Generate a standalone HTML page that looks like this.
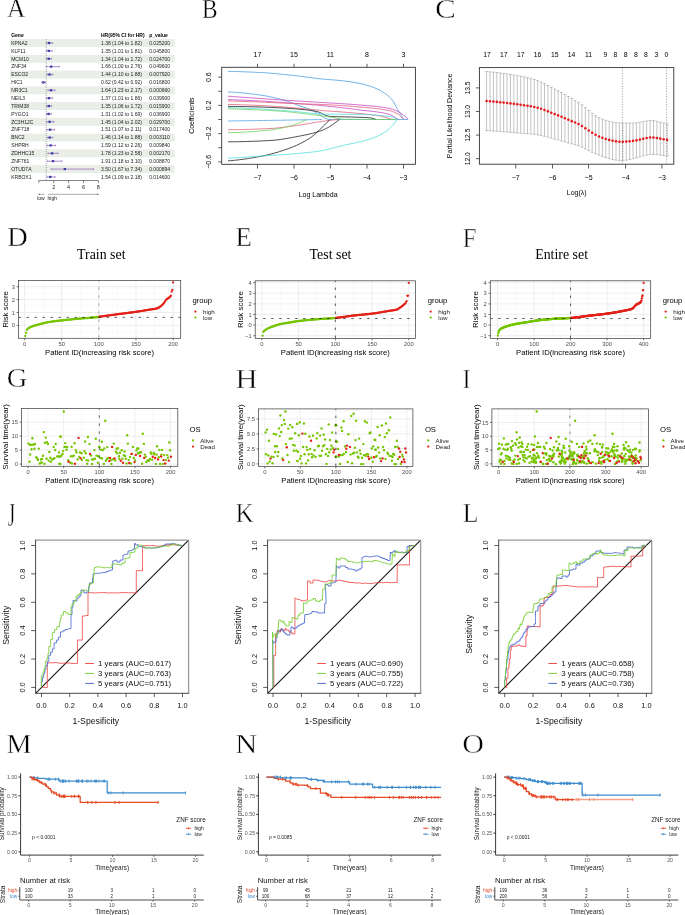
<!DOCTYPE html>
<html><head><meta charset="utf-8"><style>
html,body{margin:0;padding:0;background:#fff;}
svg{display:block;will-change:transform;}
.s{font-family:"Liberation Sans", sans-serif;}
.r{font-family:"Liberation Serif", serif;}
</style></head><body>
<svg width="685" height="915" viewBox="0 0 685 915">
<rect width="685" height="915" fill="#fff"/>
<text class="r" font-size="27.0" stroke="#fff" stroke-width="0.45" transform="translate(6.95 17.30) scale(0.9456 1.0210)">A</text>
<text class="s" x="11.20" y="36.80" font-size="5.0" font-weight="bold">Gene</text>
<text class="s" x="101.00" y="36.80" font-size="5.0" font-weight="bold">HR(95% CI for HR)</text>
<text class="s" x="149.20" y="36.80" font-size="5.0" font-weight="bold">p_value</text>
<rect x="10.00" y="39.06" width="164.70" height="7.88" fill="#e9eee7" stroke="none" stroke-width="1"/>
<rect x="10.00" y="54.82" width="164.70" height="7.88" fill="#e9eee7" stroke="none" stroke-width="1"/>
<rect x="10.00" y="70.58" width="164.70" height="7.88" fill="#e9eee7" stroke="none" stroke-width="1"/>
<rect x="10.00" y="86.34" width="164.70" height="7.88" fill="#e9eee7" stroke="none" stroke-width="1"/>
<rect x="10.00" y="102.10" width="164.70" height="7.88" fill="#e9eee7" stroke="none" stroke-width="1"/>
<rect x="10.00" y="117.86" width="164.70" height="7.88" fill="#e9eee7" stroke="none" stroke-width="1"/>
<rect x="10.00" y="133.62" width="164.70" height="7.88" fill="#e9eee7" stroke="none" stroke-width="1"/>
<rect x="10.00" y="149.38" width="164.70" height="7.88" fill="#e9eee7" stroke="none" stroke-width="1"/>
<rect x="10.00" y="165.14" width="164.70" height="7.88" fill="#e9eee7" stroke="none" stroke-width="1"/>
<line x1="46.25" y1="39.00" x2="46.25" y2="180.50" stroke="#777" stroke-width="0.6" stroke-dasharray="1,1"/>
<text class="s" x="11.20" y="44.80" font-size="5.0" fill="#222">KPNA2</text>
<text class="s" x="101.00" y="44.80" font-size="5.0" fill="#222">1.38 (1.04 to 1.82)</text>
<text class="s" x="149.20" y="44.80" font-size="5.0" fill="#222">0.025200</text>
<line x1="46.55" y1="43.00" x2="52.36" y2="43.00" stroke="#8e5bb5" stroke-width="0.7"/>
<line x1="46.55" y1="42.00" x2="46.55" y2="44.00" stroke="#8e5bb5" stroke-width="0.6"/>
<line x1="52.36" y1="42.00" x2="52.36" y2="44.00" stroke="#8e5bb5" stroke-width="0.6"/>
<rect x="47.88" y="41.90" width="2.40" height="2.20" fill="#3c3ca8" stroke="none" stroke-width="1"/>
<text class="s" x="11.20" y="52.68" font-size="5.0" fill="#222">KLF11</text>
<text class="s" x="101.00" y="52.68" font-size="5.0" fill="#222">1.35 (1.01 to 1.81)</text>
<text class="s" x="149.20" y="52.68" font-size="5.0" fill="#222">0.045800</text>
<line x1="46.32" y1="50.88" x2="52.28" y2="50.88" stroke="#8e5bb5" stroke-width="0.7"/>
<line x1="46.32" y1="49.88" x2="46.32" y2="51.88" stroke="#8e5bb5" stroke-width="0.6"/>
<line x1="52.28" y1="49.88" x2="52.28" y2="51.88" stroke="#8e5bb5" stroke-width="0.6"/>
<rect x="47.66" y="49.78" width="2.40" height="2.20" fill="#3c3ca8" stroke="none" stroke-width="1"/>
<text class="s" x="11.20" y="60.56" font-size="5.0" fill="#222">MCM10</text>
<text class="s" x="101.00" y="60.56" font-size="5.0" fill="#222">1.34 (1.04 to 1.72)</text>
<text class="s" x="149.20" y="60.56" font-size="5.0" fill="#222">0.024700</text>
<line x1="46.55" y1="58.76" x2="51.61" y2="58.76" stroke="#8e5bb5" stroke-width="0.7"/>
<line x1="46.55" y1="57.76" x2="46.55" y2="59.76" stroke="#8e5bb5" stroke-width="0.6"/>
<line x1="51.61" y1="57.76" x2="51.61" y2="59.76" stroke="#8e5bb5" stroke-width="0.6"/>
<rect x="47.58" y="57.66" width="2.40" height="2.20" fill="#3c3ca8" stroke="none" stroke-width="1"/>
<text class="s" x="11.20" y="68.44" font-size="5.0" fill="#222">ZNF34</text>
<text class="s" x="101.00" y="68.44" font-size="5.0" fill="#222">1.66 (1.00 to 2.76)</text>
<text class="s" x="149.20" y="68.44" font-size="5.0" fill="#222">0.049600</text>
<line x1="46.25" y1="66.64" x2="59.36" y2="66.64" stroke="#8e5bb5" stroke-width="0.7"/>
<line x1="46.25" y1="65.64" x2="46.25" y2="67.64" stroke="#8e5bb5" stroke-width="0.6"/>
<line x1="59.36" y1="65.64" x2="59.36" y2="67.64" stroke="#8e5bb5" stroke-width="0.6"/>
<rect x="49.97" y="65.54" width="2.40" height="2.20" fill="#3c3ca8" stroke="none" stroke-width="1"/>
<text class="s" x="11.20" y="76.32" font-size="5.0" fill="#222">ESCO2</text>
<text class="s" x="101.00" y="76.32" font-size="5.0" fill="#222">1.44 (1.10 to 1.88)</text>
<text class="s" x="149.20" y="76.32" font-size="5.0" fill="#222">0.007920</text>
<line x1="46.99" y1="74.52" x2="52.81" y2="74.52" stroke="#8e5bb5" stroke-width="0.7"/>
<line x1="46.99" y1="73.52" x2="46.99" y2="75.52" stroke="#8e5bb5" stroke-width="0.6"/>
<line x1="52.81" y1="73.52" x2="52.81" y2="75.52" stroke="#8e5bb5" stroke-width="0.6"/>
<rect x="48.33" y="73.42" width="2.40" height="2.20" fill="#3c3ca8" stroke="none" stroke-width="1"/>
<text class="s" x="11.20" y="84.20" font-size="5.0" fill="#222">HIC1</text>
<text class="s" x="101.00" y="84.20" font-size="5.0" fill="#222">0.62 (0.42 to 0.92)</text>
<text class="s" x="149.20" y="84.20" font-size="5.0" fill="#222">0.016800</text>
<line x1="41.93" y1="82.40" x2="45.65" y2="82.40" stroke="#8e5bb5" stroke-width="0.7"/>
<line x1="41.93" y1="81.40" x2="41.93" y2="83.40" stroke="#8e5bb5" stroke-width="0.6"/>
<line x1="45.65" y1="81.40" x2="45.65" y2="83.40" stroke="#8e5bb5" stroke-width="0.6"/>
<rect x="42.22" y="81.30" width="2.40" height="2.20" fill="#3c3ca8" stroke="none" stroke-width="1"/>
<text class="s" x="11.20" y="92.08" font-size="5.0" fill="#222">NR3C1</text>
<text class="s" x="101.00" y="92.08" font-size="5.0" fill="#222">1.64 (1.23 to 2.17)</text>
<text class="s" x="149.20" y="92.08" font-size="5.0" fill="#222">0.000660</text>
<line x1="47.96" y1="90.28" x2="54.97" y2="90.28" stroke="#8e5bb5" stroke-width="0.7"/>
<line x1="47.96" y1="89.28" x2="47.96" y2="91.28" stroke="#8e5bb5" stroke-width="0.6"/>
<line x1="54.97" y1="89.28" x2="54.97" y2="91.28" stroke="#8e5bb5" stroke-width="0.6"/>
<rect x="49.82" y="89.18" width="2.40" height="2.20" fill="#3c3ca8" stroke="none" stroke-width="1"/>
<text class="s" x="11.20" y="99.96" font-size="5.0" fill="#222">NEIL3</text>
<text class="s" x="101.00" y="99.96" font-size="5.0" fill="#222">1.37 (1.01 to 1.86)</text>
<text class="s" x="149.20" y="99.96" font-size="5.0" fill="#222">0.039900</text>
<line x1="46.32" y1="98.16" x2="52.66" y2="98.16" stroke="#8e5bb5" stroke-width="0.7"/>
<line x1="46.32" y1="97.16" x2="46.32" y2="99.16" stroke="#8e5bb5" stroke-width="0.6"/>
<line x1="52.66" y1="97.16" x2="52.66" y2="99.16" stroke="#8e5bb5" stroke-width="0.6"/>
<rect x="47.81" y="97.06" width="2.40" height="2.20" fill="#3c3ca8" stroke="none" stroke-width="1"/>
<text class="s" x="11.20" y="107.84" font-size="5.0" fill="#222">TRIM38</text>
<text class="s" x="101.00" y="107.84" font-size="5.0" fill="#222">1.35 (1.06 to 1.72)</text>
<text class="s" x="149.20" y="107.84" font-size="5.0" fill="#222">0.015900</text>
<line x1="46.70" y1="106.04" x2="51.61" y2="106.04" stroke="#8e5bb5" stroke-width="0.7"/>
<line x1="46.70" y1="105.04" x2="46.70" y2="107.04" stroke="#8e5bb5" stroke-width="0.6"/>
<line x1="51.61" y1="105.04" x2="51.61" y2="107.04" stroke="#8e5bb5" stroke-width="0.6"/>
<rect x="47.66" y="104.94" width="2.40" height="2.20" fill="#3c3ca8" stroke="none" stroke-width="1"/>
<text class="s" x="11.20" y="115.72" font-size="5.0" fill="#222">PYGO1</text>
<text class="s" x="101.00" y="115.72" font-size="5.0" fill="#222">1.31 (1.02 to 1.69)</text>
<text class="s" x="149.20" y="115.72" font-size="5.0" fill="#222">0.036900</text>
<line x1="46.40" y1="113.92" x2="51.39" y2="113.92" stroke="#8e5bb5" stroke-width="0.7"/>
<line x1="46.40" y1="112.92" x2="46.40" y2="114.92" stroke="#8e5bb5" stroke-width="0.6"/>
<line x1="51.39" y1="112.92" x2="51.39" y2="114.92" stroke="#8e5bb5" stroke-width="0.6"/>
<rect x="47.36" y="112.82" width="2.40" height="2.20" fill="#3c3ca8" stroke="none" stroke-width="1"/>
<text class="s" x="11.20" y="123.60" font-size="5.0" fill="#222">ZC3H12C</text>
<text class="s" x="101.00" y="123.60" font-size="5.0" fill="#222">1.45 (1.04 to 2.02)</text>
<text class="s" x="149.20" y="123.60" font-size="5.0" fill="#222">0.029700</text>
<line x1="46.55" y1="121.80" x2="53.85" y2="121.80" stroke="#8e5bb5" stroke-width="0.7"/>
<line x1="46.55" y1="120.80" x2="46.55" y2="122.80" stroke="#8e5bb5" stroke-width="0.6"/>
<line x1="53.85" y1="120.80" x2="53.85" y2="122.80" stroke="#8e5bb5" stroke-width="0.6"/>
<rect x="48.40" y="120.70" width="2.40" height="2.20" fill="#3c3ca8" stroke="none" stroke-width="1"/>
<text class="s" x="11.20" y="131.48" font-size="5.0" fill="#222">ZNF718</text>
<text class="s" x="101.00" y="131.48" font-size="5.0" fill="#222">1.51 (1.07 to 2.11)</text>
<text class="s" x="149.20" y="131.48" font-size="5.0" fill="#222">0.017400</text>
<line x1="46.77" y1="129.68" x2="54.52" y2="129.68" stroke="#8e5bb5" stroke-width="0.7"/>
<line x1="46.77" y1="128.68" x2="46.77" y2="130.68" stroke="#8e5bb5" stroke-width="0.6"/>
<line x1="54.52" y1="128.68" x2="54.52" y2="130.68" stroke="#8e5bb5" stroke-width="0.6"/>
<rect x="48.85" y="128.58" width="2.40" height="2.20" fill="#3c3ca8" stroke="none" stroke-width="1"/>
<text class="s" x="11.20" y="139.36" font-size="5.0" fill="#222">BNC2</text>
<text class="s" x="101.00" y="139.36" font-size="5.0" fill="#222">1.46 (1.14 to 1.88)</text>
<text class="s" x="149.20" y="139.36" font-size="5.0" fill="#222">0.003110</text>
<line x1="47.29" y1="137.56" x2="52.81" y2="137.56" stroke="#8e5bb5" stroke-width="0.7"/>
<line x1="47.29" y1="136.56" x2="47.29" y2="138.56" stroke="#8e5bb5" stroke-width="0.6"/>
<line x1="52.81" y1="136.56" x2="52.81" y2="138.56" stroke="#8e5bb5" stroke-width="0.6"/>
<rect x="48.48" y="136.46" width="2.40" height="2.20" fill="#3c3ca8" stroke="none" stroke-width="1"/>
<text class="s" x="11.20" y="147.24" font-size="5.0" fill="#222">SHPRH</text>
<text class="s" x="101.00" y="147.24" font-size="5.0" fill="#222">1.59 (1.12 to 2.26)</text>
<text class="s" x="149.20" y="147.24" font-size="5.0" fill="#222">0.009840</text>
<line x1="47.14" y1="145.44" x2="55.64" y2="145.44" stroke="#8e5bb5" stroke-width="0.7"/>
<line x1="47.14" y1="144.44" x2="47.14" y2="146.44" stroke="#8e5bb5" stroke-width="0.6"/>
<line x1="55.64" y1="144.44" x2="55.64" y2="146.44" stroke="#8e5bb5" stroke-width="0.6"/>
<rect x="49.45" y="144.34" width="2.40" height="2.20" fill="#3c3ca8" stroke="none" stroke-width="1"/>
<text class="s" x="11.20" y="155.12" font-size="5.0" fill="#222">ZDHHC15</text>
<text class="s" x="101.00" y="155.12" font-size="5.0" fill="#222">1.78 (1.23 to 2.58)</text>
<text class="s" x="149.20" y="155.12" font-size="5.0" fill="#222">0.002170</text>
<line x1="47.96" y1="153.32" x2="58.02" y2="153.32" stroke="#8e5bb5" stroke-width="0.7"/>
<line x1="47.96" y1="152.32" x2="47.96" y2="154.32" stroke="#8e5bb5" stroke-width="0.6"/>
<line x1="58.02" y1="152.32" x2="58.02" y2="154.32" stroke="#8e5bb5" stroke-width="0.6"/>
<rect x="50.86" y="152.22" width="2.40" height="2.20" fill="#3c3ca8" stroke="none" stroke-width="1"/>
<text class="s" x="11.20" y="163.00" font-size="5.0" fill="#222">ZNF761</text>
<text class="s" x="101.00" y="163.00" font-size="5.0" fill="#222">1.91 (1.18 to 3.10)</text>
<text class="s" x="149.20" y="163.00" font-size="5.0" fill="#222">0.008870</text>
<line x1="47.59" y1="161.20" x2="61.89" y2="161.20" stroke="#8e5bb5" stroke-width="0.7"/>
<line x1="47.59" y1="160.20" x2="47.59" y2="162.20" stroke="#8e5bb5" stroke-width="0.6"/>
<line x1="61.89" y1="160.20" x2="61.89" y2="162.20" stroke="#8e5bb5" stroke-width="0.6"/>
<rect x="51.83" y="160.10" width="2.40" height="2.20" fill="#3c3ca8" stroke="none" stroke-width="1"/>
<text class="s" x="11.20" y="170.88" font-size="5.0" fill="#222">OTUD7A</text>
<text class="s" x="101.00" y="170.88" font-size="5.0" fill="#222">3.50 (1.67 to 7.34)</text>
<text class="s" x="149.20" y="170.88" font-size="5.0" fill="#222">0.000894</text>
<line x1="51.24" y1="169.08" x2="93.48" y2="169.08" stroke="#8e5bb5" stroke-width="0.7"/>
<line x1="51.24" y1="168.08" x2="51.24" y2="170.08" stroke="#8e5bb5" stroke-width="0.6"/>
<line x1="93.48" y1="168.08" x2="93.48" y2="170.08" stroke="#8e5bb5" stroke-width="0.6"/>
<rect x="63.67" y="167.98" width="2.40" height="2.20" fill="#3c3ca8" stroke="none" stroke-width="1"/>
<text class="s" x="11.20" y="178.76" font-size="5.0" fill="#222">KRBOX1</text>
<text class="s" x="101.00" y="178.76" font-size="5.0" fill="#222">1.54 (1.09 to 2.18)</text>
<text class="s" x="149.20" y="178.76" font-size="5.0" fill="#222">0.014600</text>
<line x1="46.92" y1="176.96" x2="55.04" y2="176.96" stroke="#8e5bb5" stroke-width="0.7"/>
<line x1="46.92" y1="175.96" x2="46.92" y2="177.96" stroke="#8e5bb5" stroke-width="0.6"/>
<line x1="55.04" y1="175.96" x2="55.04" y2="177.96" stroke="#8e5bb5" stroke-width="0.6"/>
<rect x="49.07" y="175.86" width="2.40" height="2.20" fill="#3c3ca8" stroke="none" stroke-width="1"/>
<line x1="38.80" y1="180.50" x2="98.40" y2="180.50" stroke="#333" stroke-width="0.6"/>
<line x1="38.80" y1="180.50" x2="38.80" y2="183.10" stroke="#333" stroke-width="0.6"/>
<line x1="53.70" y1="180.50" x2="53.70" y2="183.10" stroke="#333" stroke-width="0.6"/>
<text class="s" x="53.70" y="189.00" font-size="5.5" text-anchor="middle" fill="#222">2</text>
<line x1="68.60" y1="180.50" x2="68.60" y2="183.10" stroke="#333" stroke-width="0.6"/>
<text class="s" x="68.60" y="189.00" font-size="5.5" text-anchor="middle" fill="#222">4</text>
<line x1="83.50" y1="180.50" x2="83.50" y2="183.10" stroke="#333" stroke-width="0.6"/>
<text class="s" x="83.50" y="189.00" font-size="5.5" text-anchor="middle" fill="#222">6</text>
<line x1="98.40" y1="180.50" x2="98.40" y2="183.10" stroke="#333" stroke-width="0.6"/>
<text class="s" x="98.40" y="189.00" font-size="5.5" text-anchor="middle" fill="#222">8</text>
<line x1="38.50" y1="194.30" x2="44.50" y2="194.30" stroke="#555" stroke-width="0.5"/>
<path d="M38.3,194.3 l1.5,-0.8 v1.6 z" fill="#555"/>
<line x1="48.00" y1="194.30" x2="98.50" y2="194.30" stroke="#555" stroke-width="0.5"/>
<path d="M98.8,194.3 l-1.5,-0.8 v1.6 z" fill="#555"/>
<text class="s" x="37.20" y="200.00" font-size="5.0" fill="#222">low</text>
<text class="s" x="47.60" y="200.00" font-size="5.0" fill="#222">high</text>
<text class="r" font-size="27.0" stroke="#fff" stroke-width="0.45" transform="translate(201.93 17.62) scale(0.8672 1.0193)">B</text>
<polyline points="228.00,71.40 230.22,71.42 232.45,71.46 234.67,71.50 236.89,71.56 239.11,71.62 241.34,71.69 243.56,71.77 245.78,71.85 248.01,71.94 250.23,72.04 252.45,72.14 254.67,72.24 256.90,72.35 259.12,72.46 261.34,72.57 263.56,72.70 265.79,72.84 268.01,73.00 270.23,73.17 272.46,73.36 274.68,73.55 276.90,73.76 279.12,73.97 281.35,74.19 283.57,74.41 285.79,74.64 288.02,74.87 290.24,75.11 292.46,75.34 294.68,75.57 296.91,75.82 299.13,76.09 301.35,76.37 303.57,76.67 305.80,76.97 308.02,77.27 310.24,77.57 312.47,77.87 314.69,78.16 316.91,78.44 319.13,78.70 321.36,78.94 323.58,79.15 325.80,79.34 328.03,79.51 330.25,79.68 332.47,79.84 334.69,80.01 336.92,80.20 339.14,80.41 341.36,80.65 343.58,80.90 345.81,81.18 348.03,81.48 350.25,81.80 352.48,82.14 354.70,82.51 356.92,82.90 359.14,83.33 361.37,83.79 363.59,84.32 365.81,84.91 368.04,85.57 370.26,86.29 372.48,87.06 374.70,87.89 376.93,88.81 379.15,89.89 381.37,91.12 383.59,92.49 385.82,93.99 388.04,95.71 390.26,97.74 392.49,100.21 394.71,104.00 396.93,108.18 399.15,111.91 401.38,115.64 403.60,119.50" fill="none" stroke="#4aa0e4" stroke-width="0.8" stroke-linejoin="round"/>
<polyline points="228.00,92.00 230.28,92.07 232.56,92.17 234.84,92.30 237.11,92.45 239.39,92.63 241.67,92.83 243.95,93.05 246.23,93.29 248.51,93.55 250.78,93.82 253.06,94.10 255.34,94.39 257.62,94.68 259.90,94.99 262.18,95.31 264.46,95.68 266.73,96.09 269.01,96.54 271.29,97.02 273.57,97.54 275.85,98.08 278.13,98.65 280.41,99.24 282.68,99.86 284.96,100.49 287.24,101.18 289.52,101.98 291.80,102.83 294.08,103.73 296.35,104.62 298.63,105.50 300.91,106.32 303.19,107.08 305.47,107.82 307.75,108.61 310.03,109.51 312.30,110.57 314.58,111.78 316.86,113.07 319.14,114.38 321.42,115.91 323.70,117.47 325.97,118.59 328.25,119.27 330.53,119.50 332.81,119.50 335.09,119.50 337.37,119.50 339.65,119.50 341.92,119.50 344.20,119.50 346.48,119.50 348.76,119.50 351.04,119.50 353.32,119.50 355.59,119.50 357.87,119.50 360.15,119.50 362.43,119.50 364.71,119.50 366.99,119.50 369.27,119.50 371.54,119.50 373.82,119.50 376.10,119.50 378.38,119.50 380.66,119.50 382.94,119.50 385.22,119.50 387.49,119.50 389.77,119.50 392.05,119.50 394.33,119.50 396.61,119.50 398.89,119.50 401.16,119.50 403.44,119.50 405.72,119.50 408.00,119.50" fill="none" stroke="#4aa0e4" stroke-width="0.8" stroke-linejoin="round"/>
<polyline points="228.00,96.20 230.28,96.37 232.56,96.54 234.85,96.71 237.13,96.87 239.41,97.04 241.69,97.21 243.98,97.37 246.26,97.53 248.54,97.70 250.82,97.86 253.11,98.02 255.39,98.18 257.67,98.34 259.95,98.50 262.23,98.65 264.52,98.81 266.80,98.97 269.08,99.12 271.36,99.27 273.65,99.43 275.93,99.58 278.21,99.73 280.49,99.88 282.77,100.03 285.06,100.18 287.34,100.33 289.62,100.48 291.90,100.62 294.19,100.77 296.47,100.91 298.75,101.05 301.03,101.20 303.32,101.34 305.60,101.48 307.88,101.62 310.16,101.76 312.44,101.90 314.73,102.04 317.01,102.18 319.29,102.33 321.57,102.47 323.86,102.62 326.14,102.76 328.42,102.90 330.70,103.03 332.98,103.17 335.27,103.31 337.55,103.44 339.83,103.58 342.11,103.72 344.40,103.87 346.68,104.01 348.96,104.17 351.24,104.32 353.53,104.49 355.81,104.66 358.09,104.84 360.37,105.03 362.65,105.22 364.94,105.41 367.22,105.60 369.50,105.80 371.78,106.00 374.07,106.22 376.35,106.46 378.63,106.73 380.91,107.01 383.19,107.33 385.48,107.68 387.76,108.07 390.04,108.52 392.32,109.17 394.61,110.01 396.89,110.98 399.17,112.11 401.45,113.58 403.74,115.29 406.02,117.24 408.30,119.50" fill="none" stroke="#c946c0" stroke-width="0.8" stroke-linejoin="round"/>
<polyline points="228.00,99.60 230.16,99.67 232.32,99.75 234.47,99.82 236.63,99.91 238.79,99.99 240.95,100.08 243.11,100.18 245.27,100.27 247.42,100.37 249.58,100.47 251.74,100.58 253.90,100.69 256.06,100.79 258.22,100.91 260.37,101.02 262.53,101.14 264.69,101.26 266.85,101.39 269.01,101.53 271.16,101.67 273.32,101.81 275.48,101.96 277.64,102.11 279.80,102.26 281.96,102.41 284.11,102.57 286.27,102.73 288.43,102.89 290.59,103.04 292.75,103.20 294.91,103.36 297.06,103.52 299.22,103.69 301.38,103.85 303.54,104.02 305.70,104.19 307.85,104.36 310.01,104.54 312.17,104.72 314.33,104.90 316.49,105.09 318.65,105.29 320.80,105.49 322.96,105.69 325.12,105.90 327.28,106.12 329.44,106.35 331.59,106.58 333.75,106.81 335.91,107.05 338.07,107.30 340.23,107.55 342.39,107.80 344.54,108.06 346.70,108.32 348.86,108.59 351.02,108.86 353.18,109.13 355.34,109.40 357.49,109.68 359.65,109.95 361.81,110.23 363.97,110.47 366.13,110.71 368.28,110.93 370.44,111.16 372.60,111.40 374.76,111.65 376.92,111.92 379.08,112.22 381.23,112.56 383.39,112.94 385.55,113.38 387.71,113.87 389.87,114.49 392.03,115.64 394.18,117.02 396.34,118.26 398.50,119.50" fill="none" stroke="#c946c0" stroke-width="0.8" stroke-linejoin="round"/>
<polyline points="228.00,101.00 230.22,101.05 232.45,101.10 234.67,101.16 236.89,101.22 239.11,101.28 241.34,101.35 243.56,101.42 245.78,101.49 248.01,101.56 250.23,101.64 252.45,101.72 254.67,101.80 256.90,101.88 259.12,101.97 261.34,102.05 263.56,102.15 265.79,102.26 268.01,102.37 270.23,102.49 272.46,102.61 274.68,102.73 276.90,102.86 279.12,102.98 281.35,103.10 283.57,103.21 285.79,103.32 288.02,103.42 290.24,103.51 292.46,103.59 294.68,103.67 296.91,103.73 299.13,103.80 301.35,103.86 303.57,103.92 305.80,103.98 308.02,104.04 310.24,104.10 312.47,104.17 314.69,104.23 316.91,104.31 319.13,104.39 321.36,104.47 323.58,104.57 325.80,104.67 328.03,104.78 330.25,104.89 332.47,105.01 334.69,105.14 336.92,105.28 339.14,105.42 341.36,105.56 343.58,105.72 345.81,105.87 348.03,106.04 350.25,106.20 352.48,106.38 354.70,106.56 356.92,106.74 359.14,106.93 361.37,107.12 363.59,107.31 365.81,107.50 368.04,107.69 370.26,107.90 372.48,108.12 374.70,108.35 376.93,108.60 379.15,108.88 381.37,109.19 383.59,109.53 385.82,109.90 388.04,110.31 390.26,110.79 392.49,111.46 394.71,112.33 396.93,113.41 399.15,114.80 401.38,116.92 403.60,119.50" fill="none" stroke="#e0607a" stroke-width="0.8" stroke-linejoin="round"/>
<polyline points="228.00,104.40 230.08,104.44 232.15,104.49 234.23,104.54 236.30,104.59 238.38,104.65 240.46,104.72 242.53,104.79 244.61,104.86 246.68,104.94 248.76,105.02 250.84,105.10 252.91,105.19 254.99,105.28 257.06,105.37 259.14,105.46 261.22,105.56 263.29,105.66 265.37,105.77 267.44,105.89 269.52,106.02 271.59,106.15 273.67,106.29 275.75,106.43 277.82,106.58 279.90,106.73 281.97,106.88 284.05,107.04 286.13,107.20 288.20,107.36 290.28,107.52 292.35,107.69 294.43,107.87 296.51,108.05 298.58,108.24 300.66,108.44 302.73,108.64 304.81,108.85 306.89,109.06 308.96,109.26 311.04,109.47 313.11,109.67 315.19,109.88 317.27,110.07 319.34,110.27 321.42,110.45 323.49,110.63 325.57,110.80 327.65,110.96 329.72,111.12 331.80,111.27 333.87,111.43 335.95,111.57 338.03,111.72 340.10,111.87 342.18,112.02 344.25,112.17 346.33,112.33 348.41,112.49 350.48,112.65 352.56,112.82 354.63,113.00 356.71,113.19 358.78,113.38 360.86,113.59 362.94,113.79 365.01,114.00 367.09,114.22 369.16,114.45 371.24,114.69 373.32,114.96 375.39,115.25 377.47,115.57 379.54,115.92 381.62,116.33 383.70,116.83 385.77,117.42 387.85,118.07 389.92,118.77 392.00,119.50" fill="none" stroke="#e0607a" stroke-width="0.8" stroke-linejoin="round"/>
<polyline points="228.00,106.40 229.87,106.41 231.75,106.42 233.62,106.44 235.49,106.46 237.37,106.48 239.24,106.51 241.11,106.54 242.99,106.58 244.86,106.62 246.73,106.66 248.61,106.70 250.48,106.75 252.35,106.80 254.23,106.84 256.10,106.89 257.97,106.94 259.85,107.00 261.72,107.05 263.59,107.11 265.47,107.18 267.34,107.25 269.22,107.32 271.09,107.41 272.96,107.49 274.84,107.59 276.71,107.68 278.58,107.79 280.46,107.89 282.33,108.00 284.20,108.12 286.08,108.24 287.95,108.36 289.82,108.49 291.70,108.62 293.57,108.75 295.44,108.89 297.32,109.04 299.19,109.20 301.06,109.37 302.94,109.55 304.81,109.74 306.68,109.95 308.56,110.18 310.43,110.43 312.30,110.70 314.18,110.99 316.05,111.31 317.92,111.80 319.80,112.53 321.67,113.41 323.54,114.32 325.42,115.17 327.29,115.87 329.16,116.31 331.04,116.46 332.91,116.55 334.78,116.62 336.66,116.68 338.53,116.73 340.41,116.77 342.28,116.81 344.15,116.85 346.03,116.89 347.90,116.94 349.77,116.99 351.65,117.05 353.52,117.11 355.39,117.16 357.27,117.20 359.14,117.26 361.01,117.32 362.89,117.38 364.76,117.47 366.63,117.57 368.51,117.69 370.38,117.84 372.25,118.23 374.13,118.84 376.00,119.50" fill="none" stroke="#1a1a1a" stroke-width="0.8" stroke-linejoin="round"/>
<polyline points="228.00,107.60 230.15,107.67 232.30,107.75 234.44,107.82 236.59,107.91 238.74,107.99 240.89,108.08 243.04,108.17 245.18,108.27 247.33,108.37 249.48,108.47 251.63,108.57 253.78,108.68 255.93,108.79 258.07,108.90 260.22,109.01 262.37,109.13 264.52,109.25 266.67,109.38 268.81,109.51 270.96,109.64 273.11,109.78 275.26,109.92 277.41,110.07 279.55,110.22 281.70,110.38 283.85,110.53 286.00,110.69 288.15,110.86 290.29,111.02 292.44,111.21 294.59,111.42 296.74,111.64 298.89,111.88 301.04,112.13 303.18,112.39 305.33,112.64 307.48,112.89 309.63,113.12 311.78,113.34 313.92,113.54 316.07,113.71 318.22,113.85 320.37,113.95 322.52,114.01 324.66,114.06 326.81,114.10 328.96,114.13 331.11,114.16 333.26,114.18 335.41,114.21 337.55,114.23 339.70,114.24 341.85,114.26 344.00,114.28 346.15,114.30 348.29,114.32 350.44,114.34 352.59,114.37 354.74,114.40 356.89,114.44 359.03,114.48 361.18,114.53 363.33,114.58 365.48,114.65 367.63,114.73 369.77,114.81 371.92,114.92 374.07,115.03 376.22,115.17 378.37,115.32 380.52,115.49 382.66,115.68 384.81,115.89 386.96,116.12 389.11,116.38 391.26,116.75 393.40,117.50 395.55,118.48 397.70,119.50" fill="none" stroke="#4fdde0" stroke-width="0.8" stroke-linejoin="round"/>
<polyline points="228.00,108.80 230.14,108.85 232.28,108.91 234.42,108.97 236.56,109.03 238.70,109.10 240.84,109.18 242.97,109.26 245.11,109.34 247.25,109.43 249.39,109.52 251.53,109.61 253.67,109.70 255.81,109.80 257.95,109.90 260.09,110.00 262.23,110.11 264.37,110.22 266.51,110.34 268.65,110.46 270.78,110.59 272.92,110.72 275.06,110.86 277.20,111.01 279.34,111.16 281.48,111.31 283.62,111.48 285.76,111.65 287.90,111.82 290.04,112.00 292.18,112.20 294.32,112.41 296.46,112.65 298.59,112.89 300.73,113.15 302.87,113.42 305.01,113.70 307.15,113.98 309.29,114.26 311.43,114.54 313.57,114.82 315.71,115.09 317.85,115.36 319.99,115.64 322.13,115.92 324.27,116.21 326.41,116.50 328.54,116.79 330.68,117.10 332.82,117.48 334.96,117.90 337.10,118.32 339.24,118.72 341.38,119.04 343.52,119.25 345.66,119.31 347.80,119.32 349.94,119.34 352.08,119.36 354.22,119.37 356.35,119.39 358.49,119.40 360.63,119.41 362.77,119.42 364.91,119.43 367.05,119.44 369.19,119.45 371.33,119.46 373.47,119.47 375.61,119.47 377.75,119.48 379.89,119.48 382.03,119.49 384.16,119.49 386.30,119.49 388.44,119.50 390.58,119.50 392.72,119.50 394.86,119.50 397.00,119.50" fill="none" stroke="#6cd05c" stroke-width="0.8" stroke-linejoin="round"/>
<polyline points="228.00,121.00 229.19,120.98 230.38,120.97 231.57,120.95 232.76,120.94 233.95,120.92 235.14,120.90 236.33,120.89 237.52,120.87 238.71,120.86 239.90,120.84 241.09,120.82 242.28,120.81 243.47,120.79 244.66,120.77 245.85,120.76 247.04,120.74 248.23,120.72 249.42,120.70 250.61,120.69 251.80,120.67 252.99,120.65 254.18,120.63 255.37,120.62 256.56,120.60 257.75,120.58 258.94,120.56 260.13,120.54 261.32,120.53 262.51,120.51 263.70,120.49 264.89,120.47 266.08,120.45 267.27,120.43 268.46,120.41 269.65,120.40 270.84,120.38 272.03,120.36 273.22,120.34 274.41,120.32 275.59,120.30 276.78,120.28 277.97,120.26 279.16,120.24 280.35,120.23 281.54,120.21 282.73,120.19 283.92,120.17 285.11,120.15 286.30,120.13 287.49,120.11 288.68,120.09 289.87,120.07 291.06,120.05 292.25,120.03 293.44,120.01 294.63,119.99 295.82,119.97 297.01,119.95 298.20,119.93 299.39,119.91 300.58,119.89 301.77,119.87 302.96,119.85 304.15,119.83 305.34,119.81 306.53,119.79 307.72,119.77 308.91,119.74 310.10,119.72 311.29,119.70 312.48,119.68 313.67,119.66 314.86,119.63 316.05,119.61 317.24,119.59 318.43,119.57 319.62,119.54 320.81,119.52 322.00,119.50" fill="none" stroke="#4aa0e4" stroke-width="0.8" stroke-linejoin="round"/>
<polyline points="228.00,129.70 229.39,129.70 230.78,129.69 232.18,129.68 233.57,129.67 234.96,129.66 236.35,129.64 237.75,129.62 239.14,129.59 240.53,129.57 241.92,129.54 243.32,129.51 244.71,129.47 246.10,129.43 247.49,129.39 248.89,129.35 250.28,129.31 251.67,129.26 253.06,129.21 254.46,129.16 255.85,129.11 257.24,129.06 258.63,129.00 260.03,128.95 261.42,128.89 262.81,128.83 264.20,128.77 265.59,128.70 266.99,128.64 268.38,128.58 269.77,128.51 271.16,128.44 272.56,128.35 273.95,128.25 275.34,128.14 276.73,128.02 278.13,127.88 279.52,127.74 280.91,127.58 282.30,127.42 283.70,127.25 285.09,127.08 286.48,126.89 287.87,126.71 289.27,126.51 290.66,126.32 292.05,126.12 293.44,125.93 294.84,125.73 296.23,125.53 297.62,125.33 299.01,125.14 300.41,124.94 301.80,124.74 303.19,124.53 304.58,124.31 305.97,124.07 307.37,123.84 308.76,123.59 310.15,123.35 311.54,123.10 312.94,122.86 314.33,122.61 315.72,122.37 317.11,122.14 318.51,121.92 319.90,121.70 321.29,121.50 322.68,121.31 324.08,121.12 325.47,120.94 326.86,120.76 328.25,120.59 329.65,120.42 331.04,120.25 332.43,120.09 333.82,119.94 335.22,119.79 336.61,119.64 338.00,119.50" fill="none" stroke="#e0607a" stroke-width="0.8" stroke-linejoin="round"/>
<polyline points="228.00,132.60 229.00,132.60 229.99,132.59 230.99,132.58 231.98,132.57 232.98,132.55 233.98,132.53 234.97,132.51 235.97,132.48 236.97,132.45 237.96,132.41 238.96,132.37 239.95,132.33 240.95,132.29 241.95,132.24 242.94,132.19 243.94,132.14 244.94,132.08 245.93,132.03 246.93,131.96 247.92,131.90 248.92,131.83 249.92,131.77 250.91,131.70 251.91,131.62 252.91,131.55 253.90,131.47 254.90,131.39 255.89,131.31 256.89,131.23 257.89,131.14 258.88,131.06 259.88,130.97 260.87,130.88 261.87,130.79 262.87,130.70 263.86,130.60 264.86,130.51 265.86,130.41 266.85,130.31 267.85,130.22 268.84,130.12 269.84,130.02 270.84,129.91 271.83,129.79 272.83,129.66 273.83,129.52 274.82,129.37 275.82,129.21 276.81,129.03 277.81,128.85 278.81,128.66 279.80,128.46 280.80,128.25 281.79,128.03 282.79,127.80 283.79,127.57 284.78,127.33 285.78,127.09 286.78,126.84 287.77,126.58 288.77,126.33 289.76,126.06 290.76,125.79 291.76,125.50 292.75,125.20 293.75,124.87 294.75,124.53 295.74,124.18 296.74,123.81 297.73,123.43 298.73,123.03 299.73,122.63 300.72,122.21 301.72,121.78 302.72,121.34 303.71,120.89 304.71,120.43 305.70,119.97 306.70,119.50" fill="none" stroke="#6cd05c" stroke-width="0.8" stroke-linejoin="round"/>
<polyline points="228.00,141.80 229.41,141.80 230.82,141.79 232.23,141.78 233.64,141.77 235.05,141.75 236.46,141.74 237.87,141.71 239.28,141.69 240.69,141.66 242.10,141.63 243.51,141.59 244.92,141.55 246.33,141.51 247.74,141.47 249.15,141.42 250.56,141.38 251.97,141.33 253.38,141.27 254.79,141.22 256.20,141.16 257.61,141.10 259.02,141.04 260.43,140.98 261.84,140.91 263.25,140.84 264.66,140.77 266.07,140.70 267.48,140.63 268.89,140.56 270.30,140.48 271.71,140.39 273.12,140.29 274.53,140.16 275.94,140.02 277.35,139.86 278.76,139.68 280.17,139.50 281.58,139.30 282.99,139.09 284.41,138.86 285.82,138.63 287.23,138.39 288.64,138.14 290.05,137.89 291.46,137.63 292.87,137.37 294.28,137.10 295.69,136.83 297.10,136.56 298.51,136.29 299.92,136.02 301.33,135.74 302.74,135.47 304.15,135.19 305.56,134.90 306.97,134.60 308.38,134.29 309.79,133.97 311.20,133.64 312.61,133.29 314.02,132.92 315.43,132.53 316.84,132.12 318.25,131.68 319.66,131.22 321.07,130.74 322.48,130.22 323.89,129.63 325.30,128.98 326.71,128.25 328.12,127.46 329.53,126.61 330.94,125.71 332.35,124.77 333.76,123.78 335.17,122.75 336.58,121.69 337.99,120.61 339.40,119.50" fill="none" stroke="#1a1a1a" stroke-width="0.8" stroke-linejoin="round"/>
<polyline points="228.00,160.80 229.29,160.72 230.58,160.63 231.87,160.53 233.16,160.42 234.45,160.30 235.74,160.17 237.03,160.03 238.32,159.89 239.61,159.73 240.90,159.57 242.19,159.40 243.48,159.23 244.77,159.04 246.06,158.85 247.35,158.66 248.64,158.46 249.93,158.25 251.22,158.04 252.51,157.82 253.80,157.60 255.09,157.38 256.38,157.15 257.67,156.92 258.96,156.69 260.25,156.45 261.54,156.21 262.83,155.95 264.12,155.68 265.41,155.40 266.70,155.11 267.99,154.80 269.28,154.48 270.57,154.16 271.86,153.82 273.15,153.47 274.44,153.11 275.73,152.74 277.02,152.35 278.31,151.96 279.59,151.56 280.88,151.15 282.17,150.73 283.46,150.30 284.75,149.87 286.04,149.42 287.33,148.97 288.62,148.50 289.91,148.03 291.20,147.55 292.49,147.05 293.78,146.52 295.07,145.98 296.36,145.42 297.65,144.83 298.94,144.22 300.23,143.59 301.52,142.94 302.81,142.26 304.10,141.55 305.39,140.82 306.68,140.07 307.97,139.29 309.26,138.48 310.55,137.63 311.84,136.70 313.13,135.68 314.42,134.60 315.71,133.45 317.00,132.26 318.29,131.04 319.58,129.81 320.87,128.57 322.16,127.35 323.45,126.11 324.74,124.84 326.03,123.54 327.32,122.22 328.61,120.87 329.90,119.50" fill="none" stroke="#1a1a1a" stroke-width="0.8" stroke-linejoin="round"/>
<polyline points="228.00,158.20 230.14,158.08 232.28,157.96 234.42,157.84 236.56,157.72 238.70,157.59 240.84,157.46 242.97,157.33 245.11,157.19 247.25,157.06 249.39,156.92 251.53,156.78 253.67,156.64 255.81,156.50 257.95,156.35 260.09,156.20 262.23,156.06 264.37,155.91 266.51,155.75 268.65,155.60 270.78,155.44 272.92,155.29 275.06,155.14 277.20,154.99 279.34,154.84 281.48,154.70 283.62,154.55 285.76,154.40 287.90,154.24 290.04,154.09 292.18,153.93 294.32,153.76 296.46,153.59 298.59,153.41 300.73,153.23 302.87,153.03 305.01,152.83 307.15,152.61 309.29,152.39 311.43,152.15 313.57,151.90 315.71,151.64 317.85,151.34 319.99,150.99 322.13,150.60 324.27,150.16 326.41,149.68 328.54,149.18 330.68,148.65 332.82,148.11 334.96,147.56 337.10,147.01 339.24,146.46 341.38,145.92 343.52,145.39 345.66,144.90 347.80,144.42 349.94,143.96 352.08,143.51 354.22,143.05 356.35,142.60 358.49,142.12 360.63,141.62 362.77,141.09 364.91,140.53 367.05,139.91 369.19,139.26 371.33,138.55 373.47,137.79 375.61,136.96 377.75,136.04 379.89,135.04 382.03,133.92 384.16,132.62 386.30,131.08 388.44,129.33 390.58,127.39 392.72,125.22 394.86,122.54 397.00,119.50" fill="none" stroke="#4fdde0" stroke-width="0.8" stroke-linejoin="round"/>
<rect x="221.70" y="67.30" width="193.70" height="97.00" fill="none" stroke="#333" stroke-width="0.9"/>
<line x1="221.70" y1="77.14" x2="218.20" y2="77.14" stroke="#333" stroke-width="0.8"/>
<line x1="221.70" y1="91.26" x2="218.20" y2="91.26" stroke="#333" stroke-width="0.8"/>
<line x1="221.70" y1="105.38" x2="218.20" y2="105.38" stroke="#333" stroke-width="0.8"/>
<line x1="221.70" y1="119.50" x2="218.20" y2="119.50" stroke="#333" stroke-width="0.8"/>
<line x1="221.70" y1="133.62" x2="218.20" y2="133.62" stroke="#333" stroke-width="0.8"/>
<line x1="221.70" y1="147.74" x2="218.20" y2="147.74" stroke="#333" stroke-width="0.8"/>
<line x1="221.70" y1="161.86" x2="218.20" y2="161.86" stroke="#333" stroke-width="0.8"/>
<text class="s" x="211.20" y="77.14" font-size="7.0" text-anchor="middle" transform="rotate(-90 211.20 77.14)">0.6</text>
<text class="s" x="211.20" y="105.38" font-size="7.0" text-anchor="middle" transform="rotate(-90 211.20 105.38)">0.2</text>
<text class="s" x="211.20" y="133.62" font-size="7.0" text-anchor="middle" transform="rotate(-90 211.20 133.62)">−0.2</text>
<text class="s" x="211.20" y="161.86" font-size="7.0" text-anchor="middle" transform="rotate(-90 211.20 161.86)">−0.6</text>
<text class="s" x="194.30" y="115.60" font-size="7.0" text-anchor="middle" transform="rotate(-90 194.30 115.60)">Coefficients</text>
<line x1="257.50" y1="164.30" x2="257.50" y2="168.60" stroke="#333" stroke-width="0.8"/>
<line x1="257.50" y1="67.30" x2="257.50" y2="63.80" stroke="#333" stroke-width="0.8"/>
<text class="s" x="257.50" y="180.00" font-size="7.0" text-anchor="middle">−7</text>
<text class="s" x="257.50" y="57.30" font-size="7.0" text-anchor="middle">17</text>
<line x1="294.00" y1="164.30" x2="294.00" y2="168.60" stroke="#333" stroke-width="0.8"/>
<line x1="294.00" y1="67.30" x2="294.00" y2="63.80" stroke="#333" stroke-width="0.8"/>
<text class="s" x="294.00" y="180.00" font-size="7.0" text-anchor="middle">−6</text>
<text class="s" x="294.00" y="57.30" font-size="7.0" text-anchor="middle">15</text>
<line x1="330.40" y1="164.30" x2="330.40" y2="168.60" stroke="#333" stroke-width="0.8"/>
<line x1="330.40" y1="67.30" x2="330.40" y2="63.80" stroke="#333" stroke-width="0.8"/>
<text class="s" x="330.40" y="180.00" font-size="7.0" text-anchor="middle">−5</text>
<text class="s" x="330.40" y="57.30" font-size="7.0" text-anchor="middle">11</text>
<line x1="367.00" y1="164.30" x2="367.00" y2="168.60" stroke="#333" stroke-width="0.8"/>
<line x1="367.00" y1="67.30" x2="367.00" y2="63.80" stroke="#333" stroke-width="0.8"/>
<text class="s" x="367.00" y="180.00" font-size="7.0" text-anchor="middle">−4</text>
<text class="s" x="367.00" y="57.30" font-size="7.0" text-anchor="middle">8</text>
<line x1="403.50" y1="164.30" x2="403.50" y2="168.60" stroke="#333" stroke-width="0.8"/>
<line x1="403.50" y1="67.30" x2="403.50" y2="63.80" stroke="#333" stroke-width="0.8"/>
<text class="s" x="403.50" y="180.00" font-size="7.0" text-anchor="middle">−3</text>
<text class="s" x="403.50" y="57.30" font-size="7.0" text-anchor="middle">3</text>
<text class="s" x="318.10" y="197.30" font-size="7.0" text-anchor="middle">Log Lambda</text>
<text class="r" font-size="27.0" stroke="#fff" stroke-width="0.45" transform="translate(434.92 18.13) scale(1.1550 1.0253)">C</text>
<line x1="486.60" y1="71.55" x2="486.60" y2="130.55" stroke="#9c9c9c" stroke-width="0.6"/>
<line x1="485.15" y1="71.55" x2="488.05" y2="71.55" stroke="#9c9c9c" stroke-width="0.6"/>
<line x1="485.15" y1="130.55" x2="488.05" y2="130.55" stroke="#9c9c9c" stroke-width="0.6"/>
<line x1="490.01" y1="71.82" x2="490.01" y2="130.79" stroke="#9c9c9c" stroke-width="0.6"/>
<line x1="488.56" y1="71.82" x2="491.46" y2="71.82" stroke="#9c9c9c" stroke-width="0.6"/>
<line x1="488.56" y1="130.79" x2="491.46" y2="130.79" stroke="#9c9c9c" stroke-width="0.6"/>
<line x1="493.41" y1="72.15" x2="493.41" y2="131.04" stroke="#9c9c9c" stroke-width="0.6"/>
<line x1="491.96" y1="72.15" x2="494.86" y2="72.15" stroke="#9c9c9c" stroke-width="0.6"/>
<line x1="491.96" y1="131.04" x2="494.86" y2="131.04" stroke="#9c9c9c" stroke-width="0.6"/>
<line x1="496.82" y1="72.54" x2="496.82" y2="131.29" stroke="#9c9c9c" stroke-width="0.6"/>
<line x1="495.37" y1="72.54" x2="498.27" y2="72.54" stroke="#9c9c9c" stroke-width="0.6"/>
<line x1="495.37" y1="131.29" x2="498.27" y2="131.29" stroke="#9c9c9c" stroke-width="0.6"/>
<line x1="500.22" y1="72.97" x2="500.22" y2="131.54" stroke="#9c9c9c" stroke-width="0.6"/>
<line x1="498.77" y1="72.97" x2="501.67" y2="72.97" stroke="#9c9c9c" stroke-width="0.6"/>
<line x1="498.77" y1="131.54" x2="501.67" y2="131.54" stroke="#9c9c9c" stroke-width="0.6"/>
<line x1="503.63" y1="73.44" x2="503.63" y2="131.80" stroke="#9c9c9c" stroke-width="0.6"/>
<line x1="502.18" y1="73.44" x2="505.08" y2="73.44" stroke="#9c9c9c" stroke-width="0.6"/>
<line x1="502.18" y1="131.80" x2="505.08" y2="131.80" stroke="#9c9c9c" stroke-width="0.6"/>
<line x1="507.03" y1="73.95" x2="507.03" y2="132.07" stroke="#9c9c9c" stroke-width="0.6"/>
<line x1="505.58" y1="73.95" x2="508.48" y2="73.95" stroke="#9c9c9c" stroke-width="0.6"/>
<line x1="505.58" y1="132.07" x2="508.48" y2="132.07" stroke="#9c9c9c" stroke-width="0.6"/>
<line x1="510.44" y1="74.49" x2="510.44" y2="132.34" stroke="#9c9c9c" stroke-width="0.6"/>
<line x1="508.99" y1="74.49" x2="511.89" y2="74.49" stroke="#9c9c9c" stroke-width="0.6"/>
<line x1="508.99" y1="132.34" x2="511.89" y2="132.34" stroke="#9c9c9c" stroke-width="0.6"/>
<line x1="513.85" y1="75.06" x2="513.85" y2="132.61" stroke="#9c9c9c" stroke-width="0.6"/>
<line x1="512.40" y1="75.06" x2="515.30" y2="75.06" stroke="#9c9c9c" stroke-width="0.6"/>
<line x1="512.40" y1="132.61" x2="515.30" y2="132.61" stroke="#9c9c9c" stroke-width="0.6"/>
<line x1="517.25" y1="75.65" x2="517.25" y2="132.90" stroke="#9c9c9c" stroke-width="0.6"/>
<line x1="515.80" y1="75.65" x2="518.70" y2="75.65" stroke="#9c9c9c" stroke-width="0.6"/>
<line x1="515.80" y1="132.90" x2="518.70" y2="132.90" stroke="#9c9c9c" stroke-width="0.6"/>
<line x1="520.66" y1="76.25" x2="520.66" y2="133.18" stroke="#9c9c9c" stroke-width="0.6"/>
<line x1="519.21" y1="76.25" x2="522.11" y2="76.25" stroke="#9c9c9c" stroke-width="0.6"/>
<line x1="519.21" y1="133.18" x2="522.11" y2="133.18" stroke="#9c9c9c" stroke-width="0.6"/>
<line x1="524.06" y1="76.91" x2="524.06" y2="133.46" stroke="#9c9c9c" stroke-width="0.6"/>
<line x1="522.61" y1="76.91" x2="525.51" y2="76.91" stroke="#9c9c9c" stroke-width="0.6"/>
<line x1="522.61" y1="133.46" x2="525.51" y2="133.46" stroke="#9c9c9c" stroke-width="0.6"/>
<line x1="527.47" y1="77.67" x2="527.47" y2="133.72" stroke="#9c9c9c" stroke-width="0.6"/>
<line x1="526.02" y1="77.67" x2="528.92" y2="77.67" stroke="#9c9c9c" stroke-width="0.6"/>
<line x1="526.02" y1="133.72" x2="528.92" y2="133.72" stroke="#9c9c9c" stroke-width="0.6"/>
<line x1="530.87" y1="78.54" x2="530.87" y2="134.01" stroke="#9c9c9c" stroke-width="0.6"/>
<line x1="529.42" y1="78.54" x2="532.32" y2="78.54" stroke="#9c9c9c" stroke-width="0.6"/>
<line x1="529.42" y1="134.01" x2="532.32" y2="134.01" stroke="#9c9c9c" stroke-width="0.6"/>
<line x1="534.28" y1="79.53" x2="534.28" y2="134.33" stroke="#9c9c9c" stroke-width="0.6"/>
<line x1="532.83" y1="79.53" x2="535.73" y2="79.53" stroke="#9c9c9c" stroke-width="0.6"/>
<line x1="532.83" y1="134.33" x2="535.73" y2="134.33" stroke="#9c9c9c" stroke-width="0.6"/>
<line x1="537.68" y1="80.67" x2="537.68" y2="134.76" stroke="#9c9c9c" stroke-width="0.6"/>
<line x1="536.23" y1="80.67" x2="539.13" y2="80.67" stroke="#9c9c9c" stroke-width="0.6"/>
<line x1="536.23" y1="134.76" x2="539.13" y2="134.76" stroke="#9c9c9c" stroke-width="0.6"/>
<line x1="541.09" y1="82.09" x2="541.09" y2="135.41" stroke="#9c9c9c" stroke-width="0.6"/>
<line x1="539.64" y1="82.09" x2="542.54" y2="82.09" stroke="#9c9c9c" stroke-width="0.6"/>
<line x1="539.64" y1="135.41" x2="542.54" y2="135.41" stroke="#9c9c9c" stroke-width="0.6"/>
<line x1="544.50" y1="83.72" x2="544.50" y2="136.25" stroke="#9c9c9c" stroke-width="0.6"/>
<line x1="543.05" y1="83.72" x2="545.95" y2="83.72" stroke="#9c9c9c" stroke-width="0.6"/>
<line x1="543.05" y1="136.25" x2="545.95" y2="136.25" stroke="#9c9c9c" stroke-width="0.6"/>
<line x1="547.90" y1="85.49" x2="547.90" y2="137.19" stroke="#9c9c9c" stroke-width="0.6"/>
<line x1="546.45" y1="85.49" x2="549.35" y2="85.49" stroke="#9c9c9c" stroke-width="0.6"/>
<line x1="546.45" y1="137.19" x2="549.35" y2="137.19" stroke="#9c9c9c" stroke-width="0.6"/>
<line x1="551.31" y1="87.30" x2="551.31" y2="138.18" stroke="#9c9c9c" stroke-width="0.6"/>
<line x1="549.86" y1="87.30" x2="552.76" y2="87.30" stroke="#9c9c9c" stroke-width="0.6"/>
<line x1="549.86" y1="138.18" x2="552.76" y2="138.18" stroke="#9c9c9c" stroke-width="0.6"/>
<line x1="554.71" y1="89.06" x2="554.71" y2="139.12" stroke="#9c9c9c" stroke-width="0.6"/>
<line x1="553.26" y1="89.06" x2="556.16" y2="89.06" stroke="#9c9c9c" stroke-width="0.6"/>
<line x1="553.26" y1="139.12" x2="556.16" y2="139.12" stroke="#9c9c9c" stroke-width="0.6"/>
<line x1="558.12" y1="90.79" x2="558.12" y2="140.02" stroke="#9c9c9c" stroke-width="0.6"/>
<line x1="556.67" y1="90.79" x2="559.57" y2="90.79" stroke="#9c9c9c" stroke-width="0.6"/>
<line x1="556.67" y1="140.02" x2="559.57" y2="140.02" stroke="#9c9c9c" stroke-width="0.6"/>
<line x1="561.52" y1="92.61" x2="561.52" y2="140.93" stroke="#9c9c9c" stroke-width="0.6"/>
<line x1="560.07" y1="92.61" x2="562.97" y2="92.61" stroke="#9c9c9c" stroke-width="0.6"/>
<line x1="560.07" y1="140.93" x2="562.97" y2="140.93" stroke="#9c9c9c" stroke-width="0.6"/>
<line x1="564.93" y1="94.53" x2="564.93" y2="141.89" stroke="#9c9c9c" stroke-width="0.6"/>
<line x1="563.48" y1="94.53" x2="566.38" y2="94.53" stroke="#9c9c9c" stroke-width="0.6"/>
<line x1="563.48" y1="141.89" x2="566.38" y2="141.89" stroke="#9c9c9c" stroke-width="0.6"/>
<line x1="568.34" y1="96.51" x2="568.34" y2="142.88" stroke="#9c9c9c" stroke-width="0.6"/>
<line x1="566.89" y1="96.51" x2="569.79" y2="96.51" stroke="#9c9c9c" stroke-width="0.6"/>
<line x1="566.89" y1="142.88" x2="569.79" y2="142.88" stroke="#9c9c9c" stroke-width="0.6"/>
<line x1="571.74" y1="98.48" x2="571.74" y2="143.84" stroke="#9c9c9c" stroke-width="0.6"/>
<line x1="570.29" y1="98.48" x2="573.19" y2="98.48" stroke="#9c9c9c" stroke-width="0.6"/>
<line x1="570.29" y1="143.84" x2="573.19" y2="143.84" stroke="#9c9c9c" stroke-width="0.6"/>
<line x1="575.15" y1="100.34" x2="575.15" y2="144.71" stroke="#9c9c9c" stroke-width="0.6"/>
<line x1="573.70" y1="100.34" x2="576.60" y2="100.34" stroke="#9c9c9c" stroke-width="0.6"/>
<line x1="573.70" y1="144.71" x2="576.60" y2="144.71" stroke="#9c9c9c" stroke-width="0.6"/>
<line x1="578.55" y1="102.33" x2="578.55" y2="145.72" stroke="#9c9c9c" stroke-width="0.6"/>
<line x1="577.10" y1="102.33" x2="580.00" y2="102.33" stroke="#9c9c9c" stroke-width="0.6"/>
<line x1="577.10" y1="145.72" x2="580.00" y2="145.72" stroke="#9c9c9c" stroke-width="0.6"/>
<line x1="581.96" y1="104.82" x2="581.96" y2="147.25" stroke="#9c9c9c" stroke-width="0.6"/>
<line x1="580.51" y1="104.82" x2="583.41" y2="104.82" stroke="#9c9c9c" stroke-width="0.6"/>
<line x1="580.51" y1="147.25" x2="583.41" y2="147.25" stroke="#9c9c9c" stroke-width="0.6"/>
<line x1="585.36" y1="107.64" x2="585.36" y2="148.94" stroke="#9c9c9c" stroke-width="0.6"/>
<line x1="583.91" y1="107.64" x2="586.81" y2="107.64" stroke="#9c9c9c" stroke-width="0.6"/>
<line x1="583.91" y1="148.94" x2="586.81" y2="148.94" stroke="#9c9c9c" stroke-width="0.6"/>
<line x1="588.77" y1="110.46" x2="588.77" y2="150.57" stroke="#9c9c9c" stroke-width="0.6"/>
<line x1="587.32" y1="110.46" x2="590.22" y2="110.46" stroke="#9c9c9c" stroke-width="0.6"/>
<line x1="587.32" y1="150.57" x2="590.22" y2="150.57" stroke="#9c9c9c" stroke-width="0.6"/>
<line x1="592.18" y1="113.28" x2="592.18" y2="152.25" stroke="#9c9c9c" stroke-width="0.6"/>
<line x1="590.73" y1="113.28" x2="593.63" y2="113.28" stroke="#9c9c9c" stroke-width="0.6"/>
<line x1="590.73" y1="152.25" x2="593.63" y2="152.25" stroke="#9c9c9c" stroke-width="0.6"/>
<line x1="595.58" y1="115.73" x2="595.58" y2="153.76" stroke="#9c9c9c" stroke-width="0.6"/>
<line x1="594.13" y1="115.73" x2="597.03" y2="115.73" stroke="#9c9c9c" stroke-width="0.6"/>
<line x1="594.13" y1="153.76" x2="597.03" y2="153.76" stroke="#9c9c9c" stroke-width="0.6"/>
<line x1="598.99" y1="117.73" x2="598.99" y2="155.13" stroke="#9c9c9c" stroke-width="0.6"/>
<line x1="597.54" y1="117.73" x2="600.44" y2="117.73" stroke="#9c9c9c" stroke-width="0.6"/>
<line x1="597.54" y1="155.13" x2="600.44" y2="155.13" stroke="#9c9c9c" stroke-width="0.6"/>
<line x1="602.39" y1="119.23" x2="602.39" y2="156.43" stroke="#9c9c9c" stroke-width="0.6"/>
<line x1="600.94" y1="119.23" x2="603.84" y2="119.23" stroke="#9c9c9c" stroke-width="0.6"/>
<line x1="600.94" y1="156.43" x2="603.84" y2="156.43" stroke="#9c9c9c" stroke-width="0.6"/>
<line x1="605.80" y1="120.32" x2="605.80" y2="157.56" stroke="#9c9c9c" stroke-width="0.6"/>
<line x1="604.35" y1="120.32" x2="607.25" y2="120.32" stroke="#9c9c9c" stroke-width="0.6"/>
<line x1="604.35" y1="157.56" x2="607.25" y2="157.56" stroke="#9c9c9c" stroke-width="0.6"/>
<line x1="609.20" y1="121.22" x2="609.20" y2="158.53" stroke="#9c9c9c" stroke-width="0.6"/>
<line x1="607.75" y1="121.22" x2="610.65" y2="121.22" stroke="#9c9c9c" stroke-width="0.6"/>
<line x1="607.75" y1="158.53" x2="610.65" y2="158.53" stroke="#9c9c9c" stroke-width="0.6"/>
<line x1="612.61" y1="122.07" x2="612.61" y2="159.49" stroke="#9c9c9c" stroke-width="0.6"/>
<line x1="611.16" y1="122.07" x2="614.06" y2="122.07" stroke="#9c9c9c" stroke-width="0.6"/>
<line x1="611.16" y1="159.49" x2="614.06" y2="159.49" stroke="#9c9c9c" stroke-width="0.6"/>
<line x1="616.02" y1="122.61" x2="616.02" y2="160.12" stroke="#9c9c9c" stroke-width="0.6"/>
<line x1="614.57" y1="122.61" x2="617.47" y2="122.61" stroke="#9c9c9c" stroke-width="0.6"/>
<line x1="614.57" y1="160.12" x2="617.47" y2="160.12" stroke="#9c9c9c" stroke-width="0.6"/>
<line x1="619.42" y1="122.89" x2="619.42" y2="160.48" stroke="#9c9c9c" stroke-width="0.6"/>
<line x1="617.97" y1="122.89" x2="620.87" y2="122.89" stroke="#9c9c9c" stroke-width="0.6"/>
<line x1="617.97" y1="160.48" x2="620.87" y2="160.48" stroke="#9c9c9c" stroke-width="0.6"/>
<line x1="622.83" y1="123.01" x2="622.83" y2="160.59" stroke="#9c9c9c" stroke-width="0.6"/>
<line x1="621.38" y1="123.01" x2="624.28" y2="123.01" stroke="#9c9c9c" stroke-width="0.6"/>
<line x1="621.38" y1="160.59" x2="624.28" y2="160.59" stroke="#9c9c9c" stroke-width="0.6"/>
<line x1="626.23" y1="123.01" x2="626.23" y2="160.20" stroke="#9c9c9c" stroke-width="0.6"/>
<line x1="624.78" y1="123.01" x2="627.68" y2="123.01" stroke="#9c9c9c" stroke-width="0.6"/>
<line x1="624.78" y1="160.20" x2="627.68" y2="160.20" stroke="#9c9c9c" stroke-width="0.6"/>
<line x1="629.64" y1="123.05" x2="629.64" y2="159.52" stroke="#9c9c9c" stroke-width="0.6"/>
<line x1="628.19" y1="123.05" x2="631.09" y2="123.05" stroke="#9c9c9c" stroke-width="0.6"/>
<line x1="628.19" y1="159.52" x2="631.09" y2="159.52" stroke="#9c9c9c" stroke-width="0.6"/>
<line x1="633.04" y1="123.04" x2="633.04" y2="158.72" stroke="#9c9c9c" stroke-width="0.6"/>
<line x1="631.59" y1="123.04" x2="634.49" y2="123.04" stroke="#9c9c9c" stroke-width="0.6"/>
<line x1="631.59" y1="158.72" x2="634.49" y2="158.72" stroke="#9c9c9c" stroke-width="0.6"/>
<line x1="636.45" y1="122.81" x2="636.45" y2="157.88" stroke="#9c9c9c" stroke-width="0.6"/>
<line x1="635.00" y1="122.81" x2="637.90" y2="122.81" stroke="#9c9c9c" stroke-width="0.6"/>
<line x1="635.00" y1="157.88" x2="637.90" y2="157.88" stroke="#9c9c9c" stroke-width="0.6"/>
<line x1="639.85" y1="122.26" x2="639.85" y2="156.99" stroke="#9c9c9c" stroke-width="0.6"/>
<line x1="638.40" y1="122.26" x2="641.30" y2="122.26" stroke="#9c9c9c" stroke-width="0.6"/>
<line x1="638.40" y1="156.99" x2="641.30" y2="156.99" stroke="#9c9c9c" stroke-width="0.6"/>
<line x1="643.26" y1="121.47" x2="643.26" y2="155.93" stroke="#9c9c9c" stroke-width="0.6"/>
<line x1="641.81" y1="121.47" x2="644.71" y2="121.47" stroke="#9c9c9c" stroke-width="0.6"/>
<line x1="641.81" y1="155.93" x2="644.71" y2="155.93" stroke="#9c9c9c" stroke-width="0.6"/>
<line x1="646.67" y1="120.90" x2="646.67" y2="155.13" stroke="#9c9c9c" stroke-width="0.6"/>
<line x1="645.22" y1="120.90" x2="648.12" y2="120.90" stroke="#9c9c9c" stroke-width="0.6"/>
<line x1="645.22" y1="155.13" x2="648.12" y2="155.13" stroke="#9c9c9c" stroke-width="0.6"/>
<line x1="650.07" y1="120.54" x2="650.07" y2="154.51" stroke="#9c9c9c" stroke-width="0.6"/>
<line x1="648.62" y1="120.54" x2="651.52" y2="120.54" stroke="#9c9c9c" stroke-width="0.6"/>
<line x1="648.62" y1="154.51" x2="651.52" y2="154.51" stroke="#9c9c9c" stroke-width="0.6"/>
<line x1="653.48" y1="120.63" x2="653.48" y2="154.28" stroke="#9c9c9c" stroke-width="0.6"/>
<line x1="652.03" y1="120.63" x2="654.93" y2="120.63" stroke="#9c9c9c" stroke-width="0.6"/>
<line x1="652.03" y1="154.28" x2="654.93" y2="154.28" stroke="#9c9c9c" stroke-width="0.6"/>
<line x1="656.88" y1="121.33" x2="656.88" y2="154.62" stroke="#9c9c9c" stroke-width="0.6"/>
<line x1="655.43" y1="121.33" x2="658.33" y2="121.33" stroke="#9c9c9c" stroke-width="0.6"/>
<line x1="655.43" y1="154.62" x2="658.33" y2="154.62" stroke="#9c9c9c" stroke-width="0.6"/>
<line x1="660.29" y1="122.19" x2="660.29" y2="155.08" stroke="#9c9c9c" stroke-width="0.6"/>
<line x1="658.84" y1="122.19" x2="661.74" y2="122.19" stroke="#9c9c9c" stroke-width="0.6"/>
<line x1="658.84" y1="155.08" x2="661.74" y2="155.08" stroke="#9c9c9c" stroke-width="0.6"/>
<line x1="663.69" y1="123.01" x2="663.69" y2="155.47" stroke="#9c9c9c" stroke-width="0.6"/>
<line x1="662.24" y1="123.01" x2="665.14" y2="123.01" stroke="#9c9c9c" stroke-width="0.6"/>
<line x1="662.24" y1="155.47" x2="665.14" y2="155.47" stroke="#9c9c9c" stroke-width="0.6"/>
<line x1="667.10" y1="123.90" x2="667.10" y2="155.90" stroke="#9c9c9c" stroke-width="0.6"/>
<line x1="665.65" y1="123.90" x2="668.55" y2="123.90" stroke="#9c9c9c" stroke-width="0.6"/>
<line x1="665.65" y1="155.90" x2="668.55" y2="155.90" stroke="#9c9c9c" stroke-width="0.6"/>
<circle cx="486.60" cy="101.05" r="1.3" fill="#e41a1c"/>
<circle cx="490.01" cy="101.31" r="1.3" fill="#e41a1c"/>
<circle cx="493.41" cy="101.60" r="1.3" fill="#e41a1c"/>
<circle cx="496.82" cy="101.91" r="1.3" fill="#e41a1c"/>
<circle cx="500.22" cy="102.26" r="1.3" fill="#e41a1c"/>
<circle cx="503.63" cy="102.62" r="1.3" fill="#e41a1c"/>
<circle cx="507.03" cy="103.01" r="1.3" fill="#e41a1c"/>
<circle cx="510.44" cy="103.42" r="1.3" fill="#e41a1c"/>
<circle cx="513.85" cy="103.84" r="1.3" fill="#e41a1c"/>
<circle cx="517.25" cy="104.27" r="1.3" fill="#e41a1c"/>
<circle cx="520.66" cy="104.72" r="1.3" fill="#e41a1c"/>
<circle cx="524.06" cy="105.18" r="1.3" fill="#e41a1c"/>
<circle cx="527.47" cy="105.70" r="1.3" fill="#e41a1c"/>
<circle cx="530.87" cy="106.27" r="1.3" fill="#e41a1c"/>
<circle cx="534.28" cy="106.93" r="1.3" fill="#e41a1c"/>
<circle cx="537.68" cy="107.71" r="1.3" fill="#e41a1c"/>
<circle cx="541.09" cy="108.75" r="1.3" fill="#e41a1c"/>
<circle cx="544.50" cy="109.99" r="1.3" fill="#e41a1c"/>
<circle cx="547.90" cy="111.34" r="1.3" fill="#e41a1c"/>
<circle cx="551.31" cy="112.74" r="1.3" fill="#e41a1c"/>
<circle cx="554.71" cy="114.09" r="1.3" fill="#e41a1c"/>
<circle cx="558.12" cy="115.41" r="1.3" fill="#e41a1c"/>
<circle cx="561.52" cy="116.77" r="1.3" fill="#e41a1c"/>
<circle cx="564.93" cy="118.21" r="1.3" fill="#e41a1c"/>
<circle cx="568.34" cy="119.69" r="1.3" fill="#e41a1c"/>
<circle cx="571.74" cy="121.16" r="1.3" fill="#e41a1c"/>
<circle cx="575.15" cy="122.53" r="1.3" fill="#e41a1c"/>
<circle cx="578.55" cy="124.03" r="1.3" fill="#e41a1c"/>
<circle cx="581.96" cy="126.03" r="1.3" fill="#e41a1c"/>
<circle cx="585.36" cy="128.29" r="1.3" fill="#e41a1c"/>
<circle cx="588.77" cy="130.52" r="1.3" fill="#e41a1c"/>
<circle cx="592.18" cy="132.77" r="1.3" fill="#e41a1c"/>
<circle cx="595.58" cy="134.75" r="1.3" fill="#e41a1c"/>
<circle cx="598.99" cy="136.43" r="1.3" fill="#e41a1c"/>
<circle cx="602.39" cy="137.83" r="1.3" fill="#e41a1c"/>
<circle cx="605.80" cy="138.94" r="1.3" fill="#e41a1c"/>
<circle cx="609.20" cy="139.88" r="1.3" fill="#e41a1c"/>
<circle cx="612.61" cy="140.78" r="1.3" fill="#e41a1c"/>
<circle cx="616.02" cy="141.37" r="1.3" fill="#e41a1c"/>
<circle cx="619.42" cy="141.69" r="1.3" fill="#e41a1c"/>
<circle cx="622.83" cy="141.80" r="1.3" fill="#e41a1c"/>
<circle cx="626.23" cy="141.61" r="1.3" fill="#e41a1c"/>
<circle cx="629.64" cy="141.29" r="1.3" fill="#e41a1c"/>
<circle cx="633.04" cy="140.88" r="1.3" fill="#e41a1c"/>
<circle cx="636.45" cy="140.35" r="1.3" fill="#e41a1c"/>
<circle cx="639.85" cy="139.62" r="1.3" fill="#e41a1c"/>
<circle cx="643.26" cy="138.70" r="1.3" fill="#e41a1c"/>
<circle cx="646.67" cy="138.01" r="1.3" fill="#e41a1c"/>
<circle cx="650.07" cy="137.52" r="1.3" fill="#e41a1c"/>
<circle cx="653.48" cy="137.45" r="1.3" fill="#e41a1c"/>
<circle cx="656.88" cy="137.98" r="1.3" fill="#e41a1c"/>
<circle cx="660.29" cy="138.63" r="1.3" fill="#e41a1c"/>
<circle cx="663.69" cy="139.24" r="1.3" fill="#e41a1c"/>
<circle cx="667.10" cy="139.90" r="1.3" fill="#e41a1c"/>
<line x1="622.40" y1="67.60" x2="622.40" y2="164.20" stroke="#555" stroke-width="0.6" stroke-dasharray="1,1.6"/>
<line x1="666.60" y1="67.60" x2="666.60" y2="164.20" stroke="#555" stroke-width="0.6" stroke-dasharray="1,1.6"/>
<rect x="479.40" y="67.60" width="194.40" height="96.60" fill="none" stroke="#333" stroke-width="0.9"/>
<line x1="479.40" y1="158.70" x2="475.90" y2="158.70" stroke="#333" stroke-width="0.8"/>
<text class="s" x="469.60" y="158.70" font-size="6.7" text-anchor="middle" transform="rotate(-90 469.60 158.70)">12.0</text>
<line x1="479.40" y1="135.10" x2="475.90" y2="135.10" stroke="#333" stroke-width="0.8"/>
<text class="s" x="469.60" y="135.10" font-size="6.7" text-anchor="middle" transform="rotate(-90 469.60 135.10)">12.5</text>
<line x1="479.40" y1="111.50" x2="475.90" y2="111.50" stroke="#333" stroke-width="0.8"/>
<text class="s" x="469.60" y="111.50" font-size="6.7" text-anchor="middle" transform="rotate(-90 469.60 111.50)">13.0</text>
<line x1="479.40" y1="87.90" x2="475.90" y2="87.90" stroke="#333" stroke-width="0.8"/>
<text class="s" x="469.60" y="87.90" font-size="6.7" text-anchor="middle" transform="rotate(-90 469.60 87.90)">13.5</text>
<text class="s" x="452.20" y="115.90" font-size="7.0" text-anchor="middle" transform="rotate(-90 452.20 115.90)">Partial Likelihood Deviance</text>
<line x1="515.70" y1="164.20" x2="515.70" y2="168.50" stroke="#333" stroke-width="0.8"/>
<text class="s" x="515.70" y="180.00" font-size="7.0" text-anchor="middle">−7</text>
<line x1="552.50" y1="164.20" x2="552.50" y2="168.50" stroke="#333" stroke-width="0.8"/>
<text class="s" x="552.50" y="180.00" font-size="7.0" text-anchor="middle">−6</text>
<line x1="588.60" y1="164.20" x2="588.60" y2="168.50" stroke="#333" stroke-width="0.8"/>
<text class="s" x="588.60" y="180.00" font-size="7.0" text-anchor="middle">−5</text>
<line x1="625.60" y1="164.20" x2="625.60" y2="168.50" stroke="#333" stroke-width="0.8"/>
<text class="s" x="625.60" y="180.00" font-size="7.0" text-anchor="middle">−4</text>
<line x1="661.90" y1="164.20" x2="661.90" y2="168.50" stroke="#333" stroke-width="0.8"/>
<text class="s" x="661.90" y="180.00" font-size="7.0" text-anchor="middle">−3</text>
<text class="s" x="487.00" y="57.30" font-size="6.8" text-anchor="middle">17</text>
<text class="s" x="503.80" y="57.30" font-size="6.8" text-anchor="middle">17</text>
<text class="s" x="520.70" y="57.30" font-size="6.8" text-anchor="middle">17</text>
<text class="s" x="537.50" y="57.30" font-size="6.8" text-anchor="middle">16</text>
<text class="s" x="554.70" y="57.30" font-size="6.8" text-anchor="middle">15</text>
<text class="s" x="571.60" y="57.30" font-size="6.8" text-anchor="middle">14</text>
<text class="s" x="588.60" y="57.30" font-size="6.8" text-anchor="middle">11</text>
<text class="s" x="605.50" y="57.30" font-size="6.8" text-anchor="middle">9</text>
<text class="s" x="615.40" y="57.30" font-size="6.8" text-anchor="middle">8</text>
<text class="s" x="625.60" y="57.30" font-size="6.8" text-anchor="middle">8</text>
<text class="s" x="636.00" y="57.30" font-size="6.8" text-anchor="middle">8</text>
<text class="s" x="646.00" y="57.30" font-size="6.8" text-anchor="middle">8</text>
<text class="s" x="656.30" y="57.30" font-size="6.8" text-anchor="middle">3</text>
<text class="s" x="666.40" y="57.30" font-size="6.8" text-anchor="middle">0</text>
<text class="s" x="576.70" y="195.00" font-size="7.0" text-anchor="middle">Log(λ)</text>
<text class="r" font-size="27.0" stroke="#fff" stroke-width="0.45" transform="translate(7.07 246.25) scale(1.0715 0.9755)">D</text>
<text class="r" font-size="13.9" text-anchor="middle" transform="translate(101.30 258.8) scale(1 1.08)">Train set</text>
<rect x="18.50" y="280.50" width="162.20" height="57.80" fill="#fff" stroke="none" stroke-width="1"/>
<line x1="18.50" y1="331.85" x2="180.70" y2="331.85" stroke="#f2f2f2" stroke-width="0.5"/>
<line x1="18.50" y1="318.95" x2="180.70" y2="318.95" stroke="#f2f2f2" stroke-width="0.5"/>
<line x1="18.50" y1="306.05" x2="180.70" y2="306.05" stroke="#f2f2f2" stroke-width="0.5"/>
<line x1="18.50" y1="293.15" x2="180.70" y2="293.15" stroke="#f2f2f2" stroke-width="0.5"/>
<line x1="43.16" y1="280.50" x2="43.16" y2="338.30" stroke="#f2f2f2" stroke-width="0.5"/>
<line x1="80.29" y1="280.50" x2="80.29" y2="338.30" stroke="#f2f2f2" stroke-width="0.5"/>
<line x1="117.41" y1="280.50" x2="117.41" y2="338.30" stroke="#f2f2f2" stroke-width="0.5"/>
<line x1="154.54" y1="280.50" x2="154.54" y2="338.30" stroke="#f2f2f2" stroke-width="0.5"/>
<line x1="18.50" y1="325.40" x2="180.70" y2="325.40" stroke="#e8e8e8" stroke-width="0.75"/>
<line x1="18.50" y1="312.50" x2="180.70" y2="312.50" stroke="#e8e8e8" stroke-width="0.75"/>
<line x1="18.50" y1="299.60" x2="180.70" y2="299.60" stroke="#e8e8e8" stroke-width="0.75"/>
<line x1="18.50" y1="286.70" x2="180.70" y2="286.70" stroke="#e8e8e8" stroke-width="0.75"/>
<line x1="24.60" y1="280.50" x2="24.60" y2="338.30" stroke="#e8e8e8" stroke-width="0.75"/>
<line x1="61.73" y1="280.50" x2="61.73" y2="338.30" stroke="#e8e8e8" stroke-width="0.75"/>
<line x1="98.85" y1="280.50" x2="98.85" y2="338.30" stroke="#e8e8e8" stroke-width="0.75"/>
<line x1="135.98" y1="280.50" x2="135.98" y2="338.30" stroke="#e8e8e8" stroke-width="0.75"/>
<line x1="173.10" y1="280.50" x2="173.10" y2="338.30" stroke="#e8e8e8" stroke-width="0.75"/>
<circle cx="25.34" cy="335.98" r="1.15" fill="#76c500"/>
<circle cx="26.09" cy="332.88" r="1.15" fill="#76c500"/>
<circle cx="26.83" cy="329.98" r="1.15" fill="#76c500"/>
<circle cx="27.57" cy="328.91" r="1.15" fill="#76c500"/>
<circle cx="28.31" cy="328.31" r="1.15" fill="#76c500"/>
<circle cx="29.05" cy="327.85" r="1.15" fill="#76c500"/>
<circle cx="29.80" cy="327.46" r="1.15" fill="#76c500"/>
<circle cx="30.54" cy="327.14" r="1.15" fill="#76c500"/>
<circle cx="31.28" cy="326.82" r="1.15" fill="#76c500"/>
<circle cx="32.03" cy="326.49" r="1.15" fill="#76c500"/>
<circle cx="32.77" cy="326.18" r="1.15" fill="#76c500"/>
<circle cx="33.51" cy="325.92" r="1.15" fill="#76c500"/>
<circle cx="34.25" cy="325.69" r="1.15" fill="#76c500"/>
<circle cx="35.00" cy="325.50" r="1.15" fill="#76c500"/>
<circle cx="35.74" cy="325.32" r="1.15" fill="#76c500"/>
<circle cx="36.48" cy="325.14" r="1.15" fill="#76c500"/>
<circle cx="37.22" cy="324.96" r="1.15" fill="#76c500"/>
<circle cx="37.97" cy="324.76" r="1.15" fill="#76c500"/>
<circle cx="38.71" cy="324.56" r="1.15" fill="#76c500"/>
<circle cx="39.45" cy="324.35" r="1.15" fill="#76c500"/>
<circle cx="40.19" cy="324.13" r="1.15" fill="#76c500"/>
<circle cx="40.94" cy="323.92" r="1.15" fill="#76c500"/>
<circle cx="41.68" cy="323.72" r="1.15" fill="#76c500"/>
<circle cx="42.42" cy="323.52" r="1.15" fill="#76c500"/>
<circle cx="43.16" cy="323.34" r="1.15" fill="#76c500"/>
<circle cx="43.91" cy="323.16" r="1.15" fill="#76c500"/>
<circle cx="44.65" cy="322.98" r="1.15" fill="#76c500"/>
<circle cx="45.39" cy="322.81" r="1.15" fill="#76c500"/>
<circle cx="46.13" cy="322.64" r="1.15" fill="#76c500"/>
<circle cx="46.88" cy="322.48" r="1.15" fill="#76c500"/>
<circle cx="47.62" cy="322.33" r="1.15" fill="#76c500"/>
<circle cx="48.36" cy="322.18" r="1.15" fill="#76c500"/>
<circle cx="49.10" cy="322.04" r="1.15" fill="#76c500"/>
<circle cx="49.84" cy="321.92" r="1.15" fill="#76c500"/>
<circle cx="50.59" cy="321.80" r="1.15" fill="#76c500"/>
<circle cx="51.33" cy="321.69" r="1.15" fill="#76c500"/>
<circle cx="52.07" cy="321.58" r="1.15" fill="#76c500"/>
<circle cx="52.82" cy="321.48" r="1.15" fill="#76c500"/>
<circle cx="53.56" cy="321.38" r="1.15" fill="#76c500"/>
<circle cx="54.30" cy="321.28" r="1.15" fill="#76c500"/>
<circle cx="55.04" cy="321.19" r="1.15" fill="#76c500"/>
<circle cx="55.79" cy="321.10" r="1.15" fill="#76c500"/>
<circle cx="56.53" cy="321.01" r="1.15" fill="#76c500"/>
<circle cx="57.27" cy="320.93" r="1.15" fill="#76c500"/>
<circle cx="58.01" cy="320.84" r="1.15" fill="#76c500"/>
<circle cx="58.76" cy="320.76" r="1.15" fill="#76c500"/>
<circle cx="59.50" cy="320.67" r="1.15" fill="#76c500"/>
<circle cx="60.24" cy="320.59" r="1.15" fill="#76c500"/>
<circle cx="60.98" cy="320.50" r="1.15" fill="#76c500"/>
<circle cx="61.73" cy="320.42" r="1.15" fill="#76c500"/>
<circle cx="62.47" cy="320.34" r="1.15" fill="#76c500"/>
<circle cx="63.21" cy="320.26" r="1.15" fill="#76c500"/>
<circle cx="63.95" cy="320.18" r="1.15" fill="#76c500"/>
<circle cx="64.70" cy="320.10" r="1.15" fill="#76c500"/>
<circle cx="65.44" cy="320.02" r="1.15" fill="#76c500"/>
<circle cx="66.18" cy="319.94" r="1.15" fill="#76c500"/>
<circle cx="66.92" cy="319.86" r="1.15" fill="#76c500"/>
<circle cx="67.67" cy="319.79" r="1.15" fill="#76c500"/>
<circle cx="68.41" cy="319.71" r="1.15" fill="#76c500"/>
<circle cx="69.15" cy="319.64" r="1.15" fill="#76c500"/>
<circle cx="69.89" cy="319.56" r="1.15" fill="#76c500"/>
<circle cx="70.64" cy="319.49" r="1.15" fill="#76c500"/>
<circle cx="71.38" cy="319.41" r="1.15" fill="#76c500"/>
<circle cx="72.12" cy="319.34" r="1.15" fill="#76c500"/>
<circle cx="72.86" cy="319.27" r="1.15" fill="#76c500"/>
<circle cx="73.61" cy="319.20" r="1.15" fill="#76c500"/>
<circle cx="74.35" cy="319.12" r="1.15" fill="#76c500"/>
<circle cx="75.09" cy="319.05" r="1.15" fill="#76c500"/>
<circle cx="75.83" cy="318.98" r="1.15" fill="#76c500"/>
<circle cx="76.58" cy="318.91" r="1.15" fill="#76c500"/>
<circle cx="77.32" cy="318.84" r="1.15" fill="#76c500"/>
<circle cx="78.06" cy="318.77" r="1.15" fill="#76c500"/>
<circle cx="78.80" cy="318.70" r="1.15" fill="#76c500"/>
<circle cx="79.55" cy="318.63" r="1.15" fill="#76c500"/>
<circle cx="80.29" cy="318.56" r="1.15" fill="#76c500"/>
<circle cx="81.03" cy="318.50" r="1.15" fill="#76c500"/>
<circle cx="81.77" cy="318.43" r="1.15" fill="#76c500"/>
<circle cx="82.52" cy="318.37" r="1.15" fill="#76c500"/>
<circle cx="83.26" cy="318.31" r="1.15" fill="#76c500"/>
<circle cx="84.00" cy="318.25" r="1.15" fill="#76c500"/>
<circle cx="84.74" cy="318.19" r="1.15" fill="#76c500"/>
<circle cx="85.49" cy="318.14" r="1.15" fill="#76c500"/>
<circle cx="86.23" cy="318.09" r="1.15" fill="#76c500"/>
<circle cx="86.97" cy="318.03" r="1.15" fill="#76c500"/>
<circle cx="87.71" cy="317.98" r="1.15" fill="#76c500"/>
<circle cx="88.46" cy="317.92" r="1.15" fill="#76c500"/>
<circle cx="89.20" cy="317.87" r="1.15" fill="#76c500"/>
<circle cx="89.94" cy="317.81" r="1.15" fill="#76c500"/>
<circle cx="90.68" cy="317.75" r="1.15" fill="#76c500"/>
<circle cx="91.43" cy="317.70" r="1.15" fill="#76c500"/>
<circle cx="92.17" cy="317.63" r="1.15" fill="#76c500"/>
<circle cx="92.91" cy="317.57" r="1.15" fill="#76c500"/>
<circle cx="93.65" cy="317.50" r="1.15" fill="#76c500"/>
<circle cx="94.40" cy="317.43" r="1.15" fill="#76c500"/>
<circle cx="95.14" cy="317.36" r="1.15" fill="#76c500"/>
<circle cx="95.88" cy="317.28" r="1.15" fill="#76c500"/>
<circle cx="96.62" cy="317.20" r="1.15" fill="#76c500"/>
<circle cx="97.37" cy="317.11" r="1.15" fill="#76c500"/>
<circle cx="98.11" cy="317.01" r="1.15" fill="#76c500"/>
<circle cx="98.85" cy="316.89" r="1.15" fill="#76c500"/>
<circle cx="99.59" cy="316.77" r="1.15" fill="#e2231a"/>
<circle cx="100.34" cy="316.65" r="1.15" fill="#e2231a"/>
<circle cx="101.08" cy="316.54" r="1.15" fill="#e2231a"/>
<circle cx="101.82" cy="316.43" r="1.15" fill="#e2231a"/>
<circle cx="102.56" cy="316.32" r="1.15" fill="#e2231a"/>
<circle cx="103.31" cy="316.21" r="1.15" fill="#e2231a"/>
<circle cx="104.05" cy="316.10" r="1.15" fill="#e2231a"/>
<circle cx="104.79" cy="316.00" r="1.15" fill="#e2231a"/>
<circle cx="105.53" cy="315.89" r="1.15" fill="#e2231a"/>
<circle cx="106.28" cy="315.79" r="1.15" fill="#e2231a"/>
<circle cx="107.02" cy="315.69" r="1.15" fill="#e2231a"/>
<circle cx="107.76" cy="315.59" r="1.15" fill="#e2231a"/>
<circle cx="108.50" cy="315.49" r="1.15" fill="#e2231a"/>
<circle cx="109.25" cy="315.39" r="1.15" fill="#e2231a"/>
<circle cx="109.99" cy="315.29" r="1.15" fill="#e2231a"/>
<circle cx="110.73" cy="315.19" r="1.15" fill="#e2231a"/>
<circle cx="111.47" cy="315.09" r="1.15" fill="#e2231a"/>
<circle cx="112.22" cy="315.00" r="1.15" fill="#e2231a"/>
<circle cx="112.96" cy="314.90" r="1.15" fill="#e2231a"/>
<circle cx="113.70" cy="314.80" r="1.15" fill="#e2231a"/>
<circle cx="114.44" cy="314.70" r="1.15" fill="#e2231a"/>
<circle cx="115.19" cy="314.60" r="1.15" fill="#e2231a"/>
<circle cx="115.93" cy="314.51" r="1.15" fill="#e2231a"/>
<circle cx="116.67" cy="314.41" r="1.15" fill="#e2231a"/>
<circle cx="117.41" cy="314.31" r="1.15" fill="#e2231a"/>
<circle cx="118.16" cy="314.21" r="1.15" fill="#e2231a"/>
<circle cx="118.90" cy="314.11" r="1.15" fill="#e2231a"/>
<circle cx="119.64" cy="314.01" r="1.15" fill="#e2231a"/>
<circle cx="120.38" cy="313.91" r="1.15" fill="#e2231a"/>
<circle cx="121.12" cy="313.82" r="1.15" fill="#e2231a"/>
<circle cx="121.87" cy="313.72" r="1.15" fill="#e2231a"/>
<circle cx="122.61" cy="313.63" r="1.15" fill="#e2231a"/>
<circle cx="123.35" cy="313.53" r="1.15" fill="#e2231a"/>
<circle cx="124.09" cy="313.44" r="1.15" fill="#e2231a"/>
<circle cx="124.84" cy="313.34" r="1.15" fill="#e2231a"/>
<circle cx="125.58" cy="313.25" r="1.15" fill="#e2231a"/>
<circle cx="126.32" cy="313.16" r="1.15" fill="#e2231a"/>
<circle cx="127.06" cy="313.06" r="1.15" fill="#e2231a"/>
<circle cx="127.81" cy="312.97" r="1.15" fill="#e2231a"/>
<circle cx="128.55" cy="312.87" r="1.15" fill="#e2231a"/>
<circle cx="129.29" cy="312.77" r="1.15" fill="#e2231a"/>
<circle cx="130.03" cy="312.68" r="1.15" fill="#e2231a"/>
<circle cx="130.78" cy="312.58" r="1.15" fill="#e2231a"/>
<circle cx="131.52" cy="312.48" r="1.15" fill="#e2231a"/>
<circle cx="132.26" cy="312.38" r="1.15" fill="#e2231a"/>
<circle cx="133.00" cy="312.28" r="1.15" fill="#e2231a"/>
<circle cx="133.75" cy="312.17" r="1.15" fill="#e2231a"/>
<circle cx="134.49" cy="312.07" r="1.15" fill="#e2231a"/>
<circle cx="135.23" cy="311.96" r="1.15" fill="#e2231a"/>
<circle cx="135.98" cy="311.85" r="1.15" fill="#e2231a"/>
<circle cx="136.72" cy="311.74" r="1.15" fill="#e2231a"/>
<circle cx="137.46" cy="311.63" r="1.15" fill="#e2231a"/>
<circle cx="138.20" cy="311.52" r="1.15" fill="#e2231a"/>
<circle cx="138.95" cy="311.40" r="1.15" fill="#e2231a"/>
<circle cx="139.69" cy="311.28" r="1.15" fill="#e2231a"/>
<circle cx="140.43" cy="311.16" r="1.15" fill="#e2231a"/>
<circle cx="141.17" cy="311.04" r="1.15" fill="#e2231a"/>
<circle cx="141.92" cy="310.92" r="1.15" fill="#e2231a"/>
<circle cx="142.66" cy="310.80" r="1.15" fill="#e2231a"/>
<circle cx="143.40" cy="310.67" r="1.15" fill="#e2231a"/>
<circle cx="144.14" cy="310.55" r="1.15" fill="#e2231a"/>
<circle cx="144.89" cy="310.42" r="1.15" fill="#e2231a"/>
<circle cx="145.63" cy="310.29" r="1.15" fill="#e2231a"/>
<circle cx="146.37" cy="310.17" r="1.15" fill="#e2231a"/>
<circle cx="147.11" cy="310.04" r="1.15" fill="#e2231a"/>
<circle cx="147.86" cy="309.91" r="1.15" fill="#e2231a"/>
<circle cx="148.60" cy="309.79" r="1.15" fill="#e2231a"/>
<circle cx="149.34" cy="309.66" r="1.15" fill="#e2231a"/>
<circle cx="150.08" cy="309.54" r="1.15" fill="#e2231a"/>
<circle cx="150.83" cy="309.44" r="1.15" fill="#e2231a"/>
<circle cx="151.57" cy="309.33" r="1.15" fill="#e2231a"/>
<circle cx="152.31" cy="309.24" r="1.15" fill="#e2231a"/>
<circle cx="153.05" cy="309.14" r="1.15" fill="#e2231a"/>
<circle cx="153.80" cy="309.03" r="1.15" fill="#e2231a"/>
<circle cx="154.54" cy="308.91" r="1.15" fill="#e2231a"/>
<circle cx="155.28" cy="308.78" r="1.15" fill="#e2231a"/>
<circle cx="156.02" cy="308.62" r="1.15" fill="#e2231a"/>
<circle cx="156.77" cy="308.45" r="1.15" fill="#e2231a"/>
<circle cx="157.51" cy="308.24" r="1.15" fill="#e2231a"/>
<circle cx="158.25" cy="307.94" r="1.15" fill="#e2231a"/>
<circle cx="158.99" cy="307.51" r="1.15" fill="#e2231a"/>
<circle cx="159.74" cy="306.98" r="1.15" fill="#e2231a"/>
<circle cx="160.48" cy="306.39" r="1.15" fill="#e2231a"/>
<circle cx="161.22" cy="305.79" r="1.15" fill="#e2231a"/>
<circle cx="161.96" cy="305.17" r="1.15" fill="#e2231a"/>
<circle cx="162.71" cy="304.48" r="1.15" fill="#e2231a"/>
<circle cx="163.45" cy="303.70" r="1.15" fill="#e2231a"/>
<circle cx="164.19" cy="302.82" r="1.15" fill="#e2231a"/>
<circle cx="164.93" cy="301.64" r="1.15" fill="#e2231a"/>
<circle cx="165.68" cy="300.35" r="1.15" fill="#e2231a"/>
<circle cx="166.42" cy="299.49" r="1.15" fill="#e2231a"/>
<circle cx="167.16" cy="298.89" r="1.15" fill="#e2231a"/>
<circle cx="167.90" cy="298.41" r="1.15" fill="#e2231a"/>
<circle cx="168.65" cy="297.96" r="1.15" fill="#e2231a"/>
<circle cx="169.39" cy="297.44" r="1.15" fill="#e2231a"/>
<circle cx="170.13" cy="296.76" r="1.15" fill="#e2231a"/>
<circle cx="170.87" cy="295.73" r="1.15" fill="#e2231a"/>
<circle cx="171.62" cy="291.60" r="1.15" fill="#e2231a"/>
<circle cx="172.36" cy="289.92" r="1.15" fill="#e2231a"/>
<circle cx="173.10" cy="282.44" r="1.15" fill="#e2231a"/>
<line x1="18.50" y1="317.40" x2="180.70" y2="317.40" stroke="#222" stroke-width="0.75" stroke-dasharray="2.4,5.6"/>
<line x1="98.85" y1="280.50" x2="98.85" y2="338.30" stroke="#8c8c8c" stroke-width="0.75" stroke-dasharray="2.4,5.6" stroke-dashoffset="1.2"/>
<rect x="18.50" y="280.50" width="162.20" height="57.80" fill="none" stroke="#444" stroke-width="0.75"/>
<line x1="16.60" y1="325.40" x2="18.50" y2="325.40" stroke="#444" stroke-width="0.75"/>
<text class="s" x="15.00" y="327.45" font-size="5.8" text-anchor="end" fill="#4d4d4d">0</text>
<line x1="16.60" y1="312.50" x2="18.50" y2="312.50" stroke="#444" stroke-width="0.75"/>
<text class="s" x="15.00" y="314.55" font-size="5.8" text-anchor="end" fill="#4d4d4d">1</text>
<line x1="16.60" y1="299.60" x2="18.50" y2="299.60" stroke="#444" stroke-width="0.75"/>
<text class="s" x="15.00" y="301.65" font-size="5.8" text-anchor="end" fill="#4d4d4d">2</text>
<line x1="16.60" y1="286.70" x2="18.50" y2="286.70" stroke="#444" stroke-width="0.75"/>
<text class="s" x="15.00" y="288.75" font-size="5.8" text-anchor="end" fill="#4d4d4d">3</text>
<line x1="24.60" y1="338.30" x2="24.60" y2="340.20" stroke="#444" stroke-width="0.75"/>
<text class="s" x="24.60" y="345.70" font-size="5.8" text-anchor="middle" fill="#4d4d4d">0</text>
<line x1="61.73" y1="338.30" x2="61.73" y2="340.20" stroke="#444" stroke-width="0.75"/>
<text class="s" x="61.73" y="345.70" font-size="5.8" text-anchor="middle" fill="#4d4d4d">50</text>
<line x1="98.85" y1="338.30" x2="98.85" y2="340.20" stroke="#444" stroke-width="0.75"/>
<text class="s" x="98.85" y="345.70" font-size="5.8" text-anchor="middle" fill="#4d4d4d">100</text>
<line x1="135.98" y1="338.30" x2="135.98" y2="340.20" stroke="#444" stroke-width="0.75"/>
<text class="s" x="135.98" y="345.70" font-size="5.8" text-anchor="middle" fill="#4d4d4d">150</text>
<line x1="173.10" y1="338.30" x2="173.10" y2="340.20" stroke="#444" stroke-width="0.75"/>
<text class="s" x="173.10" y="345.70" font-size="5.8" text-anchor="middle" fill="#4d4d4d">200</text>
<text class="s" x="99.60" y="354.70" font-size="7.7" text-anchor="middle">Patient ID(increasing risk score)</text>
<text class="s" x="7.95" y="309.40" font-size="7.9" text-anchor="middle" transform="rotate(-90 7.95 309.40)">Risk score</text>
<text class="s" x="192.40" y="303.40" font-size="7.7">group</text>
<circle cx="195.40" cy="311.60" r="1.15" fill="#e2231a"/>
<circle cx="195.40" cy="317.60" r="1.15" fill="#76c500"/>
<text class="s" x="203.00" y="313.80" font-size="6.2" fill="#222">high</text>
<text class="s" x="203.00" y="319.90" font-size="6.2" fill="#222">low</text>
<text class="r" font-size="27.0" stroke="#fff" stroke-width="0.45" transform="translate(235.53 246.40) scale(0.9952 1.0181)">E</text>
<text class="r" font-size="13.9" text-anchor="middle" transform="translate(330.50 258.8) scale(1 1.08)">Test set</text>
<rect x="255.20" y="280.80" width="160.20" height="57.60" fill="#fff" stroke="none" stroke-width="1"/>
<line x1="255.20" y1="330.40" x2="415.40" y2="330.40" stroke="#f2f2f2" stroke-width="0.5"/>
<line x1="255.20" y1="319.80" x2="415.40" y2="319.80" stroke="#f2f2f2" stroke-width="0.5"/>
<line x1="255.20" y1="309.20" x2="415.40" y2="309.20" stroke="#f2f2f2" stroke-width="0.5"/>
<line x1="255.20" y1="298.60" x2="415.40" y2="298.60" stroke="#f2f2f2" stroke-width="0.5"/>
<line x1="255.20" y1="288.00" x2="415.40" y2="288.00" stroke="#f2f2f2" stroke-width="0.5"/>
<line x1="280.26" y1="280.80" x2="280.26" y2="338.40" stroke="#f2f2f2" stroke-width="0.5"/>
<line x1="316.99" y1="280.80" x2="316.99" y2="338.40" stroke="#f2f2f2" stroke-width="0.5"/>
<line x1="353.71" y1="280.80" x2="353.71" y2="338.40" stroke="#f2f2f2" stroke-width="0.5"/>
<line x1="390.44" y1="280.80" x2="390.44" y2="338.40" stroke="#f2f2f2" stroke-width="0.5"/>
<line x1="255.20" y1="335.70" x2="415.40" y2="335.70" stroke="#e8e8e8" stroke-width="0.75"/>
<line x1="255.20" y1="325.10" x2="415.40" y2="325.10" stroke="#e8e8e8" stroke-width="0.75"/>
<line x1="255.20" y1="314.50" x2="415.40" y2="314.50" stroke="#e8e8e8" stroke-width="0.75"/>
<line x1="255.20" y1="303.90" x2="415.40" y2="303.90" stroke="#e8e8e8" stroke-width="0.75"/>
<line x1="255.20" y1="293.30" x2="415.40" y2="293.30" stroke="#e8e8e8" stroke-width="0.75"/>
<line x1="255.20" y1="282.70" x2="415.40" y2="282.70" stroke="#e8e8e8" stroke-width="0.75"/>
<line x1="261.90" y1="280.80" x2="261.90" y2="338.40" stroke="#e8e8e8" stroke-width="0.75"/>
<line x1="298.62" y1="280.80" x2="298.62" y2="338.40" stroke="#e8e8e8" stroke-width="0.75"/>
<line x1="335.35" y1="280.80" x2="335.35" y2="338.40" stroke="#e8e8e8" stroke-width="0.75"/>
<line x1="372.07" y1="280.80" x2="372.07" y2="338.40" stroke="#e8e8e8" stroke-width="0.75"/>
<line x1="408.80" y1="280.80" x2="408.80" y2="338.40" stroke="#e8e8e8" stroke-width="0.75"/>
<circle cx="262.63" cy="335.70" r="1.15" fill="#76c500"/>
<circle cx="263.37" cy="331.88" r="1.15" fill="#76c500"/>
<circle cx="264.10" cy="330.96" r="1.15" fill="#76c500"/>
<circle cx="264.84" cy="330.40" r="1.15" fill="#76c500"/>
<circle cx="265.57" cy="329.83" r="1.15" fill="#76c500"/>
<circle cx="266.31" cy="329.34" r="1.15" fill="#76c500"/>
<circle cx="267.04" cy="328.92" r="1.15" fill="#76c500"/>
<circle cx="267.78" cy="328.54" r="1.15" fill="#76c500"/>
<circle cx="268.51" cy="328.19" r="1.15" fill="#76c500"/>
<circle cx="269.25" cy="327.87" r="1.15" fill="#76c500"/>
<circle cx="269.98" cy="327.57" r="1.15" fill="#76c500"/>
<circle cx="270.71" cy="327.29" r="1.15" fill="#76c500"/>
<circle cx="271.45" cy="327.01" r="1.15" fill="#76c500"/>
<circle cx="272.18" cy="326.74" r="1.15" fill="#76c500"/>
<circle cx="272.92" cy="326.48" r="1.15" fill="#76c500"/>
<circle cx="273.65" cy="326.21" r="1.15" fill="#76c500"/>
<circle cx="274.39" cy="325.95" r="1.15" fill="#76c500"/>
<circle cx="275.12" cy="325.69" r="1.15" fill="#76c500"/>
<circle cx="275.86" cy="325.43" r="1.15" fill="#76c500"/>
<circle cx="276.59" cy="325.19" r="1.15" fill="#76c500"/>
<circle cx="277.32" cy="324.95" r="1.15" fill="#76c500"/>
<circle cx="278.06" cy="324.73" r="1.15" fill="#76c500"/>
<circle cx="278.79" cy="324.52" r="1.15" fill="#76c500"/>
<circle cx="279.53" cy="324.32" r="1.15" fill="#76c500"/>
<circle cx="280.26" cy="324.15" r="1.15" fill="#76c500"/>
<circle cx="281.00" cy="323.99" r="1.15" fill="#76c500"/>
<circle cx="281.73" cy="323.84" r="1.15" fill="#76c500"/>
<circle cx="282.47" cy="323.70" r="1.15" fill="#76c500"/>
<circle cx="283.20" cy="323.56" r="1.15" fill="#76c500"/>
<circle cx="283.94" cy="323.44" r="1.15" fill="#76c500"/>
<circle cx="284.67" cy="323.31" r="1.15" fill="#76c500"/>
<circle cx="285.40" cy="323.20" r="1.15" fill="#76c500"/>
<circle cx="286.14" cy="323.08" r="1.15" fill="#76c500"/>
<circle cx="286.87" cy="322.97" r="1.15" fill="#76c500"/>
<circle cx="287.61" cy="322.86" r="1.15" fill="#76c500"/>
<circle cx="288.34" cy="322.75" r="1.15" fill="#76c500"/>
<circle cx="289.08" cy="322.64" r="1.15" fill="#76c500"/>
<circle cx="289.81" cy="322.52" r="1.15" fill="#76c500"/>
<circle cx="290.55" cy="322.41" r="1.15" fill="#76c500"/>
<circle cx="291.28" cy="322.28" r="1.15" fill="#76c500"/>
<circle cx="292.01" cy="322.15" r="1.15" fill="#76c500"/>
<circle cx="292.75" cy="322.02" r="1.15" fill="#76c500"/>
<circle cx="293.48" cy="321.89" r="1.15" fill="#76c500"/>
<circle cx="294.22" cy="321.76" r="1.15" fill="#76c500"/>
<circle cx="294.95" cy="321.63" r="1.15" fill="#76c500"/>
<circle cx="295.69" cy="321.51" r="1.15" fill="#76c500"/>
<circle cx="296.42" cy="321.39" r="1.15" fill="#76c500"/>
<circle cx="297.16" cy="321.28" r="1.15" fill="#76c500"/>
<circle cx="297.89" cy="321.18" r="1.15" fill="#76c500"/>
<circle cx="298.62" cy="321.08" r="1.15" fill="#76c500"/>
<circle cx="299.36" cy="320.99" r="1.15" fill="#76c500"/>
<circle cx="300.09" cy="320.90" r="1.15" fill="#76c500"/>
<circle cx="300.83" cy="320.81" r="1.15" fill="#76c500"/>
<circle cx="301.56" cy="320.73" r="1.15" fill="#76c500"/>
<circle cx="302.30" cy="320.64" r="1.15" fill="#76c500"/>
<circle cx="303.03" cy="320.56" r="1.15" fill="#76c500"/>
<circle cx="303.77" cy="320.48" r="1.15" fill="#76c500"/>
<circle cx="304.50" cy="320.40" r="1.15" fill="#76c500"/>
<circle cx="305.24" cy="320.33" r="1.15" fill="#76c500"/>
<circle cx="305.97" cy="320.25" r="1.15" fill="#76c500"/>
<circle cx="306.70" cy="320.18" r="1.15" fill="#76c500"/>
<circle cx="307.44" cy="320.11" r="1.15" fill="#76c500"/>
<circle cx="308.17" cy="320.04" r="1.15" fill="#76c500"/>
<circle cx="308.91" cy="319.97" r="1.15" fill="#76c500"/>
<circle cx="309.64" cy="319.90" r="1.15" fill="#76c500"/>
<circle cx="310.38" cy="319.83" r="1.15" fill="#76c500"/>
<circle cx="311.11" cy="319.77" r="1.15" fill="#76c500"/>
<circle cx="311.85" cy="319.70" r="1.15" fill="#76c500"/>
<circle cx="312.58" cy="319.64" r="1.15" fill="#76c500"/>
<circle cx="313.31" cy="319.58" r="1.15" fill="#76c500"/>
<circle cx="314.05" cy="319.51" r="1.15" fill="#76c500"/>
<circle cx="314.78" cy="319.45" r="1.15" fill="#76c500"/>
<circle cx="315.52" cy="319.39" r="1.15" fill="#76c500"/>
<circle cx="316.25" cy="319.33" r="1.15" fill="#76c500"/>
<circle cx="316.99" cy="319.27" r="1.15" fill="#76c500"/>
<circle cx="317.72" cy="319.21" r="1.15" fill="#76c500"/>
<circle cx="318.46" cy="319.16" r="1.15" fill="#76c500"/>
<circle cx="319.19" cy="319.10" r="1.15" fill="#76c500"/>
<circle cx="319.93" cy="319.05" r="1.15" fill="#76c500"/>
<circle cx="320.66" cy="319.00" r="1.15" fill="#76c500"/>
<circle cx="321.39" cy="318.95" r="1.15" fill="#76c500"/>
<circle cx="322.13" cy="318.90" r="1.15" fill="#76c500"/>
<circle cx="322.86" cy="318.86" r="1.15" fill="#76c500"/>
<circle cx="323.60" cy="318.81" r="1.15" fill="#76c500"/>
<circle cx="324.33" cy="318.77" r="1.15" fill="#76c500"/>
<circle cx="325.07" cy="318.72" r="1.15" fill="#76c500"/>
<circle cx="325.80" cy="318.68" r="1.15" fill="#76c500"/>
<circle cx="326.54" cy="318.63" r="1.15" fill="#76c500"/>
<circle cx="327.27" cy="318.59" r="1.15" fill="#76c500"/>
<circle cx="328.00" cy="318.54" r="1.15" fill="#76c500"/>
<circle cx="328.74" cy="318.50" r="1.15" fill="#76c500"/>
<circle cx="329.47" cy="318.45" r="1.15" fill="#76c500"/>
<circle cx="330.21" cy="318.40" r="1.15" fill="#76c500"/>
<circle cx="330.94" cy="318.35" r="1.15" fill="#76c500"/>
<circle cx="331.68" cy="318.30" r="1.15" fill="#76c500"/>
<circle cx="332.41" cy="318.24" r="1.15" fill="#76c500"/>
<circle cx="333.15" cy="318.18" r="1.15" fill="#76c500"/>
<circle cx="333.88" cy="318.13" r="1.15" fill="#76c500"/>
<circle cx="334.62" cy="318.06" r="1.15" fill="#76c500"/>
<circle cx="335.35" cy="318.00" r="1.15" fill="#76c500"/>
<circle cx="336.08" cy="317.93" r="1.15" fill="#e2231a"/>
<circle cx="336.82" cy="317.85" r="1.15" fill="#e2231a"/>
<circle cx="337.55" cy="317.77" r="1.15" fill="#e2231a"/>
<circle cx="338.29" cy="317.69" r="1.15" fill="#e2231a"/>
<circle cx="339.02" cy="317.60" r="1.15" fill="#e2231a"/>
<circle cx="339.76" cy="317.51" r="1.15" fill="#e2231a"/>
<circle cx="340.49" cy="317.41" r="1.15" fill="#e2231a"/>
<circle cx="341.23" cy="317.31" r="1.15" fill="#e2231a"/>
<circle cx="341.96" cy="317.21" r="1.15" fill="#e2231a"/>
<circle cx="342.69" cy="317.10" r="1.15" fill="#e2231a"/>
<circle cx="343.43" cy="317.00" r="1.15" fill="#e2231a"/>
<circle cx="344.16" cy="316.89" r="1.15" fill="#e2231a"/>
<circle cx="344.90" cy="316.78" r="1.15" fill="#e2231a"/>
<circle cx="345.63" cy="316.67" r="1.15" fill="#e2231a"/>
<circle cx="346.37" cy="316.57" r="1.15" fill="#e2231a"/>
<circle cx="347.10" cy="316.46" r="1.15" fill="#e2231a"/>
<circle cx="347.84" cy="316.35" r="1.15" fill="#e2231a"/>
<circle cx="348.57" cy="316.24" r="1.15" fill="#e2231a"/>
<circle cx="349.31" cy="316.14" r="1.15" fill="#e2231a"/>
<circle cx="350.04" cy="316.03" r="1.15" fill="#e2231a"/>
<circle cx="350.77" cy="315.93" r="1.15" fill="#e2231a"/>
<circle cx="351.51" cy="315.83" r="1.15" fill="#e2231a"/>
<circle cx="352.24" cy="315.74" r="1.15" fill="#e2231a"/>
<circle cx="352.98" cy="315.65" r="1.15" fill="#e2231a"/>
<circle cx="353.71" cy="315.56" r="1.15" fill="#e2231a"/>
<circle cx="354.45" cy="315.48" r="1.15" fill="#e2231a"/>
<circle cx="355.18" cy="315.39" r="1.15" fill="#e2231a"/>
<circle cx="355.92" cy="315.31" r="1.15" fill="#e2231a"/>
<circle cx="356.65" cy="315.24" r="1.15" fill="#e2231a"/>
<circle cx="357.38" cy="315.16" r="1.15" fill="#e2231a"/>
<circle cx="358.12" cy="315.09" r="1.15" fill="#e2231a"/>
<circle cx="358.85" cy="315.02" r="1.15" fill="#e2231a"/>
<circle cx="359.59" cy="314.94" r="1.15" fill="#e2231a"/>
<circle cx="360.32" cy="314.87" r="1.15" fill="#e2231a"/>
<circle cx="361.06" cy="314.80" r="1.15" fill="#e2231a"/>
<circle cx="361.79" cy="314.73" r="1.15" fill="#e2231a"/>
<circle cx="362.53" cy="314.66" r="1.15" fill="#e2231a"/>
<circle cx="363.26" cy="314.59" r="1.15" fill="#e2231a"/>
<circle cx="364.00" cy="314.52" r="1.15" fill="#e2231a"/>
<circle cx="364.73" cy="314.45" r="1.15" fill="#e2231a"/>
<circle cx="365.46" cy="314.38" r="1.15" fill="#e2231a"/>
<circle cx="366.20" cy="314.31" r="1.15" fill="#e2231a"/>
<circle cx="366.93" cy="314.23" r="1.15" fill="#e2231a"/>
<circle cx="367.67" cy="314.16" r="1.15" fill="#e2231a"/>
<circle cx="368.40" cy="314.08" r="1.15" fill="#e2231a"/>
<circle cx="369.14" cy="314.00" r="1.15" fill="#e2231a"/>
<circle cx="369.87" cy="313.92" r="1.15" fill="#e2231a"/>
<circle cx="370.61" cy="313.83" r="1.15" fill="#e2231a"/>
<circle cx="371.34" cy="313.74" r="1.15" fill="#e2231a"/>
<circle cx="372.07" cy="313.65" r="1.15" fill="#e2231a"/>
<circle cx="372.81" cy="313.56" r="1.15" fill="#e2231a"/>
<circle cx="373.54" cy="313.46" r="1.15" fill="#e2231a"/>
<circle cx="374.28" cy="313.36" r="1.15" fill="#e2231a"/>
<circle cx="375.01" cy="313.25" r="1.15" fill="#e2231a"/>
<circle cx="375.75" cy="313.14" r="1.15" fill="#e2231a"/>
<circle cx="376.48" cy="313.03" r="1.15" fill="#e2231a"/>
<circle cx="377.22" cy="312.92" r="1.15" fill="#e2231a"/>
<circle cx="377.95" cy="312.80" r="1.15" fill="#e2231a"/>
<circle cx="378.69" cy="312.68" r="1.15" fill="#e2231a"/>
<circle cx="379.42" cy="312.56" r="1.15" fill="#e2231a"/>
<circle cx="380.15" cy="312.44" r="1.15" fill="#e2231a"/>
<circle cx="380.89" cy="312.32" r="1.15" fill="#e2231a"/>
<circle cx="381.62" cy="312.19" r="1.15" fill="#e2231a"/>
<circle cx="382.36" cy="312.07" r="1.15" fill="#e2231a"/>
<circle cx="383.09" cy="311.94" r="1.15" fill="#e2231a"/>
<circle cx="383.83" cy="311.81" r="1.15" fill="#e2231a"/>
<circle cx="384.56" cy="311.69" r="1.15" fill="#e2231a"/>
<circle cx="385.30" cy="311.56" r="1.15" fill="#e2231a"/>
<circle cx="386.03" cy="311.43" r="1.15" fill="#e2231a"/>
<circle cx="386.76" cy="311.30" r="1.15" fill="#e2231a"/>
<circle cx="387.50" cy="311.18" r="1.15" fill="#e2231a"/>
<circle cx="388.23" cy="311.05" r="1.15" fill="#e2231a"/>
<circle cx="388.97" cy="310.93" r="1.15" fill="#e2231a"/>
<circle cx="389.70" cy="310.81" r="1.15" fill="#e2231a"/>
<circle cx="390.44" cy="310.68" r="1.15" fill="#e2231a"/>
<circle cx="391.17" cy="310.57" r="1.15" fill="#e2231a"/>
<circle cx="391.91" cy="310.47" r="1.15" fill="#e2231a"/>
<circle cx="392.64" cy="310.38" r="1.15" fill="#e2231a"/>
<circle cx="393.38" cy="310.28" r="1.15" fill="#e2231a"/>
<circle cx="394.11" cy="310.18" r="1.15" fill="#e2231a"/>
<circle cx="394.84" cy="310.06" r="1.15" fill="#e2231a"/>
<circle cx="395.58" cy="309.92" r="1.15" fill="#e2231a"/>
<circle cx="396.31" cy="309.76" r="1.15" fill="#e2231a"/>
<circle cx="397.05" cy="309.55" r="1.15" fill="#e2231a"/>
<circle cx="397.78" cy="309.21" r="1.15" fill="#e2231a"/>
<circle cx="398.52" cy="308.75" r="1.15" fill="#e2231a"/>
<circle cx="399.25" cy="308.21" r="1.15" fill="#e2231a"/>
<circle cx="399.99" cy="307.66" r="1.15" fill="#e2231a"/>
<circle cx="400.72" cy="307.14" r="1.15" fill="#e2231a"/>
<circle cx="401.45" cy="306.63" r="1.15" fill="#e2231a"/>
<circle cx="402.19" cy="306.08" r="1.15" fill="#e2231a"/>
<circle cx="402.92" cy="305.49" r="1.15" fill="#e2231a"/>
<circle cx="403.66" cy="304.83" r="1.15" fill="#e2231a"/>
<circle cx="404.39" cy="304.24" r="1.15" fill="#e2231a"/>
<circle cx="405.13" cy="303.61" r="1.15" fill="#e2231a"/>
<circle cx="405.86" cy="302.69" r="1.15" fill="#e2231a"/>
<circle cx="406.60" cy="301.25" r="1.15" fill="#e2231a"/>
<circle cx="407.33" cy="295.84" r="1.15" fill="#e2231a"/>
<circle cx="408.07" cy="295.63" r="1.15" fill="#e2231a"/>
<circle cx="408.80" cy="282.91" r="1.15" fill="#e2231a"/>
<line x1="255.20" y1="318.53" x2="415.40" y2="318.53" stroke="#222" stroke-width="0.75" stroke-dasharray="2.4,5.6"/>
<line x1="335.35" y1="280.80" x2="335.35" y2="338.40" stroke="#222" stroke-width="0.75" stroke-dasharray="2.4,5.6" stroke-dashoffset="1.2"/>
<rect x="255.20" y="280.80" width="160.20" height="57.60" fill="none" stroke="#444" stroke-width="0.75"/>
<line x1="253.30" y1="335.70" x2="255.20" y2="335.70" stroke="#444" stroke-width="0.75"/>
<text class="s" x="251.70" y="337.75" font-size="5.8" text-anchor="end" fill="#4d4d4d">−1</text>
<line x1="253.30" y1="325.10" x2="255.20" y2="325.10" stroke="#444" stroke-width="0.75"/>
<text class="s" x="251.70" y="327.15" font-size="5.8" text-anchor="end" fill="#4d4d4d">0</text>
<line x1="253.30" y1="314.50" x2="255.20" y2="314.50" stroke="#444" stroke-width="0.75"/>
<text class="s" x="251.70" y="316.55" font-size="5.8" text-anchor="end" fill="#4d4d4d">1</text>
<line x1="253.30" y1="303.90" x2="255.20" y2="303.90" stroke="#444" stroke-width="0.75"/>
<text class="s" x="251.70" y="305.95" font-size="5.8" text-anchor="end" fill="#4d4d4d">2</text>
<line x1="253.30" y1="293.30" x2="255.20" y2="293.30" stroke="#444" stroke-width="0.75"/>
<text class="s" x="251.70" y="295.35" font-size="5.8" text-anchor="end" fill="#4d4d4d">3</text>
<line x1="253.30" y1="282.70" x2="255.20" y2="282.70" stroke="#444" stroke-width="0.75"/>
<text class="s" x="251.70" y="284.75" font-size="5.8" text-anchor="end" fill="#4d4d4d">4</text>
<line x1="261.90" y1="338.40" x2="261.90" y2="340.30" stroke="#444" stroke-width="0.75"/>
<text class="s" x="261.90" y="345.80" font-size="5.8" text-anchor="middle" fill="#4d4d4d">0</text>
<line x1="298.62" y1="338.40" x2="298.62" y2="340.30" stroke="#444" stroke-width="0.75"/>
<text class="s" x="298.62" y="345.80" font-size="5.8" text-anchor="middle" fill="#4d4d4d">50</text>
<line x1="335.35" y1="338.40" x2="335.35" y2="340.30" stroke="#444" stroke-width="0.75"/>
<text class="s" x="335.35" y="345.80" font-size="5.8" text-anchor="middle" fill="#4d4d4d">100</text>
<line x1="372.07" y1="338.40" x2="372.07" y2="340.30" stroke="#444" stroke-width="0.75"/>
<text class="s" x="372.07" y="345.80" font-size="5.8" text-anchor="middle" fill="#4d4d4d">150</text>
<line x1="408.80" y1="338.40" x2="408.80" y2="340.30" stroke="#444" stroke-width="0.75"/>
<text class="s" x="408.80" y="345.80" font-size="5.8" text-anchor="middle" fill="#4d4d4d">200</text>
<text class="s" x="335.30" y="354.70" font-size="7.7" text-anchor="middle">Patient ID(increasing risk score)</text>
<text class="s" x="243.15" y="309.60" font-size="7.9" text-anchor="middle" transform="rotate(-90 243.15 309.60)">Risk score</text>
<text class="s" x="427.70" y="303.40" font-size="7.7">group</text>
<circle cx="430.70" cy="311.60" r="1.15" fill="#e2231a"/>
<circle cx="430.70" cy="317.60" r="1.15" fill="#76c500"/>
<text class="s" x="438.30" y="313.80" font-size="6.2" fill="#222">high</text>
<text class="s" x="438.30" y="319.90" font-size="6.2" fill="#222">low</text>
<text class="r" font-size="27.0" stroke="#fff" stroke-width="0.45" transform="translate(462.57 246.60) scale(0.9425 1.0294)">F</text>
<text class="r" font-size="13.9" text-anchor="middle" transform="translate(561.60 258.8) scale(1 1.08)">Entire set</text>
<rect x="490.30" y="280.80" width="160.40" height="57.60" fill="#fff" stroke="none" stroke-width="1"/>
<line x1="490.30" y1="330.40" x2="650.70" y2="330.40" stroke="#f2f2f2" stroke-width="0.5"/>
<line x1="490.30" y1="319.80" x2="650.70" y2="319.80" stroke="#f2f2f2" stroke-width="0.5"/>
<line x1="490.30" y1="309.20" x2="650.70" y2="309.20" stroke="#f2f2f2" stroke-width="0.5"/>
<line x1="490.30" y1="298.60" x2="650.70" y2="298.60" stroke="#f2f2f2" stroke-width="0.5"/>
<line x1="490.30" y1="288.00" x2="650.70" y2="288.00" stroke="#f2f2f2" stroke-width="0.5"/>
<line x1="515.76" y1="280.80" x2="515.76" y2="338.40" stroke="#f2f2f2" stroke-width="0.5"/>
<line x1="552.29" y1="280.80" x2="552.29" y2="338.40" stroke="#f2f2f2" stroke-width="0.5"/>
<line x1="588.83" y1="280.80" x2="588.83" y2="338.40" stroke="#f2f2f2" stroke-width="0.5"/>
<line x1="625.36" y1="280.80" x2="625.36" y2="338.40" stroke="#f2f2f2" stroke-width="0.5"/>
<line x1="490.30" y1="335.70" x2="650.70" y2="335.70" stroke="#e8e8e8" stroke-width="0.75"/>
<line x1="490.30" y1="325.10" x2="650.70" y2="325.10" stroke="#e8e8e8" stroke-width="0.75"/>
<line x1="490.30" y1="314.50" x2="650.70" y2="314.50" stroke="#e8e8e8" stroke-width="0.75"/>
<line x1="490.30" y1="303.90" x2="650.70" y2="303.90" stroke="#e8e8e8" stroke-width="0.75"/>
<line x1="490.30" y1="293.30" x2="650.70" y2="293.30" stroke="#e8e8e8" stroke-width="0.75"/>
<line x1="490.30" y1="282.70" x2="650.70" y2="282.70" stroke="#e8e8e8" stroke-width="0.75"/>
<line x1="497.50" y1="280.80" x2="497.50" y2="338.40" stroke="#e8e8e8" stroke-width="0.75"/>
<line x1="534.03" y1="280.80" x2="534.03" y2="338.40" stroke="#e8e8e8" stroke-width="0.75"/>
<line x1="570.56" y1="280.80" x2="570.56" y2="338.40" stroke="#e8e8e8" stroke-width="0.75"/>
<line x1="607.09" y1="280.80" x2="607.09" y2="338.40" stroke="#e8e8e8" stroke-width="0.75"/>
<line x1="643.62" y1="280.80" x2="643.62" y2="338.40" stroke="#e8e8e8" stroke-width="0.75"/>
<circle cx="497.87" cy="335.70" r="1.15" fill="#76c500"/>
<circle cx="498.23" cy="333.33" r="1.15" fill="#76c500"/>
<circle cx="498.60" cy="331.96" r="1.15" fill="#76c500"/>
<circle cx="498.96" cy="331.04" r="1.15" fill="#76c500"/>
<circle cx="499.33" cy="330.36" r="1.15" fill="#76c500"/>
<circle cx="499.69" cy="329.87" r="1.15" fill="#76c500"/>
<circle cx="500.06" cy="329.49" r="1.15" fill="#76c500"/>
<circle cx="500.42" cy="329.18" r="1.15" fill="#76c500"/>
<circle cx="500.79" cy="328.91" r="1.15" fill="#76c500"/>
<circle cx="501.15" cy="328.68" r="1.15" fill="#76c500"/>
<circle cx="501.52" cy="328.47" r="1.15" fill="#76c500"/>
<circle cx="501.88" cy="328.28" r="1.15" fill="#76c500"/>
<circle cx="502.25" cy="328.09" r="1.15" fill="#76c500"/>
<circle cx="502.61" cy="327.92" r="1.15" fill="#76c500"/>
<circle cx="502.98" cy="327.75" r="1.15" fill="#76c500"/>
<circle cx="503.34" cy="327.59" r="1.15" fill="#76c500"/>
<circle cx="503.71" cy="327.44" r="1.15" fill="#76c500"/>
<circle cx="504.08" cy="327.29" r="1.15" fill="#76c500"/>
<circle cx="504.44" cy="327.15" r="1.15" fill="#76c500"/>
<circle cx="504.81" cy="327.01" r="1.15" fill="#76c500"/>
<circle cx="505.17" cy="326.88" r="1.15" fill="#76c500"/>
<circle cx="505.54" cy="326.76" r="1.15" fill="#76c500"/>
<circle cx="505.90" cy="326.64" r="1.15" fill="#76c500"/>
<circle cx="506.27" cy="326.52" r="1.15" fill="#76c500"/>
<circle cx="506.63" cy="326.40" r="1.15" fill="#76c500"/>
<circle cx="507.00" cy="326.29" r="1.15" fill="#76c500"/>
<circle cx="507.36" cy="326.17" r="1.15" fill="#76c500"/>
<circle cx="507.73" cy="326.06" r="1.15" fill="#76c500"/>
<circle cx="508.09" cy="325.95" r="1.15" fill="#76c500"/>
<circle cx="508.46" cy="325.84" r="1.15" fill="#76c500"/>
<circle cx="508.82" cy="325.73" r="1.15" fill="#76c500"/>
<circle cx="509.19" cy="325.62" r="1.15" fill="#76c500"/>
<circle cx="509.55" cy="325.51" r="1.15" fill="#76c500"/>
<circle cx="509.92" cy="325.41" r="1.15" fill="#76c500"/>
<circle cx="510.29" cy="325.30" r="1.15" fill="#76c500"/>
<circle cx="510.65" cy="325.20" r="1.15" fill="#76c500"/>
<circle cx="511.02" cy="325.10" r="1.15" fill="#76c500"/>
<circle cx="511.38" cy="325.01" r="1.15" fill="#76c500"/>
<circle cx="511.75" cy="324.91" r="1.15" fill="#76c500"/>
<circle cx="512.11" cy="324.82" r="1.15" fill="#76c500"/>
<circle cx="512.48" cy="324.73" r="1.15" fill="#76c500"/>
<circle cx="512.84" cy="324.64" r="1.15" fill="#76c500"/>
<circle cx="513.21" cy="324.55" r="1.15" fill="#76c500"/>
<circle cx="513.57" cy="324.46" r="1.15" fill="#76c500"/>
<circle cx="513.94" cy="324.38" r="1.15" fill="#76c500"/>
<circle cx="514.30" cy="324.30" r="1.15" fill="#76c500"/>
<circle cx="514.67" cy="324.22" r="1.15" fill="#76c500"/>
<circle cx="515.03" cy="324.15" r="1.15" fill="#76c500"/>
<circle cx="515.40" cy="324.07" r="1.15" fill="#76c500"/>
<circle cx="515.76" cy="324.00" r="1.15" fill="#76c500"/>
<circle cx="516.13" cy="323.93" r="1.15" fill="#76c500"/>
<circle cx="516.50" cy="323.86" r="1.15" fill="#76c500"/>
<circle cx="516.86" cy="323.79" r="1.15" fill="#76c500"/>
<circle cx="517.23" cy="323.73" r="1.15" fill="#76c500"/>
<circle cx="517.59" cy="323.66" r="1.15" fill="#76c500"/>
<circle cx="517.96" cy="323.60" r="1.15" fill="#76c500"/>
<circle cx="518.32" cy="323.54" r="1.15" fill="#76c500"/>
<circle cx="518.69" cy="323.48" r="1.15" fill="#76c500"/>
<circle cx="519.05" cy="323.42" r="1.15" fill="#76c500"/>
<circle cx="519.42" cy="323.36" r="1.15" fill="#76c500"/>
<circle cx="519.78" cy="323.30" r="1.15" fill="#76c500"/>
<circle cx="520.15" cy="323.24" r="1.15" fill="#76c500"/>
<circle cx="520.51" cy="323.18" r="1.15" fill="#76c500"/>
<circle cx="520.88" cy="323.13" r="1.15" fill="#76c500"/>
<circle cx="521.24" cy="323.07" r="1.15" fill="#76c500"/>
<circle cx="521.61" cy="323.02" r="1.15" fill="#76c500"/>
<circle cx="521.98" cy="322.96" r="1.15" fill="#76c500"/>
<circle cx="522.34" cy="322.91" r="1.15" fill="#76c500"/>
<circle cx="522.71" cy="322.85" r="1.15" fill="#76c500"/>
<circle cx="523.07" cy="322.80" r="1.15" fill="#76c500"/>
<circle cx="523.44" cy="322.74" r="1.15" fill="#76c500"/>
<circle cx="523.80" cy="322.68" r="1.15" fill="#76c500"/>
<circle cx="524.17" cy="322.63" r="1.15" fill="#76c500"/>
<circle cx="524.53" cy="322.57" r="1.15" fill="#76c500"/>
<circle cx="524.90" cy="322.52" r="1.15" fill="#76c500"/>
<circle cx="525.26" cy="322.46" r="1.15" fill="#76c500"/>
<circle cx="525.63" cy="322.40" r="1.15" fill="#76c500"/>
<circle cx="525.99" cy="322.34" r="1.15" fill="#76c500"/>
<circle cx="526.36" cy="322.29" r="1.15" fill="#76c500"/>
<circle cx="526.72" cy="322.23" r="1.15" fill="#76c500"/>
<circle cx="527.09" cy="322.17" r="1.15" fill="#76c500"/>
<circle cx="527.45" cy="322.10" r="1.15" fill="#76c500"/>
<circle cx="527.82" cy="322.04" r="1.15" fill="#76c500"/>
<circle cx="528.19" cy="321.98" r="1.15" fill="#76c500"/>
<circle cx="528.55" cy="321.92" r="1.15" fill="#76c500"/>
<circle cx="528.92" cy="321.86" r="1.15" fill="#76c500"/>
<circle cx="529.28" cy="321.80" r="1.15" fill="#76c500"/>
<circle cx="529.65" cy="321.73" r="1.15" fill="#76c500"/>
<circle cx="530.01" cy="321.67" r="1.15" fill="#76c500"/>
<circle cx="530.38" cy="321.61" r="1.15" fill="#76c500"/>
<circle cx="530.74" cy="321.55" r="1.15" fill="#76c500"/>
<circle cx="531.11" cy="321.49" r="1.15" fill="#76c500"/>
<circle cx="531.47" cy="321.42" r="1.15" fill="#76c500"/>
<circle cx="531.84" cy="321.36" r="1.15" fill="#76c500"/>
<circle cx="532.20" cy="321.30" r="1.15" fill="#76c500"/>
<circle cx="532.57" cy="321.24" r="1.15" fill="#76c500"/>
<circle cx="532.93" cy="321.18" r="1.15" fill="#76c500"/>
<circle cx="533.30" cy="321.12" r="1.15" fill="#76c500"/>
<circle cx="533.66" cy="321.06" r="1.15" fill="#76c500"/>
<circle cx="534.03" cy="321.00" r="1.15" fill="#76c500"/>
<circle cx="534.40" cy="320.94" r="1.15" fill="#76c500"/>
<circle cx="534.76" cy="320.88" r="1.15" fill="#76c500"/>
<circle cx="535.13" cy="320.82" r="1.15" fill="#76c500"/>
<circle cx="535.49" cy="320.76" r="1.15" fill="#76c500"/>
<circle cx="535.86" cy="320.71" r="1.15" fill="#76c500"/>
<circle cx="536.22" cy="320.65" r="1.15" fill="#76c500"/>
<circle cx="536.59" cy="320.60" r="1.15" fill="#76c500"/>
<circle cx="536.95" cy="320.54" r="1.15" fill="#76c500"/>
<circle cx="537.32" cy="320.49" r="1.15" fill="#76c500"/>
<circle cx="537.68" cy="320.44" r="1.15" fill="#76c500"/>
<circle cx="538.05" cy="320.39" r="1.15" fill="#76c500"/>
<circle cx="538.41" cy="320.34" r="1.15" fill="#76c500"/>
<circle cx="538.78" cy="320.29" r="1.15" fill="#76c500"/>
<circle cx="539.14" cy="320.25" r="1.15" fill="#76c500"/>
<circle cx="539.51" cy="320.20" r="1.15" fill="#76c500"/>
<circle cx="539.87" cy="320.16" r="1.15" fill="#76c500"/>
<circle cx="540.24" cy="320.12" r="1.15" fill="#76c500"/>
<circle cx="540.61" cy="320.08" r="1.15" fill="#76c500"/>
<circle cx="540.97" cy="320.04" r="1.15" fill="#76c500"/>
<circle cx="541.34" cy="320.00" r="1.15" fill="#76c500"/>
<circle cx="541.70" cy="319.96" r="1.15" fill="#76c500"/>
<circle cx="542.07" cy="319.92" r="1.15" fill="#76c500"/>
<circle cx="542.43" cy="319.88" r="1.15" fill="#76c500"/>
<circle cx="542.80" cy="319.84" r="1.15" fill="#76c500"/>
<circle cx="543.16" cy="319.80" r="1.15" fill="#76c500"/>
<circle cx="543.53" cy="319.77" r="1.15" fill="#76c500"/>
<circle cx="543.89" cy="319.73" r="1.15" fill="#76c500"/>
<circle cx="544.26" cy="319.69" r="1.15" fill="#76c500"/>
<circle cx="544.62" cy="319.66" r="1.15" fill="#76c500"/>
<circle cx="544.99" cy="319.62" r="1.15" fill="#76c500"/>
<circle cx="545.35" cy="319.58" r="1.15" fill="#76c500"/>
<circle cx="545.72" cy="319.55" r="1.15" fill="#76c500"/>
<circle cx="546.08" cy="319.52" r="1.15" fill="#76c500"/>
<circle cx="546.45" cy="319.48" r="1.15" fill="#76c500"/>
<circle cx="546.82" cy="319.45" r="1.15" fill="#76c500"/>
<circle cx="547.18" cy="319.41" r="1.15" fill="#76c500"/>
<circle cx="547.55" cy="319.38" r="1.15" fill="#76c500"/>
<circle cx="547.91" cy="319.35" r="1.15" fill="#76c500"/>
<circle cx="548.28" cy="319.32" r="1.15" fill="#76c500"/>
<circle cx="548.64" cy="319.29" r="1.15" fill="#76c500"/>
<circle cx="549.01" cy="319.25" r="1.15" fill="#76c500"/>
<circle cx="549.37" cy="319.22" r="1.15" fill="#76c500"/>
<circle cx="549.74" cy="319.19" r="1.15" fill="#76c500"/>
<circle cx="550.10" cy="319.16" r="1.15" fill="#76c500"/>
<circle cx="550.47" cy="319.13" r="1.15" fill="#76c500"/>
<circle cx="550.83" cy="319.11" r="1.15" fill="#76c500"/>
<circle cx="551.20" cy="319.08" r="1.15" fill="#76c500"/>
<circle cx="551.56" cy="319.05" r="1.15" fill="#76c500"/>
<circle cx="551.93" cy="319.02" r="1.15" fill="#76c500"/>
<circle cx="552.29" cy="318.99" r="1.15" fill="#76c500"/>
<circle cx="552.66" cy="318.97" r="1.15" fill="#76c500"/>
<circle cx="553.03" cy="318.94" r="1.15" fill="#76c500"/>
<circle cx="553.39" cy="318.91" r="1.15" fill="#76c500"/>
<circle cx="553.76" cy="318.89" r="1.15" fill="#76c500"/>
<circle cx="554.12" cy="318.86" r="1.15" fill="#76c500"/>
<circle cx="554.49" cy="318.84" r="1.15" fill="#76c500"/>
<circle cx="554.85" cy="318.81" r="1.15" fill="#76c500"/>
<circle cx="555.22" cy="318.79" r="1.15" fill="#76c500"/>
<circle cx="555.58" cy="318.76" r="1.15" fill="#76c500"/>
<circle cx="555.95" cy="318.74" r="1.15" fill="#76c500"/>
<circle cx="556.31" cy="318.72" r="1.15" fill="#76c500"/>
<circle cx="556.68" cy="318.69" r="1.15" fill="#76c500"/>
<circle cx="557.04" cy="318.67" r="1.15" fill="#76c500"/>
<circle cx="557.41" cy="318.65" r="1.15" fill="#76c500"/>
<circle cx="557.77" cy="318.63" r="1.15" fill="#76c500"/>
<circle cx="558.14" cy="318.61" r="1.15" fill="#76c500"/>
<circle cx="558.51" cy="318.59" r="1.15" fill="#76c500"/>
<circle cx="558.87" cy="318.58" r="1.15" fill="#76c500"/>
<circle cx="559.24" cy="318.56" r="1.15" fill="#76c500"/>
<circle cx="559.60" cy="318.54" r="1.15" fill="#76c500"/>
<circle cx="559.97" cy="318.52" r="1.15" fill="#76c500"/>
<circle cx="560.33" cy="318.51" r="1.15" fill="#76c500"/>
<circle cx="560.70" cy="318.49" r="1.15" fill="#76c500"/>
<circle cx="561.06" cy="318.47" r="1.15" fill="#76c500"/>
<circle cx="561.43" cy="318.46" r="1.15" fill="#76c500"/>
<circle cx="561.79" cy="318.44" r="1.15" fill="#76c500"/>
<circle cx="562.16" cy="318.43" r="1.15" fill="#76c500"/>
<circle cx="562.52" cy="318.41" r="1.15" fill="#76c500"/>
<circle cx="562.89" cy="318.40" r="1.15" fill="#76c500"/>
<circle cx="563.25" cy="318.38" r="1.15" fill="#76c500"/>
<circle cx="563.62" cy="318.37" r="1.15" fill="#76c500"/>
<circle cx="563.98" cy="318.35" r="1.15" fill="#76c500"/>
<circle cx="564.35" cy="318.33" r="1.15" fill="#76c500"/>
<circle cx="564.72" cy="318.32" r="1.15" fill="#76c500"/>
<circle cx="565.08" cy="318.30" r="1.15" fill="#76c500"/>
<circle cx="565.45" cy="318.29" r="1.15" fill="#76c500"/>
<circle cx="565.81" cy="318.27" r="1.15" fill="#76c500"/>
<circle cx="566.18" cy="318.25" r="1.15" fill="#76c500"/>
<circle cx="566.54" cy="318.23" r="1.15" fill="#76c500"/>
<circle cx="566.91" cy="318.22" r="1.15" fill="#76c500"/>
<circle cx="567.27" cy="318.20" r="1.15" fill="#76c500"/>
<circle cx="567.64" cy="318.18" r="1.15" fill="#76c500"/>
<circle cx="568.00" cy="318.16" r="1.15" fill="#76c500"/>
<circle cx="568.37" cy="318.14" r="1.15" fill="#76c500"/>
<circle cx="568.73" cy="318.12" r="1.15" fill="#76c500"/>
<circle cx="569.10" cy="318.09" r="1.15" fill="#76c500"/>
<circle cx="569.46" cy="318.07" r="1.15" fill="#76c500"/>
<circle cx="569.83" cy="318.05" r="1.15" fill="#76c500"/>
<circle cx="570.19" cy="318.02" r="1.15" fill="#76c500"/>
<circle cx="570.56" cy="318.00" r="1.15" fill="#76c500"/>
<circle cx="570.93" cy="317.97" r="1.15" fill="#e2231a"/>
<circle cx="571.29" cy="317.94" r="1.15" fill="#e2231a"/>
<circle cx="571.66" cy="317.91" r="1.15" fill="#e2231a"/>
<circle cx="572.02" cy="317.88" r="1.15" fill="#e2231a"/>
<circle cx="572.39" cy="317.85" r="1.15" fill="#e2231a"/>
<circle cx="572.75" cy="317.82" r="1.15" fill="#e2231a"/>
<circle cx="573.12" cy="317.78" r="1.15" fill="#e2231a"/>
<circle cx="573.48" cy="317.75" r="1.15" fill="#e2231a"/>
<circle cx="573.85" cy="317.71" r="1.15" fill="#e2231a"/>
<circle cx="574.21" cy="317.67" r="1.15" fill="#e2231a"/>
<circle cx="574.58" cy="317.63" r="1.15" fill="#e2231a"/>
<circle cx="574.94" cy="317.59" r="1.15" fill="#e2231a"/>
<circle cx="575.31" cy="317.55" r="1.15" fill="#e2231a"/>
<circle cx="575.67" cy="317.51" r="1.15" fill="#e2231a"/>
<circle cx="576.04" cy="317.46" r="1.15" fill="#e2231a"/>
<circle cx="576.40" cy="317.42" r="1.15" fill="#e2231a"/>
<circle cx="576.77" cy="317.38" r="1.15" fill="#e2231a"/>
<circle cx="577.14" cy="317.33" r="1.15" fill="#e2231a"/>
<circle cx="577.50" cy="317.28" r="1.15" fill="#e2231a"/>
<circle cx="577.87" cy="317.24" r="1.15" fill="#e2231a"/>
<circle cx="578.23" cy="317.19" r="1.15" fill="#e2231a"/>
<circle cx="578.60" cy="317.14" r="1.15" fill="#e2231a"/>
<circle cx="578.96" cy="317.09" r="1.15" fill="#e2231a"/>
<circle cx="579.33" cy="317.04" r="1.15" fill="#e2231a"/>
<circle cx="579.69" cy="317.00" r="1.15" fill="#e2231a"/>
<circle cx="580.06" cy="316.95" r="1.15" fill="#e2231a"/>
<circle cx="580.42" cy="316.90" r="1.15" fill="#e2231a"/>
<circle cx="580.79" cy="316.85" r="1.15" fill="#e2231a"/>
<circle cx="581.15" cy="316.80" r="1.15" fill="#e2231a"/>
<circle cx="581.52" cy="316.74" r="1.15" fill="#e2231a"/>
<circle cx="581.88" cy="316.69" r="1.15" fill="#e2231a"/>
<circle cx="582.25" cy="316.64" r="1.15" fill="#e2231a"/>
<circle cx="582.61" cy="316.59" r="1.15" fill="#e2231a"/>
<circle cx="582.98" cy="316.54" r="1.15" fill="#e2231a"/>
<circle cx="583.35" cy="316.49" r="1.15" fill="#e2231a"/>
<circle cx="583.71" cy="316.44" r="1.15" fill="#e2231a"/>
<circle cx="584.08" cy="316.39" r="1.15" fill="#e2231a"/>
<circle cx="584.44" cy="316.34" r="1.15" fill="#e2231a"/>
<circle cx="584.81" cy="316.29" r="1.15" fill="#e2231a"/>
<circle cx="585.17" cy="316.24" r="1.15" fill="#e2231a"/>
<circle cx="585.54" cy="316.19" r="1.15" fill="#e2231a"/>
<circle cx="585.90" cy="316.14" r="1.15" fill="#e2231a"/>
<circle cx="586.27" cy="316.09" r="1.15" fill="#e2231a"/>
<circle cx="586.63" cy="316.05" r="1.15" fill="#e2231a"/>
<circle cx="587.00" cy="316.00" r="1.15" fill="#e2231a"/>
<circle cx="587.36" cy="315.95" r="1.15" fill="#e2231a"/>
<circle cx="587.73" cy="315.91" r="1.15" fill="#e2231a"/>
<circle cx="588.09" cy="315.86" r="1.15" fill="#e2231a"/>
<circle cx="588.46" cy="315.82" r="1.15" fill="#e2231a"/>
<circle cx="588.83" cy="315.77" r="1.15" fill="#e2231a"/>
<circle cx="589.19" cy="315.73" r="1.15" fill="#e2231a"/>
<circle cx="589.56" cy="315.69" r="1.15" fill="#e2231a"/>
<circle cx="589.92" cy="315.64" r="1.15" fill="#e2231a"/>
<circle cx="590.29" cy="315.60" r="1.15" fill="#e2231a"/>
<circle cx="590.65" cy="315.56" r="1.15" fill="#e2231a"/>
<circle cx="591.02" cy="315.52" r="1.15" fill="#e2231a"/>
<circle cx="591.38" cy="315.48" r="1.15" fill="#e2231a"/>
<circle cx="591.75" cy="315.44" r="1.15" fill="#e2231a"/>
<circle cx="592.11" cy="315.40" r="1.15" fill="#e2231a"/>
<circle cx="592.48" cy="315.35" r="1.15" fill="#e2231a"/>
<circle cx="592.84" cy="315.31" r="1.15" fill="#e2231a"/>
<circle cx="593.21" cy="315.27" r="1.15" fill="#e2231a"/>
<circle cx="593.57" cy="315.23" r="1.15" fill="#e2231a"/>
<circle cx="593.94" cy="315.19" r="1.15" fill="#e2231a"/>
<circle cx="594.30" cy="315.16" r="1.15" fill="#e2231a"/>
<circle cx="594.67" cy="315.12" r="1.15" fill="#e2231a"/>
<circle cx="595.04" cy="315.08" r="1.15" fill="#e2231a"/>
<circle cx="595.40" cy="315.04" r="1.15" fill="#e2231a"/>
<circle cx="595.77" cy="315.00" r="1.15" fill="#e2231a"/>
<circle cx="596.13" cy="314.96" r="1.15" fill="#e2231a"/>
<circle cx="596.50" cy="314.92" r="1.15" fill="#e2231a"/>
<circle cx="596.86" cy="314.88" r="1.15" fill="#e2231a"/>
<circle cx="597.23" cy="314.84" r="1.15" fill="#e2231a"/>
<circle cx="597.59" cy="314.80" r="1.15" fill="#e2231a"/>
<circle cx="597.96" cy="314.76" r="1.15" fill="#e2231a"/>
<circle cx="598.32" cy="314.72" r="1.15" fill="#e2231a"/>
<circle cx="598.69" cy="314.68" r="1.15" fill="#e2231a"/>
<circle cx="599.05" cy="314.64" r="1.15" fill="#e2231a"/>
<circle cx="599.42" cy="314.60" r="1.15" fill="#e2231a"/>
<circle cx="599.78" cy="314.56" r="1.15" fill="#e2231a"/>
<circle cx="600.15" cy="314.51" r="1.15" fill="#e2231a"/>
<circle cx="600.51" cy="314.47" r="1.15" fill="#e2231a"/>
<circle cx="600.88" cy="314.43" r="1.15" fill="#e2231a"/>
<circle cx="601.25" cy="314.39" r="1.15" fill="#e2231a"/>
<circle cx="601.61" cy="314.35" r="1.15" fill="#e2231a"/>
<circle cx="601.98" cy="314.30" r="1.15" fill="#e2231a"/>
<circle cx="602.34" cy="314.26" r="1.15" fill="#e2231a"/>
<circle cx="602.71" cy="314.22" r="1.15" fill="#e2231a"/>
<circle cx="603.07" cy="314.17" r="1.15" fill="#e2231a"/>
<circle cx="603.44" cy="314.13" r="1.15" fill="#e2231a"/>
<circle cx="603.80" cy="314.08" r="1.15" fill="#e2231a"/>
<circle cx="604.17" cy="314.04" r="1.15" fill="#e2231a"/>
<circle cx="604.53" cy="313.99" r="1.15" fill="#e2231a"/>
<circle cx="604.90" cy="313.95" r="1.15" fill="#e2231a"/>
<circle cx="605.26" cy="313.90" r="1.15" fill="#e2231a"/>
<circle cx="605.63" cy="313.85" r="1.15" fill="#e2231a"/>
<circle cx="605.99" cy="313.80" r="1.15" fill="#e2231a"/>
<circle cx="606.36" cy="313.75" r="1.15" fill="#e2231a"/>
<circle cx="606.72" cy="313.70" r="1.15" fill="#e2231a"/>
<circle cx="607.09" cy="313.65" r="1.15" fill="#e2231a"/>
<circle cx="607.46" cy="313.60" r="1.15" fill="#e2231a"/>
<circle cx="607.82" cy="313.55" r="1.15" fill="#e2231a"/>
<circle cx="608.19" cy="313.50" r="1.15" fill="#e2231a"/>
<circle cx="608.55" cy="313.45" r="1.15" fill="#e2231a"/>
<circle cx="608.92" cy="313.39" r="1.15" fill="#e2231a"/>
<circle cx="609.28" cy="313.34" r="1.15" fill="#e2231a"/>
<circle cx="609.65" cy="313.29" r="1.15" fill="#e2231a"/>
<circle cx="610.01" cy="313.23" r="1.15" fill="#e2231a"/>
<circle cx="610.38" cy="313.18" r="1.15" fill="#e2231a"/>
<circle cx="610.74" cy="313.12" r="1.15" fill="#e2231a"/>
<circle cx="611.11" cy="313.07" r="1.15" fill="#e2231a"/>
<circle cx="611.47" cy="313.01" r="1.15" fill="#e2231a"/>
<circle cx="611.84" cy="312.95" r="1.15" fill="#e2231a"/>
<circle cx="612.20" cy="312.90" r="1.15" fill="#e2231a"/>
<circle cx="612.57" cy="312.84" r="1.15" fill="#e2231a"/>
<circle cx="612.93" cy="312.78" r="1.15" fill="#e2231a"/>
<circle cx="613.30" cy="312.72" r="1.15" fill="#e2231a"/>
<circle cx="613.67" cy="312.66" r="1.15" fill="#e2231a"/>
<circle cx="614.03" cy="312.60" r="1.15" fill="#e2231a"/>
<circle cx="614.40" cy="312.54" r="1.15" fill="#e2231a"/>
<circle cx="614.76" cy="312.48" r="1.15" fill="#e2231a"/>
<circle cx="615.13" cy="312.42" r="1.15" fill="#e2231a"/>
<circle cx="615.49" cy="312.36" r="1.15" fill="#e2231a"/>
<circle cx="615.86" cy="312.30" r="1.15" fill="#e2231a"/>
<circle cx="616.22" cy="312.23" r="1.15" fill="#e2231a"/>
<circle cx="616.59" cy="312.17" r="1.15" fill="#e2231a"/>
<circle cx="616.95" cy="312.11" r="1.15" fill="#e2231a"/>
<circle cx="617.32" cy="312.04" r="1.15" fill="#e2231a"/>
<circle cx="617.68" cy="311.98" r="1.15" fill="#e2231a"/>
<circle cx="618.05" cy="311.91" r="1.15" fill="#e2231a"/>
<circle cx="618.41" cy="311.85" r="1.15" fill="#e2231a"/>
<circle cx="618.78" cy="311.78" r="1.15" fill="#e2231a"/>
<circle cx="619.14" cy="311.71" r="1.15" fill="#e2231a"/>
<circle cx="619.51" cy="311.64" r="1.15" fill="#e2231a"/>
<circle cx="619.88" cy="311.58" r="1.15" fill="#e2231a"/>
<circle cx="620.24" cy="311.51" r="1.15" fill="#e2231a"/>
<circle cx="620.61" cy="311.44" r="1.15" fill="#e2231a"/>
<circle cx="620.97" cy="311.37" r="1.15" fill="#e2231a"/>
<circle cx="621.34" cy="311.30" r="1.15" fill="#e2231a"/>
<circle cx="621.70" cy="311.22" r="1.15" fill="#e2231a"/>
<circle cx="622.07" cy="311.15" r="1.15" fill="#e2231a"/>
<circle cx="622.43" cy="311.08" r="1.15" fill="#e2231a"/>
<circle cx="622.80" cy="311.00" r="1.15" fill="#e2231a"/>
<circle cx="623.16" cy="310.93" r="1.15" fill="#e2231a"/>
<circle cx="623.53" cy="310.86" r="1.15" fill="#e2231a"/>
<circle cx="623.89" cy="310.78" r="1.15" fill="#e2231a"/>
<circle cx="624.26" cy="310.70" r="1.15" fill="#e2231a"/>
<circle cx="624.62" cy="310.63" r="1.15" fill="#e2231a"/>
<circle cx="624.99" cy="310.55" r="1.15" fill="#e2231a"/>
<circle cx="625.36" cy="310.47" r="1.15" fill="#e2231a"/>
<circle cx="625.72" cy="310.40" r="1.15" fill="#e2231a"/>
<circle cx="626.09" cy="310.32" r="1.15" fill="#e2231a"/>
<circle cx="626.45" cy="310.25" r="1.15" fill="#e2231a"/>
<circle cx="626.82" cy="310.18" r="1.15" fill="#e2231a"/>
<circle cx="627.18" cy="310.11" r="1.15" fill="#e2231a"/>
<circle cx="627.55" cy="310.03" r="1.15" fill="#e2231a"/>
<circle cx="627.91" cy="309.96" r="1.15" fill="#e2231a"/>
<circle cx="628.28" cy="309.89" r="1.15" fill="#e2231a"/>
<circle cx="628.64" cy="309.81" r="1.15" fill="#e2231a"/>
<circle cx="629.01" cy="309.73" r="1.15" fill="#e2231a"/>
<circle cx="629.37" cy="309.64" r="1.15" fill="#e2231a"/>
<circle cx="629.74" cy="309.55" r="1.15" fill="#e2231a"/>
<circle cx="630.10" cy="309.45" r="1.15" fill="#e2231a"/>
<circle cx="630.47" cy="309.34" r="1.15" fill="#e2231a"/>
<circle cx="630.83" cy="309.23" r="1.15" fill="#e2231a"/>
<circle cx="631.20" cy="309.10" r="1.15" fill="#e2231a"/>
<circle cx="631.57" cy="308.97" r="1.15" fill="#e2231a"/>
<circle cx="631.93" cy="308.82" r="1.15" fill="#e2231a"/>
<circle cx="632.30" cy="308.67" r="1.15" fill="#e2231a"/>
<circle cx="632.66" cy="308.46" r="1.15" fill="#e2231a"/>
<circle cx="633.03" cy="308.18" r="1.15" fill="#e2231a"/>
<circle cx="633.39" cy="307.83" r="1.15" fill="#e2231a"/>
<circle cx="633.76" cy="307.43" r="1.15" fill="#e2231a"/>
<circle cx="634.12" cy="307.00" r="1.15" fill="#e2231a"/>
<circle cx="634.49" cy="306.55" r="1.15" fill="#e2231a"/>
<circle cx="634.85" cy="306.11" r="1.15" fill="#e2231a"/>
<circle cx="635.22" cy="305.69" r="1.15" fill="#e2231a"/>
<circle cx="635.58" cy="305.30" r="1.15" fill="#e2231a"/>
<circle cx="635.95" cy="304.96" r="1.15" fill="#e2231a"/>
<circle cx="636.31" cy="304.68" r="1.15" fill="#e2231a"/>
<circle cx="636.68" cy="304.44" r="1.15" fill="#e2231a"/>
<circle cx="637.04" cy="304.24" r="1.15" fill="#e2231a"/>
<circle cx="637.41" cy="304.07" r="1.15" fill="#e2231a"/>
<circle cx="637.78" cy="303.90" r="1.15" fill="#e2231a"/>
<circle cx="638.14" cy="303.75" r="1.15" fill="#e2231a"/>
<circle cx="638.51" cy="303.59" r="1.15" fill="#e2231a"/>
<circle cx="638.87" cy="303.41" r="1.15" fill="#e2231a"/>
<circle cx="639.24" cy="303.22" r="1.15" fill="#e2231a"/>
<circle cx="639.60" cy="302.98" r="1.15" fill="#e2231a"/>
<circle cx="639.97" cy="302.71" r="1.15" fill="#e2231a"/>
<circle cx="640.33" cy="302.38" r="1.15" fill="#e2231a"/>
<circle cx="640.70" cy="301.98" r="1.15" fill="#e2231a"/>
<circle cx="641.06" cy="301.51" r="1.15" fill="#e2231a"/>
<circle cx="641.43" cy="300.68" r="1.15" fill="#e2231a"/>
<circle cx="641.79" cy="298.50" r="1.15" fill="#e2231a"/>
<circle cx="642.16" cy="296.48" r="1.15" fill="#e2231a"/>
<circle cx="642.52" cy="295.42" r="1.15" fill="#e2231a"/>
<circle cx="642.89" cy="290.33" r="1.15" fill="#e2231a"/>
<circle cx="643.25" cy="290.12" r="1.15" fill="#e2231a"/>
<circle cx="643.62" cy="282.91" r="1.15" fill="#e2231a"/>
<line x1="490.30" y1="318.53" x2="650.70" y2="318.53" stroke="#222" stroke-width="0.75" stroke-dasharray="2.4,5.6"/>
<line x1="570.56" y1="280.80" x2="570.56" y2="338.40" stroke="#222" stroke-width="0.75" stroke-dasharray="2.4,5.6" stroke-dashoffset="1.2"/>
<rect x="490.30" y="280.80" width="160.40" height="57.60" fill="none" stroke="#444" stroke-width="0.75"/>
<line x1="488.40" y1="335.70" x2="490.30" y2="335.70" stroke="#444" stroke-width="0.75"/>
<text class="s" x="486.80" y="337.75" font-size="5.8" text-anchor="end" fill="#4d4d4d">−1</text>
<line x1="488.40" y1="325.10" x2="490.30" y2="325.10" stroke="#444" stroke-width="0.75"/>
<text class="s" x="486.80" y="327.15" font-size="5.8" text-anchor="end" fill="#4d4d4d">0</text>
<line x1="488.40" y1="314.50" x2="490.30" y2="314.50" stroke="#444" stroke-width="0.75"/>
<text class="s" x="486.80" y="316.55" font-size="5.8" text-anchor="end" fill="#4d4d4d">1</text>
<line x1="488.40" y1="303.90" x2="490.30" y2="303.90" stroke="#444" stroke-width="0.75"/>
<text class="s" x="486.80" y="305.95" font-size="5.8" text-anchor="end" fill="#4d4d4d">2</text>
<line x1="488.40" y1="293.30" x2="490.30" y2="293.30" stroke="#444" stroke-width="0.75"/>
<text class="s" x="486.80" y="295.35" font-size="5.8" text-anchor="end" fill="#4d4d4d">3</text>
<line x1="488.40" y1="282.70" x2="490.30" y2="282.70" stroke="#444" stroke-width="0.75"/>
<text class="s" x="486.80" y="284.75" font-size="5.8" text-anchor="end" fill="#4d4d4d">4</text>
<line x1="497.50" y1="338.40" x2="497.50" y2="340.30" stroke="#444" stroke-width="0.75"/>
<text class="s" x="497.50" y="345.80" font-size="5.8" text-anchor="middle" fill="#4d4d4d">0</text>
<line x1="534.03" y1="338.40" x2="534.03" y2="340.30" stroke="#444" stroke-width="0.75"/>
<text class="s" x="534.03" y="345.80" font-size="5.8" text-anchor="middle" fill="#4d4d4d">100</text>
<line x1="570.56" y1="338.40" x2="570.56" y2="340.30" stroke="#444" stroke-width="0.75"/>
<text class="s" x="570.56" y="345.80" font-size="5.8" text-anchor="middle" fill="#4d4d4d">200</text>
<line x1="607.09" y1="338.40" x2="607.09" y2="340.30" stroke="#444" stroke-width="0.75"/>
<text class="s" x="607.09" y="345.80" font-size="5.8" text-anchor="middle" fill="#4d4d4d">300</text>
<line x1="643.62" y1="338.40" x2="643.62" y2="340.30" stroke="#444" stroke-width="0.75"/>
<text class="s" x="643.62" y="345.80" font-size="5.8" text-anchor="middle" fill="#4d4d4d">400</text>
<text class="s" x="570.50" y="354.70" font-size="7.7" text-anchor="middle">Patient ID(increasing risk score)</text>
<text class="s" x="478.25" y="309.60" font-size="7.9" text-anchor="middle" transform="rotate(-90 478.25 309.60)">Risk score</text>
<text class="s" x="662.70" y="303.40" font-size="7.7">group</text>
<circle cx="665.70" cy="311.60" r="1.15" fill="#e2231a"/>
<circle cx="665.70" cy="317.60" r="1.15" fill="#76c500"/>
<text class="s" x="673.30" y="313.80" font-size="6.2" fill="#222">high</text>
<text class="s" x="673.30" y="319.90" font-size="6.2" fill="#222">low</text>
<text class="r" font-size="27.0" stroke="#fff" stroke-width="0.45" transform="translate(6.63 387.23) scale(1.0600 1.0087)">G</text>
<rect x="21.50" y="408.60" width="156.30" height="57.70" fill="#fff" stroke="none" stroke-width="1"/>
<line x1="21.50" y1="457.10" x2="177.80" y2="457.10" stroke="#f2f2f2" stroke-width="0.5"/>
<line x1="21.50" y1="443.10" x2="177.80" y2="443.10" stroke="#f2f2f2" stroke-width="0.5"/>
<line x1="21.50" y1="429.10" x2="177.80" y2="429.10" stroke="#f2f2f2" stroke-width="0.5"/>
<line x1="21.50" y1="415.10" x2="177.80" y2="415.10" stroke="#f2f2f2" stroke-width="0.5"/>
<line x1="45.83" y1="408.60" x2="45.83" y2="466.30" stroke="#f2f2f2" stroke-width="0.5"/>
<line x1="81.47" y1="408.60" x2="81.47" y2="466.30" stroke="#f2f2f2" stroke-width="0.5"/>
<line x1="117.12" y1="408.60" x2="117.12" y2="466.30" stroke="#f2f2f2" stroke-width="0.5"/>
<line x1="152.77" y1="408.60" x2="152.77" y2="466.30" stroke="#f2f2f2" stroke-width="0.5"/>
<line x1="21.50" y1="464.10" x2="177.80" y2="464.10" stroke="#e8e8e8" stroke-width="0.75"/>
<line x1="21.50" y1="450.10" x2="177.80" y2="450.10" stroke="#e8e8e8" stroke-width="0.75"/>
<line x1="21.50" y1="436.10" x2="177.80" y2="436.10" stroke="#e8e8e8" stroke-width="0.75"/>
<line x1="21.50" y1="422.10" x2="177.80" y2="422.10" stroke="#e8e8e8" stroke-width="0.75"/>
<line x1="28.00" y1="408.60" x2="28.00" y2="466.30" stroke="#e8e8e8" stroke-width="0.75"/>
<line x1="63.65" y1="408.60" x2="63.65" y2="466.30" stroke="#e8e8e8" stroke-width="0.75"/>
<line x1="99.30" y1="408.60" x2="99.30" y2="466.30" stroke="#e8e8e8" stroke-width="0.75"/>
<line x1="134.95" y1="408.60" x2="134.95" y2="466.30" stroke="#e8e8e8" stroke-width="0.75"/>
<line x1="170.60" y1="408.60" x2="170.60" y2="466.30" stroke="#e8e8e8" stroke-width="0.75"/>
<circle cx="28.60" cy="443.70" r="1.2" fill="#76c500"/>
<circle cx="30.30" cy="444.90" r="1.2" fill="#76c500"/>
<circle cx="31.50" cy="444.90" r="1.2" fill="#76c500"/>
<circle cx="32.70" cy="444.60" r="1.2" fill="#76c500"/>
<circle cx="33.80" cy="444.60" r="1.2" fill="#76c500"/>
<circle cx="35.00" cy="444.00" r="1.2" fill="#76c500"/>
<circle cx="32.40" cy="438.30" r="1.2" fill="#76c500"/>
<circle cx="31.50" cy="449.20" r="1.2" fill="#76c500"/>
<circle cx="34.40" cy="448.80" r="1.2" fill="#76c500"/>
<circle cx="38.80" cy="448.60" r="1.2" fill="#76c500"/>
<circle cx="30.10" cy="454.50" r="1.2" fill="#76c500"/>
<circle cx="29.50" cy="461.70" r="1.2" fill="#76c500"/>
<circle cx="36.20" cy="457.10" r="1.2" fill="#76c500"/>
<circle cx="37.10" cy="458.30" r="1.2" fill="#76c500"/>
<circle cx="37.90" cy="460.00" r="1.2" fill="#76c500"/>
<circle cx="39.70" cy="463.50" r="1.2" fill="#76c500"/>
<circle cx="40.90" cy="463.00" r="1.2" fill="#76c500"/>
<circle cx="41.70" cy="462.40" r="1.2" fill="#76c500"/>
<circle cx="40.90" cy="459.50" r="1.2" fill="#76c500"/>
<circle cx="42.00" cy="458.90" r="1.2" fill="#76c500"/>
<circle cx="42.90" cy="455.70" r="1.2" fill="#76c500"/>
<circle cx="44.40" cy="463.80" r="1.2" fill="#76c500"/>
<circle cx="43.80" cy="432.10" r="1.2" fill="#76c500"/>
<circle cx="45.80" cy="437.60" r="1.2" fill="#76c500"/>
<circle cx="44.90" cy="442.80" r="1.2" fill="#76c500"/>
<circle cx="47.00" cy="442.20" r="1.2" fill="#76c500"/>
<circle cx="47.90" cy="444.00" r="1.2" fill="#76c500"/>
<circle cx="46.60" cy="458.80" r="1.2" fill="#76c500"/>
<circle cx="48.70" cy="460.60" r="1.2" fill="#76c500"/>
<circle cx="49.30" cy="451.90" r="1.2" fill="#76c500"/>
<circle cx="50.20" cy="457.70" r="1.2" fill="#76c500"/>
<circle cx="50.80" cy="461.80" r="1.2" fill="#76c500"/>
<circle cx="52.00" cy="459.50" r="1.2" fill="#76c500"/>
<circle cx="53.10" cy="458.90" r="1.2" fill="#76c500"/>
<circle cx="54.30" cy="458.30" r="1.2" fill="#76c500"/>
<circle cx="53.70" cy="446.90" r="1.2" fill="#76c500"/>
<circle cx="55.20" cy="450.00" r="1.2" fill="#76c500"/>
<circle cx="55.70" cy="444.00" r="1.2" fill="#76c500"/>
<circle cx="57.20" cy="456.50" r="1.2" fill="#76c500"/>
<circle cx="58.40" cy="456.50" r="1.2" fill="#76c500"/>
<circle cx="59.50" cy="456.50" r="1.2" fill="#76c500"/>
<circle cx="59.00" cy="452.40" r="1.2" fill="#76c500"/>
<circle cx="59.20" cy="463.80" r="1.2" fill="#76c500"/>
<circle cx="60.40" cy="436.40" r="1.2" fill="#76c500"/>
<circle cx="63.80" cy="411.50" r="1.2" fill="#76c500"/>
<circle cx="60.70" cy="436.70" r="1.2" fill="#76c500"/>
<circle cx="65.20" cy="443.10" r="1.2" fill="#76c500"/>
<circle cx="64.50" cy="447.00" r="1.2" fill="#76c500"/>
<circle cx="65.90" cy="447.00" r="1.2" fill="#76c500"/>
<circle cx="67.20" cy="447.00" r="1.2" fill="#76c500"/>
<circle cx="66.50" cy="449.70" r="1.2" fill="#76c500"/>
<circle cx="63.10" cy="451.10" r="1.2" fill="#76c500"/>
<circle cx="62.40" cy="453.90" r="1.2" fill="#76c500"/>
<circle cx="61.40" cy="455.60" r="1.2" fill="#76c500"/>
<circle cx="60.30" cy="456.60" r="1.2" fill="#76c500"/>
<circle cx="71.60" cy="446.70" r="1.2" fill="#76c500"/>
<circle cx="74.50" cy="443.20" r="1.2" fill="#76c500"/>
<circle cx="75.80" cy="450.10" r="1.2" fill="#76c500"/>
<circle cx="76.50" cy="452.20" r="1.2" fill="#76c500"/>
<circle cx="71.00" cy="456.30" r="1.2" fill="#76c500"/>
<circle cx="72.70" cy="456.30" r="1.2" fill="#76c500"/>
<circle cx="73.80" cy="455.60" r="1.2" fill="#76c500"/>
<circle cx="68.30" cy="460.10" r="1.2" fill="#76c500"/>
<circle cx="70.30" cy="462.80" r="1.2" fill="#76c500"/>
<circle cx="72.00" cy="463.50" r="1.2" fill="#76c500"/>
<circle cx="60.30" cy="463.90" r="1.2" fill="#76c500"/>
<circle cx="77.60" cy="459.40" r="1.2" fill="#76c500"/>
<circle cx="79.30" cy="457.00" r="1.2" fill="#76c500"/>
<circle cx="80.00" cy="452.50" r="1.2" fill="#76c500"/>
<circle cx="81.70" cy="453.20" r="1.2" fill="#76c500"/>
<circle cx="82.00" cy="460.10" r="1.2" fill="#76c500"/>
<circle cx="83.80" cy="457.70" r="1.2" fill="#76c500"/>
<circle cx="84.40" cy="451.10" r="1.2" fill="#76c500"/>
<circle cx="85.80" cy="453.20" r="1.2" fill="#76c500"/>
<circle cx="85.10" cy="441.50" r="1.2" fill="#76c500"/>
<circle cx="87.90" cy="437.00" r="1.2" fill="#76c500"/>
<circle cx="89.50" cy="444.10" r="1.2" fill="#76c500"/>
<circle cx="86.50" cy="460.10" r="1.2" fill="#76c500"/>
<circle cx="88.20" cy="460.40" r="1.2" fill="#76c500"/>
<circle cx="87.20" cy="463.70" r="1.2" fill="#76c500"/>
<circle cx="91.00" cy="455.60" r="1.2" fill="#76c500"/>
<circle cx="92.00" cy="459.40" r="1.2" fill="#76c500"/>
<circle cx="93.40" cy="459.40" r="1.2" fill="#76c500"/>
<circle cx="94.80" cy="458.70" r="1.2" fill="#76c500"/>
<circle cx="92.00" cy="463.90" r="1.2" fill="#76c500"/>
<circle cx="94.40" cy="450.10" r="1.2" fill="#76c500"/>
<circle cx="95.80" cy="438.70" r="1.2" fill="#76c500"/>
<circle cx="96.50" cy="455.60" r="1.2" fill="#76c500"/>
<circle cx="98.20" cy="456.30" r="1.2" fill="#76c500"/>
<circle cx="97.90" cy="462.70" r="1.2" fill="#76c500"/>
<circle cx="99.20" cy="447.00" r="1.2" fill="#76c500"/>
<circle cx="105.20" cy="420.80" r="1.2" fill="#76c500"/>
<circle cx="101.80" cy="441.80" r="1.2" fill="#76c500"/>
<circle cx="99.30" cy="447.00" r="1.2" fill="#76c500"/>
<circle cx="101.10" cy="449.80" r="1.2" fill="#76c500"/>
<circle cx="102.80" cy="450.10" r="1.2" fill="#76c500"/>
<circle cx="104.20" cy="448.40" r="1.2" fill="#76c500"/>
<circle cx="107.30" cy="447.10" r="1.2" fill="#76c500"/>
<circle cx="113.80" cy="443.60" r="1.2" fill="#76c500"/>
<circle cx="100.40" cy="458.00" r="1.2" fill="#76c500"/>
<circle cx="102.10" cy="458.40" r="1.2" fill="#76c500"/>
<circle cx="105.90" cy="460.80" r="1.2" fill="#76c500"/>
<circle cx="106.90" cy="459.00" r="1.2" fill="#76c500"/>
<circle cx="108.30" cy="458.00" r="1.2" fill="#76c500"/>
<circle cx="103.80" cy="463.90" r="1.2" fill="#76c500"/>
<circle cx="111.40" cy="463.90" r="1.2" fill="#76c500"/>
<circle cx="111.00" cy="460.10" r="1.2" fill="#76c500"/>
<circle cx="112.80" cy="459.40" r="1.2" fill="#76c500"/>
<circle cx="115.20" cy="460.40" r="1.2" fill="#76c500"/>
<circle cx="116.60" cy="448.70" r="1.2" fill="#76c500"/>
<circle cx="117.90" cy="448.20" r="1.2" fill="#76c500"/>
<circle cx="115.90" cy="451.80" r="1.2" fill="#76c500"/>
<circle cx="117.20" cy="453.20" r="1.2" fill="#76c500"/>
<circle cx="119.00" cy="456.30" r="1.2" fill="#76c500"/>
<circle cx="119.30" cy="458.70" r="1.2" fill="#76c500"/>
<circle cx="120.00" cy="452.80" r="1.2" fill="#76c500"/>
<circle cx="121.70" cy="450.30" r="1.2" fill="#76c500"/>
<circle cx="122.40" cy="458.70" r="1.2" fill="#76c500"/>
<circle cx="123.80" cy="455.30" r="1.2" fill="#76c500"/>
<circle cx="125.20" cy="455.90" r="1.2" fill="#76c500"/>
<circle cx="124.50" cy="451.50" r="1.2" fill="#76c500"/>
<circle cx="125.80" cy="458.70" r="1.2" fill="#76c500"/>
<circle cx="127.20" cy="435.20" r="1.2" fill="#76c500"/>
<circle cx="127.90" cy="443.60" r="1.2" fill="#76c500"/>
<circle cx="126.50" cy="463.50" r="1.2" fill="#76c500"/>
<circle cx="128.60" cy="459.90" r="1.2" fill="#76c500"/>
<circle cx="130.00" cy="457.00" r="1.2" fill="#76c500"/>
<circle cx="131.00" cy="463.50" r="1.2" fill="#76c500"/>
<circle cx="132.00" cy="453.90" r="1.2" fill="#76c500"/>
<circle cx="132.90" cy="446.90" r="1.2" fill="#76c500"/>
<circle cx="133.80" cy="458.00" r="1.2" fill="#76c500"/>
<circle cx="135.10" cy="460.40" r="1.2" fill="#76c500"/>
<circle cx="136.50" cy="450.40" r="1.2" fill="#76c500"/>
<circle cx="137.20" cy="448.40" r="1.2" fill="#76c500"/>
<circle cx="137.90" cy="453.20" r="1.2" fill="#76c500"/>
<circle cx="138.30" cy="448.50" r="1.2" fill="#76c500"/>
<circle cx="138.70" cy="453.20" r="1.2" fill="#76c500"/>
<circle cx="139.70" cy="452.50" r="1.2" fill="#76c500"/>
<circle cx="141.10" cy="452.20" r="1.2" fill="#76c500"/>
<circle cx="142.80" cy="433.80" r="1.2" fill="#76c500"/>
<circle cx="143.90" cy="443.90" r="1.2" fill="#76c500"/>
<circle cx="144.90" cy="454.60" r="1.2" fill="#76c500"/>
<circle cx="145.90" cy="456.60" r="1.2" fill="#76c500"/>
<circle cx="142.10" cy="463.70" r="1.2" fill="#76c500"/>
<circle cx="146.30" cy="462.10" r="1.2" fill="#76c500"/>
<circle cx="147.30" cy="460.80" r="1.2" fill="#76c500"/>
<circle cx="148.30" cy="460.10" r="1.2" fill="#76c500"/>
<circle cx="149.00" cy="461.10" r="1.2" fill="#76c500"/>
<circle cx="150.00" cy="459.00" r="1.2" fill="#76c500"/>
<circle cx="152.10" cy="459.70" r="1.2" fill="#76c500"/>
<circle cx="150.70" cy="452.50" r="1.2" fill="#76c500"/>
<circle cx="151.40" cy="453.90" r="1.2" fill="#76c500"/>
<circle cx="153.80" cy="452.80" r="1.2" fill="#76c500"/>
<circle cx="154.50" cy="454.20" r="1.2" fill="#76c500"/>
<circle cx="156.60" cy="454.60" r="1.2" fill="#76c500"/>
<circle cx="157.10" cy="446.20" r="1.2" fill="#76c500"/>
<circle cx="159.30" cy="449.90" r="1.2" fill="#76c500"/>
<circle cx="162.10" cy="449.90" r="1.2" fill="#76c500"/>
<circle cx="158.70" cy="457.30" r="1.2" fill="#76c500"/>
<circle cx="161.40" cy="454.60" r="1.2" fill="#76c500"/>
<circle cx="164.20" cy="455.10" r="1.2" fill="#76c500"/>
<circle cx="167.30" cy="455.10" r="1.2" fill="#76c500"/>
<circle cx="168.00" cy="457.70" r="1.2" fill="#76c500"/>
<circle cx="155.90" cy="463.90" r="1.2" fill="#76c500"/>
<circle cx="160.00" cy="463.90" r="1.2" fill="#76c500"/>
<circle cx="162.80" cy="463.90" r="1.2" fill="#76c500"/>
<circle cx="165.90" cy="460.10" r="1.2" fill="#76c500"/>
<circle cx="169.30" cy="442.50" r="1.2" fill="#76c500"/>
<circle cx="170.00" cy="450.30" r="1.2" fill="#76c500"/>
<circle cx="78.60" cy="437.90" r="1.2" fill="#e2231a"/>
<circle cx="68.60" cy="461.80" r="1.2" fill="#e2231a"/>
<circle cx="75.00" cy="463.70" r="1.2" fill="#e2231a"/>
<circle cx="80.70" cy="458.40" r="1.2" fill="#e2231a"/>
<circle cx="90.00" cy="453.90" r="1.2" fill="#e2231a"/>
<circle cx="112.10" cy="446.90" r="1.2" fill="#e2231a"/>
<circle cx="110.00" cy="458.00" r="1.2" fill="#e2231a"/>
<circle cx="109.30" cy="461.10" r="1.2" fill="#e2231a"/>
<circle cx="114.50" cy="458.40" r="1.2" fill="#e2231a"/>
<circle cx="120.70" cy="460.80" r="1.2" fill="#e2231a"/>
<circle cx="123.00" cy="462.80" r="1.2" fill="#e2231a"/>
<circle cx="129.20" cy="463.00" r="1.2" fill="#e2231a"/>
<circle cx="131.40" cy="453.90" r="1.2" fill="#e2231a"/>
<circle cx="135.80" cy="454.90" r="1.2" fill="#e2231a"/>
<circle cx="134.50" cy="462.10" r="1.2" fill="#e2231a"/>
<circle cx="140.10" cy="455.90" r="1.2" fill="#e2231a"/>
<circle cx="144.20" cy="457.90" r="1.2" fill="#e2231a"/>
<circle cx="152.80" cy="456.80" r="1.2" fill="#e2231a"/>
<circle cx="155.10" cy="458.00" r="1.2" fill="#e2231a"/>
<circle cx="158.00" cy="459.40" r="1.2" fill="#e2231a"/>
<circle cx="161.10" cy="456.50" r="1.2" fill="#e2231a"/>
<circle cx="163.60" cy="460.10" r="1.2" fill="#e2231a"/>
<circle cx="165.20" cy="463.50" r="1.2" fill="#e2231a"/>
<circle cx="168.80" cy="460.60" r="1.2" fill="#e2231a"/>
<circle cx="170.90" cy="456.80" r="1.2" fill="#e2231a"/>
<line x1="99.30" y1="408.60" x2="99.30" y2="466.30" stroke="#333" stroke-width="0.75" stroke-dasharray="2.4,5.6" stroke-dashoffset="1.2"/>
<rect x="21.50" y="408.60" width="156.30" height="57.70" fill="none" stroke="#444" stroke-width="0.75"/>
<line x1="19.60" y1="464.10" x2="21.50" y2="464.10" stroke="#444" stroke-width="0.75"/>
<text class="s" x="18.00" y="466.15" font-size="5.8" text-anchor="end" fill="#4d4d4d">0</text>
<line x1="19.60" y1="450.10" x2="21.50" y2="450.10" stroke="#444" stroke-width="0.75"/>
<text class="s" x="18.00" y="452.15" font-size="5.8" text-anchor="end" fill="#4d4d4d">5</text>
<line x1="19.60" y1="436.10" x2="21.50" y2="436.10" stroke="#444" stroke-width="0.75"/>
<text class="s" x="18.00" y="438.15" font-size="5.8" text-anchor="end" fill="#4d4d4d">10</text>
<line x1="19.60" y1="422.10" x2="21.50" y2="422.10" stroke="#444" stroke-width="0.75"/>
<text class="s" x="18.00" y="424.15" font-size="5.8" text-anchor="end" fill="#4d4d4d">15</text>
<line x1="28.00" y1="466.30" x2="28.00" y2="468.20" stroke="#444" stroke-width="0.75"/>
<text class="s" x="28.00" y="473.70" font-size="5.8" text-anchor="middle" fill="#4d4d4d">0</text>
<line x1="63.65" y1="466.30" x2="63.65" y2="468.20" stroke="#444" stroke-width="0.75"/>
<text class="s" x="63.65" y="473.70" font-size="5.8" text-anchor="middle" fill="#4d4d4d">50</text>
<line x1="99.30" y1="466.30" x2="99.30" y2="468.20" stroke="#444" stroke-width="0.75"/>
<text class="s" x="99.30" y="473.70" font-size="5.8" text-anchor="middle" fill="#4d4d4d">100</text>
<line x1="134.95" y1="466.30" x2="134.95" y2="468.20" stroke="#444" stroke-width="0.75"/>
<text class="s" x="134.95" y="473.70" font-size="5.8" text-anchor="middle" fill="#4d4d4d">150</text>
<line x1="170.60" y1="466.30" x2="170.60" y2="468.20" stroke="#444" stroke-width="0.75"/>
<text class="s" x="170.60" y="473.70" font-size="5.8" text-anchor="middle" fill="#4d4d4d">200</text>
<text class="s" x="99.65" y="482.60" font-size="7.7" text-anchor="middle">Patient ID(increasing risk score)</text>
<text class="s" x="7.90" y="436.95" font-size="7.9" text-anchor="middle" transform="rotate(-90 7.90 436.95)">Survival time(year)</text>
<text class="s" x="189.60" y="432.00" font-size="7.7">OS</text>
<circle cx="193.00" cy="440.40" r="1.15" fill="#76c500"/>
<circle cx="193.00" cy="446.60" r="1.15" fill="#e2231a"/>
<text class="s" x="200.20" y="442.60" font-size="6.2" fill="#222">Alive</text>
<text class="s" x="200.20" y="448.90" font-size="6.2" fill="#222">Dead</text>
<text class="r" font-size="27.0" stroke="#fff" stroke-width="0.45" transform="translate(235.42 387.60) scale(1.1321 0.9898)">H</text>
<rect x="258.60" y="408.90" width="154.30" height="57.60" fill="#fff" stroke="none" stroke-width="1"/>
<line x1="258.60" y1="456.41" x2="412.90" y2="456.41" stroke="#f2f2f2" stroke-width="0.5"/>
<line x1="258.60" y1="441.44" x2="412.90" y2="441.44" stroke="#f2f2f2" stroke-width="0.5"/>
<line x1="258.60" y1="426.46" x2="412.90" y2="426.46" stroke="#f2f2f2" stroke-width="0.5"/>
<line x1="258.60" y1="411.49" x2="412.90" y2="411.49" stroke="#f2f2f2" stroke-width="0.5"/>
<line x1="282.56" y1="408.90" x2="282.56" y2="466.50" stroke="#f2f2f2" stroke-width="0.5"/>
<line x1="318.09" y1="408.90" x2="318.09" y2="466.50" stroke="#f2f2f2" stroke-width="0.5"/>
<line x1="353.61" y1="408.90" x2="353.61" y2="466.50" stroke="#f2f2f2" stroke-width="0.5"/>
<line x1="389.14" y1="408.90" x2="389.14" y2="466.50" stroke="#f2f2f2" stroke-width="0.5"/>
<line x1="258.60" y1="463.90" x2="412.90" y2="463.90" stroke="#e8e8e8" stroke-width="0.75"/>
<line x1="258.60" y1="448.92" x2="412.90" y2="448.92" stroke="#e8e8e8" stroke-width="0.75"/>
<line x1="258.60" y1="433.95" x2="412.90" y2="433.95" stroke="#e8e8e8" stroke-width="0.75"/>
<line x1="258.60" y1="418.97" x2="412.90" y2="418.97" stroke="#e8e8e8" stroke-width="0.75"/>
<line x1="264.80" y1="408.90" x2="264.80" y2="466.50" stroke="#e8e8e8" stroke-width="0.75"/>
<line x1="300.32" y1="408.90" x2="300.32" y2="466.50" stroke="#e8e8e8" stroke-width="0.75"/>
<line x1="335.85" y1="408.90" x2="335.85" y2="466.50" stroke="#e8e8e8" stroke-width="0.75"/>
<line x1="371.38" y1="408.90" x2="371.38" y2="466.50" stroke="#e8e8e8" stroke-width="0.75"/>
<line x1="406.90" y1="408.90" x2="406.90" y2="466.50" stroke="#e8e8e8" stroke-width="0.75"/>
<circle cx="285.40" cy="411.50" r="1.2" fill="#76c500"/>
<circle cx="280.40" cy="415.50" r="1.2" fill="#76c500"/>
<circle cx="284.00" cy="420.00" r="1.2" fill="#76c500"/>
<circle cx="284.80" cy="423.90" r="1.2" fill="#76c500"/>
<circle cx="281.80" cy="425.10" r="1.2" fill="#76c500"/>
<circle cx="290.20" cy="425.00" r="1.2" fill="#76c500"/>
<circle cx="292.40" cy="427.20" r="1.2" fill="#76c500"/>
<circle cx="296.90" cy="423.90" r="1.2" fill="#76c500"/>
<circle cx="279.00" cy="428.40" r="1.2" fill="#76c500"/>
<circle cx="288.20" cy="428.60" r="1.2" fill="#76c500"/>
<circle cx="281.10" cy="432.00" r="1.2" fill="#76c500"/>
<circle cx="267.00" cy="429.80" r="1.2" fill="#76c500"/>
<circle cx="265.60" cy="432.40" r="1.2" fill="#76c500"/>
<circle cx="273.80" cy="433.90" r="1.2" fill="#76c500"/>
<circle cx="276.00" cy="434.50" r="1.2" fill="#76c500"/>
<circle cx="279.70" cy="436.10" r="1.2" fill="#76c500"/>
<circle cx="295.20" cy="433.20" r="1.2" fill="#76c500"/>
<circle cx="289.70" cy="438.70" r="1.2" fill="#76c500"/>
<circle cx="291.70" cy="438.40" r="1.2" fill="#76c500"/>
<circle cx="269.00" cy="440.80" r="1.2" fill="#76c500"/>
<circle cx="285.90" cy="444.10" r="1.2" fill="#76c500"/>
<circle cx="274.90" cy="446.20" r="1.2" fill="#76c500"/>
<circle cx="276.90" cy="446.20" r="1.2" fill="#76c500"/>
<circle cx="293.10" cy="444.90" r="1.2" fill="#76c500"/>
<circle cx="294.80" cy="445.60" r="1.2" fill="#76c500"/>
<circle cx="275.20" cy="452.00" r="1.2" fill="#76c500"/>
<circle cx="278.30" cy="452.00" r="1.2" fill="#76c500"/>
<circle cx="293.80" cy="450.80" r="1.2" fill="#76c500"/>
<circle cx="296.20" cy="450.60" r="1.2" fill="#76c500"/>
<circle cx="265.90" cy="454.20" r="1.2" fill="#76c500"/>
<circle cx="268.30" cy="455.40" r="1.2" fill="#76c500"/>
<circle cx="271.40" cy="456.80" r="1.2" fill="#76c500"/>
<circle cx="273.50" cy="457.00" r="1.2" fill="#76c500"/>
<circle cx="277.60" cy="456.10" r="1.2" fill="#76c500"/>
<circle cx="287.50" cy="454.90" r="1.2" fill="#76c500"/>
<circle cx="282.40" cy="458.40" r="1.2" fill="#76c500"/>
<circle cx="269.70" cy="461.60" r="1.2" fill="#76c500"/>
<circle cx="267.60" cy="463.40" r="1.2" fill="#76c500"/>
<circle cx="272.50" cy="463.20" r="1.2" fill="#76c500"/>
<circle cx="289.00" cy="462.10" r="1.2" fill="#76c500"/>
<circle cx="297.20" cy="460.90" r="1.2" fill="#76c500"/>
<circle cx="297.30" cy="423.90" r="1.2" fill="#76c500"/>
<circle cx="299.80" cy="422.20" r="1.2" fill="#76c500"/>
<circle cx="303.90" cy="423.50" r="1.2" fill="#76c500"/>
<circle cx="328.70" cy="424.40" r="1.2" fill="#76c500"/>
<circle cx="335.60" cy="425.30" r="1.2" fill="#76c500"/>
<circle cx="321.60" cy="428.40" r="1.2" fill="#76c500"/>
<circle cx="332.10" cy="432.40" r="1.2" fill="#76c500"/>
<circle cx="298.90" cy="435.20" r="1.2" fill="#76c500"/>
<circle cx="305.30" cy="433.80" r="1.2" fill="#76c500"/>
<circle cx="309.40" cy="436.50" r="1.2" fill="#76c500"/>
<circle cx="313.00" cy="435.80" r="1.2" fill="#76c500"/>
<circle cx="317.30" cy="433.10" r="1.2" fill="#76c500"/>
<circle cx="320.10" cy="435.60" r="1.2" fill="#76c500"/>
<circle cx="323.70" cy="434.70" r="1.2" fill="#76c500"/>
<circle cx="316.60" cy="438.40" r="1.2" fill="#76c500"/>
<circle cx="325.10" cy="439.40" r="1.2" fill="#76c500"/>
<circle cx="330.00" cy="440.00" r="1.2" fill="#76c500"/>
<circle cx="336.20" cy="441.80" r="1.2" fill="#76c500"/>
<circle cx="303.10" cy="446.90" r="1.2" fill="#76c500"/>
<circle cx="306.60" cy="447.10" r="1.2" fill="#76c500"/>
<circle cx="307.30" cy="449.90" r="1.2" fill="#76c500"/>
<circle cx="310.10" cy="448.90" r="1.2" fill="#76c500"/>
<circle cx="314.60" cy="450.30" r="1.2" fill="#76c500"/>
<circle cx="318.00" cy="446.30" r="1.2" fill="#76c500"/>
<circle cx="318.90" cy="445.80" r="1.2" fill="#76c500"/>
<circle cx="323.00" cy="446.30" r="1.2" fill="#76c500"/>
<circle cx="324.40" cy="445.10" r="1.2" fill="#76c500"/>
<circle cx="322.10" cy="450.80" r="1.2" fill="#76c500"/>
<circle cx="327.20" cy="448.90" r="1.2" fill="#76c500"/>
<circle cx="330.70" cy="449.40" r="1.2" fill="#76c500"/>
<circle cx="331.40" cy="445.80" r="1.2" fill="#76c500"/>
<circle cx="332.90" cy="448.00" r="1.2" fill="#76c500"/>
<circle cx="329.20" cy="452.20" r="1.2" fill="#76c500"/>
<circle cx="298.00" cy="451.80" r="1.2" fill="#76c500"/>
<circle cx="304.60" cy="454.20" r="1.2" fill="#76c500"/>
<circle cx="301.00" cy="455.90" r="1.2" fill="#76c500"/>
<circle cx="308.80" cy="454.20" r="1.2" fill="#76c500"/>
<circle cx="311.70" cy="453.90" r="1.2" fill="#76c500"/>
<circle cx="313.70" cy="455.60" r="1.2" fill="#76c500"/>
<circle cx="312.10" cy="457.20" r="1.2" fill="#76c500"/>
<circle cx="315.60" cy="457.00" r="1.2" fill="#76c500"/>
<circle cx="319.60" cy="455.80" r="1.2" fill="#76c500"/>
<circle cx="321.00" cy="455.80" r="1.2" fill="#76c500"/>
<circle cx="325.80" cy="454.20" r="1.2" fill="#76c500"/>
<circle cx="328.00" cy="455.90" r="1.2" fill="#76c500"/>
<circle cx="335.60" cy="457.00" r="1.2" fill="#76c500"/>
<circle cx="300.10" cy="458.80" r="1.2" fill="#76c500"/>
<circle cx="297.60" cy="461.10" r="1.2" fill="#76c500"/>
<circle cx="308.00" cy="460.40" r="1.2" fill="#76c500"/>
<circle cx="301.70" cy="463.40" r="1.2" fill="#76c500"/>
<circle cx="306.00" cy="463.40" r="1.2" fill="#76c500"/>
<circle cx="326.50" cy="463.90" r="1.2" fill="#76c500"/>
<circle cx="353.60" cy="413.80" r="1.2" fill="#76c500"/>
<circle cx="351.30" cy="416.00" r="1.2" fill="#76c500"/>
<circle cx="343.60" cy="421.20" r="1.2" fill="#76c500"/>
<circle cx="356.10" cy="420.70" r="1.2" fill="#76c500"/>
<circle cx="364.90" cy="421.20" r="1.2" fill="#76c500"/>
<circle cx="367.00" cy="422.60" r="1.2" fill="#76c500"/>
<circle cx="336.30" cy="425.30" r="1.2" fill="#76c500"/>
<circle cx="341.40" cy="427.60" r="1.2" fill="#76c500"/>
<circle cx="342.10" cy="431.00" r="1.2" fill="#76c500"/>
<circle cx="348.40" cy="434.30" r="1.2" fill="#76c500"/>
<circle cx="369.70" cy="433.20" r="1.2" fill="#76c500"/>
<circle cx="370.40" cy="432.40" r="1.2" fill="#76c500"/>
<circle cx="359.10" cy="438.60" r="1.2" fill="#76c500"/>
<circle cx="355.60" cy="440.10" r="1.2" fill="#76c500"/>
<circle cx="337.00" cy="441.80" r="1.2" fill="#76c500"/>
<circle cx="374.60" cy="439.80" r="1.2" fill="#76c500"/>
<circle cx="363.40" cy="444.10" r="1.2" fill="#76c500"/>
<circle cx="345.00" cy="446.40" r="1.2" fill="#76c500"/>
<circle cx="337.90" cy="448.90" r="1.2" fill="#76c500"/>
<circle cx="354.90" cy="447.80" r="1.2" fill="#76c500"/>
<circle cx="373.20" cy="446.40" r="1.2" fill="#76c500"/>
<circle cx="371.80" cy="448.50" r="1.2" fill="#76c500"/>
<circle cx="375.20" cy="449.80" r="1.2" fill="#76c500"/>
<circle cx="359.80" cy="450.40" r="1.2" fill="#76c500"/>
<circle cx="357.00" cy="452.40" r="1.2" fill="#76c500"/>
<circle cx="360.60" cy="453.70" r="1.2" fill="#76c500"/>
<circle cx="346.00" cy="452.00" r="1.2" fill="#76c500"/>
<circle cx="343.90" cy="453.90" r="1.2" fill="#76c500"/>
<circle cx="342.50" cy="454.90" r="1.2" fill="#76c500"/>
<circle cx="340.80" cy="455.10" r="1.2" fill="#76c500"/>
<circle cx="338.80" cy="456.60" r="1.2" fill="#76c500"/>
<circle cx="336.30" cy="456.80" r="1.2" fill="#76c500"/>
<circle cx="350.60" cy="454.60" r="1.2" fill="#76c500"/>
<circle cx="352.90" cy="453.50" r="1.2" fill="#76c500"/>
<circle cx="354.20" cy="452.80" r="1.2" fill="#76c500"/>
<circle cx="357.90" cy="456.60" r="1.2" fill="#76c500"/>
<circle cx="358.40" cy="457.70" r="1.2" fill="#76c500"/>
<circle cx="362.00" cy="457.70" r="1.2" fill="#76c500"/>
<circle cx="363.90" cy="455.10" r="1.2" fill="#76c500"/>
<circle cx="365.60" cy="455.80" r="1.2" fill="#76c500"/>
<circle cx="366.60" cy="454.20" r="1.2" fill="#76c500"/>
<circle cx="368.00" cy="454.20" r="1.2" fill="#76c500"/>
<circle cx="371.10" cy="457.70" r="1.2" fill="#76c500"/>
<circle cx="340.00" cy="463.90" r="1.2" fill="#76c500"/>
<circle cx="347.80" cy="462.00" r="1.2" fill="#76c500"/>
<circle cx="352.00" cy="463.20" r="1.2" fill="#76c500"/>
<circle cx="361.10" cy="464.10" r="1.2" fill="#76c500"/>
<circle cx="363.20" cy="464.10" r="1.2" fill="#76c500"/>
<circle cx="372.80" cy="461.80" r="1.2" fill="#76c500"/>
<circle cx="390.30" cy="417.40" r="1.2" fill="#76c500"/>
<circle cx="386.00" cy="423.50" r="1.2" fill="#76c500"/>
<circle cx="381.90" cy="425.50" r="1.2" fill="#76c500"/>
<circle cx="377.60" cy="427.00" r="1.2" fill="#76c500"/>
<circle cx="388.90" cy="430.30" r="1.2" fill="#76c500"/>
<circle cx="386.80" cy="433.20" r="1.2" fill="#76c500"/>
<circle cx="379.70" cy="435.30" r="1.2" fill="#76c500"/>
<circle cx="384.80" cy="437.00" r="1.2" fill="#76c500"/>
<circle cx="375.30" cy="440.00" r="1.2" fill="#76c500"/>
<circle cx="396.90" cy="440.80" r="1.2" fill="#76c500"/>
<circle cx="378.10" cy="447.50" r="1.2" fill="#76c500"/>
<circle cx="383.10" cy="447.00" r="1.2" fill="#76c500"/>
<circle cx="375.70" cy="449.80" r="1.2" fill="#76c500"/>
<circle cx="384.00" cy="450.30" r="1.2" fill="#76c500"/>
<circle cx="395.10" cy="446.90" r="1.2" fill="#76c500"/>
<circle cx="397.40" cy="446.70" r="1.2" fill="#76c500"/>
<circle cx="379.10" cy="452.60" r="1.2" fill="#76c500"/>
<circle cx="387.40" cy="452.80" r="1.2" fill="#76c500"/>
<circle cx="388.10" cy="454.00" r="1.2" fill="#76c500"/>
<circle cx="376.70" cy="455.90" r="1.2" fill="#76c500"/>
<circle cx="376.00" cy="456.80" r="1.2" fill="#76c500"/>
<circle cx="389.80" cy="455.90" r="1.2" fill="#76c500"/>
<circle cx="391.50" cy="456.10" r="1.2" fill="#76c500"/>
<circle cx="392.60" cy="457.00" r="1.2" fill="#76c500"/>
<circle cx="393.20" cy="454.00" r="1.2" fill="#76c500"/>
<circle cx="394.30" cy="454.70" r="1.2" fill="#76c500"/>
<circle cx="380.20" cy="458.40" r="1.2" fill="#76c500"/>
<circle cx="385.50" cy="459.00" r="1.2" fill="#76c500"/>
<circle cx="398.10" cy="459.00" r="1.2" fill="#76c500"/>
<circle cx="402.20" cy="454.60" r="1.2" fill="#76c500"/>
<circle cx="402.90" cy="456.60" r="1.2" fill="#76c500"/>
<circle cx="391.90" cy="460.80" r="1.2" fill="#76c500"/>
<circle cx="394.60" cy="464.10" r="1.2" fill="#76c500"/>
<circle cx="396.00" cy="464.10" r="1.2" fill="#76c500"/>
<circle cx="400.80" cy="463.90" r="1.2" fill="#76c500"/>
<circle cx="270.40" cy="458.60" r="1.2" fill="#e2231a"/>
<circle cx="286.80" cy="447.30" r="1.2" fill="#e2231a"/>
<circle cx="283.10" cy="460.10" r="1.2" fill="#e2231a"/>
<circle cx="302.40" cy="433.60" r="1.2" fill="#e2231a"/>
<circle cx="311.00" cy="440.70" r="1.2" fill="#e2231a"/>
<circle cx="334.20" cy="449.80" r="1.2" fill="#e2231a"/>
<circle cx="333.50" cy="452.40" r="1.2" fill="#e2231a"/>
<circle cx="347.00" cy="445.60" r="1.2" fill="#e2231a"/>
<circle cx="349.90" cy="446.90" r="1.2" fill="#e2231a"/>
<circle cx="346.30" cy="448.70" r="1.2" fill="#e2231a"/>
<circle cx="338.90" cy="454.90" r="1.2" fill="#e2231a"/>
<circle cx="368.20" cy="456.60" r="1.2" fill="#e2231a"/>
<circle cx="369.00" cy="459.00" r="1.2" fill="#e2231a"/>
<circle cx="373.90" cy="457.30" r="1.2" fill="#e2231a"/>
<circle cx="382.60" cy="458.40" r="1.2" fill="#e2231a"/>
<circle cx="381.10" cy="461.10" r="1.2" fill="#e2231a"/>
<circle cx="399.00" cy="448.50" r="1.2" fill="#e2231a"/>
<circle cx="400.30" cy="451.70" r="1.2" fill="#e2231a"/>
<circle cx="405.30" cy="448.50" r="1.2" fill="#e2231a"/>
<circle cx="406.00" cy="452.50" r="1.2" fill="#e2231a"/>
<circle cx="399.60" cy="457.00" r="1.2" fill="#e2231a"/>
<circle cx="403.90" cy="459.40" r="1.2" fill="#e2231a"/>
<circle cx="401.80" cy="462.00" r="1.2" fill="#e2231a"/>
<circle cx="404.60" cy="462.00" r="1.2" fill="#e2231a"/>
<line x1="335.85" y1="408.90" x2="335.85" y2="466.50" stroke="#222" stroke-width="0.75" stroke-dasharray="2.4,5.6" stroke-dashoffset="1.2"/>
<rect x="258.60" y="408.90" width="154.30" height="57.60" fill="none" stroke="#444" stroke-width="0.75"/>
<line x1="256.70" y1="463.90" x2="258.60" y2="463.90" stroke="#444" stroke-width="0.75"/>
<text class="s" x="255.10" y="465.95" font-size="5.8" text-anchor="end" fill="#4d4d4d">0.0</text>
<line x1="256.70" y1="448.92" x2="258.60" y2="448.92" stroke="#444" stroke-width="0.75"/>
<text class="s" x="255.10" y="450.97" font-size="5.8" text-anchor="end" fill="#4d4d4d">2.5</text>
<line x1="256.70" y1="433.95" x2="258.60" y2="433.95" stroke="#444" stroke-width="0.75"/>
<text class="s" x="255.10" y="436.00" font-size="5.8" text-anchor="end" fill="#4d4d4d">5.0</text>
<line x1="256.70" y1="418.97" x2="258.60" y2="418.97" stroke="#444" stroke-width="0.75"/>
<text class="s" x="255.10" y="421.02" font-size="5.8" text-anchor="end" fill="#4d4d4d">7.5</text>
<line x1="264.80" y1="466.50" x2="264.80" y2="468.40" stroke="#444" stroke-width="0.75"/>
<text class="s" x="264.80" y="473.90" font-size="5.8" text-anchor="middle" fill="#4d4d4d">0</text>
<line x1="300.32" y1="466.50" x2="300.32" y2="468.40" stroke="#444" stroke-width="0.75"/>
<text class="s" x="300.32" y="473.90" font-size="5.8" text-anchor="middle" fill="#4d4d4d">50</text>
<line x1="335.85" y1="466.50" x2="335.85" y2="468.40" stroke="#444" stroke-width="0.75"/>
<text class="s" x="335.85" y="473.90" font-size="5.8" text-anchor="middle" fill="#4d4d4d">100</text>
<line x1="371.38" y1="466.50" x2="371.38" y2="468.40" stroke="#444" stroke-width="0.75"/>
<text class="s" x="371.38" y="473.90" font-size="5.8" text-anchor="middle" fill="#4d4d4d">150</text>
<line x1="406.90" y1="466.50" x2="406.90" y2="468.40" stroke="#444" stroke-width="0.75"/>
<text class="s" x="406.90" y="473.90" font-size="5.8" text-anchor="middle" fill="#4d4d4d">200</text>
<text class="s" x="335.75" y="482.60" font-size="7.7" text-anchor="middle">Patient ID(increasing risk score)</text>
<text class="s" x="243.35" y="437.20" font-size="7.9" text-anchor="middle" transform="rotate(-90 243.35 437.20)">Survival time(year)</text>
<text class="s" x="424.90" y="432.00" font-size="7.7">OS</text>
<circle cx="428.30" cy="440.40" r="1.15" fill="#76c500"/>
<circle cx="428.30" cy="446.60" r="1.15" fill="#e2231a"/>
<text class="s" x="435.50" y="442.60" font-size="6.2" fill="#222">Alive</text>
<text class="s" x="435.50" y="448.90" font-size="6.2" fill="#222">Dead</text>
<text class="r" font-size="27.0" stroke="#fff" stroke-width="0.45" transform="translate(462.16 388.00) scale(0.9620 1.0125)">I</text>
<rect x="491.90" y="408.90" width="156.60" height="57.60" fill="#fff" stroke="none" stroke-width="1"/>
<line x1="491.90" y1="457.00" x2="648.50" y2="457.00" stroke="#f2f2f2" stroke-width="0.5"/>
<line x1="491.90" y1="443.20" x2="648.50" y2="443.20" stroke="#f2f2f2" stroke-width="0.5"/>
<line x1="491.90" y1="429.40" x2="648.50" y2="429.40" stroke="#f2f2f2" stroke-width="0.5"/>
<line x1="491.90" y1="415.60" x2="648.50" y2="415.60" stroke="#f2f2f2" stroke-width="0.5"/>
<line x1="516.43" y1="408.90" x2="516.43" y2="466.50" stroke="#f2f2f2" stroke-width="0.5"/>
<line x1="552.08" y1="408.90" x2="552.08" y2="466.50" stroke="#f2f2f2" stroke-width="0.5"/>
<line x1="587.73" y1="408.90" x2="587.73" y2="466.50" stroke="#f2f2f2" stroke-width="0.5"/>
<line x1="623.38" y1="408.90" x2="623.38" y2="466.50" stroke="#f2f2f2" stroke-width="0.5"/>
<line x1="491.90" y1="463.90" x2="648.50" y2="463.90" stroke="#e8e8e8" stroke-width="0.75"/>
<line x1="491.90" y1="450.10" x2="648.50" y2="450.10" stroke="#e8e8e8" stroke-width="0.75"/>
<line x1="491.90" y1="436.30" x2="648.50" y2="436.30" stroke="#e8e8e8" stroke-width="0.75"/>
<line x1="491.90" y1="422.50" x2="648.50" y2="422.50" stroke="#e8e8e8" stroke-width="0.75"/>
<line x1="498.60" y1="408.90" x2="498.60" y2="466.50" stroke="#e8e8e8" stroke-width="0.75"/>
<line x1="534.25" y1="408.90" x2="534.25" y2="466.50" stroke="#e8e8e8" stroke-width="0.75"/>
<line x1="569.90" y1="408.90" x2="569.90" y2="466.50" stroke="#e8e8e8" stroke-width="0.75"/>
<line x1="605.55" y1="408.90" x2="605.55" y2="466.50" stroke="#e8e8e8" stroke-width="0.75"/>
<line x1="641.20" y1="408.90" x2="641.20" y2="466.50" stroke="#e8e8e8" stroke-width="0.75"/>
<circle cx="561.65" cy="450.82" r="1.2" fill="#76c500"/>
<circle cx="544.04" cy="453.41" r="1.2" fill="#76c500"/>
<circle cx="562.25" cy="453.11" r="1.2" fill="#76c500"/>
<circle cx="561.86" cy="460.56" r="1.2" fill="#76c500"/>
<circle cx="536.10" cy="461.91" r="1.2" fill="#76c500"/>
<circle cx="569.15" cy="456.48" r="1.2" fill="#76c500"/>
<circle cx="565.26" cy="452.51" r="1.2" fill="#76c500"/>
<circle cx="544.78" cy="448.55" r="1.2" fill="#76c500"/>
<circle cx="538.23" cy="455.70" r="1.2" fill="#76c500"/>
<circle cx="546.32" cy="454.67" r="1.2" fill="#76c500"/>
<circle cx="534.39" cy="460.87" r="1.2" fill="#76c500"/>
<circle cx="539.05" cy="457.47" r="1.2" fill="#76c500"/>
<circle cx="562.22" cy="458.37" r="1.2" fill="#76c500"/>
<circle cx="569.00" cy="457.67" r="1.2" fill="#76c500"/>
<circle cx="534.24" cy="449.36" r="1.2" fill="#76c500"/>
<circle cx="560.89" cy="454.37" r="1.2" fill="#76c500"/>
<circle cx="533.77" cy="462.19" r="1.2" fill="#76c500"/>
<circle cx="561.01" cy="462.80" r="1.2" fill="#76c500"/>
<circle cx="550.11" cy="449.01" r="1.2" fill="#76c500"/>
<circle cx="562.89" cy="457.98" r="1.2" fill="#76c500"/>
<circle cx="564.64" cy="459.81" r="1.2" fill="#76c500"/>
<circle cx="535.57" cy="458.47" r="1.2" fill="#76c500"/>
<circle cx="547.84" cy="463.61" r="1.2" fill="#76c500"/>
<circle cx="560.53" cy="461.29" r="1.2" fill="#76c500"/>
<circle cx="560.55" cy="463.45" r="1.2" fill="#76c500"/>
<circle cx="561.63" cy="455.28" r="1.2" fill="#76c500"/>
<circle cx="540.45" cy="462.09" r="1.2" fill="#76c500"/>
<circle cx="552.62" cy="455.47" r="1.2" fill="#76c500"/>
<circle cx="549.21" cy="456.02" r="1.2" fill="#76c500"/>
<circle cx="564.73" cy="463.63" r="1.2" fill="#76c500"/>
<circle cx="562.14" cy="451.51" r="1.2" fill="#76c500"/>
<circle cx="542.78" cy="463.63" r="1.2" fill="#76c500"/>
<circle cx="564.21" cy="447.87" r="1.2" fill="#76c500"/>
<circle cx="546.22" cy="453.25" r="1.2" fill="#76c500"/>
<circle cx="548.90" cy="459.01" r="1.2" fill="#76c500"/>
<circle cx="533.56" cy="454.79" r="1.2" fill="#76c500"/>
<circle cx="543.26" cy="463.99" r="1.2" fill="#76c500"/>
<circle cx="534.03" cy="460.02" r="1.2" fill="#76c500"/>
<circle cx="563.47" cy="447.65" r="1.2" fill="#76c500"/>
<circle cx="532.08" cy="458.48" r="1.2" fill="#76c500"/>
<circle cx="537.03" cy="453.16" r="1.2" fill="#76c500"/>
<circle cx="531.81" cy="461.50" r="1.2" fill="#76c500"/>
<circle cx="555.94" cy="464.20" r="1.2" fill="#76c500"/>
<circle cx="535.95" cy="462.73" r="1.2" fill="#76c500"/>
<circle cx="551.12" cy="460.44" r="1.2" fill="#76c500"/>
<circle cx="537.22" cy="457.33" r="1.2" fill="#76c500"/>
<circle cx="562.69" cy="457.57" r="1.2" fill="#76c500"/>
<circle cx="557.90" cy="447.88" r="1.2" fill="#76c500"/>
<circle cx="556.85" cy="450.32" r="1.2" fill="#76c500"/>
<circle cx="565.20" cy="462.29" r="1.2" fill="#76c500"/>
<circle cx="535.88" cy="458.58" r="1.2" fill="#76c500"/>
<circle cx="562.50" cy="460.73" r="1.2" fill="#76c500"/>
<circle cx="553.20" cy="455.79" r="1.2" fill="#76c500"/>
<circle cx="553.27" cy="455.30" r="1.2" fill="#76c500"/>
<circle cx="564.19" cy="461.75" r="1.2" fill="#76c500"/>
<circle cx="565.88" cy="458.89" r="1.2" fill="#76c500"/>
<circle cx="552.59" cy="450.53" r="1.2" fill="#76c500"/>
<circle cx="565.53" cy="461.59" r="1.2" fill="#76c500"/>
<circle cx="569.35" cy="450.67" r="1.2" fill="#76c500"/>
<circle cx="554.00" cy="453.78" r="1.2" fill="#76c500"/>
<circle cx="559.60" cy="461.88" r="1.2" fill="#76c500"/>
<circle cx="532.94" cy="457.79" r="1.2" fill="#76c500"/>
<circle cx="566.48" cy="458.77" r="1.2" fill="#76c500"/>
<circle cx="546.87" cy="459.93" r="1.2" fill="#76c500"/>
<circle cx="561.73" cy="456.92" r="1.2" fill="#76c500"/>
<circle cx="549.62" cy="460.89" r="1.2" fill="#76c500"/>
<circle cx="533.16" cy="449.69" r="1.2" fill="#76c500"/>
<circle cx="546.23" cy="453.65" r="1.2" fill="#76c500"/>
<circle cx="543.76" cy="457.59" r="1.2" fill="#76c500"/>
<circle cx="558.54" cy="450.29" r="1.2" fill="#76c500"/>
<circle cx="550.62" cy="456.44" r="1.2" fill="#76c500"/>
<circle cx="567.87" cy="459.41" r="1.2" fill="#76c500"/>
<circle cx="560.93" cy="460.70" r="1.2" fill="#76c500"/>
<circle cx="553.47" cy="462.18" r="1.2" fill="#76c500"/>
<circle cx="558.81" cy="456.50" r="1.2" fill="#76c500"/>
<circle cx="553.21" cy="456.82" r="1.2" fill="#76c500"/>
<circle cx="546.14" cy="463.89" r="1.2" fill="#76c500"/>
<circle cx="534.95" cy="455.86" r="1.2" fill="#76c500"/>
<circle cx="582.48" cy="460.76" r="1.2" fill="#76c500"/>
<circle cx="574.15" cy="452.32" r="1.2" fill="#76c500"/>
<circle cx="570.18" cy="455.36" r="1.2" fill="#76c500"/>
<circle cx="586.23" cy="446.67" r="1.2" fill="#76c500"/>
<circle cx="589.43" cy="462.49" r="1.2" fill="#76c500"/>
<circle cx="573.35" cy="454.34" r="1.2" fill="#76c500"/>
<circle cx="586.17" cy="453.07" r="1.2" fill="#76c500"/>
<circle cx="599.11" cy="461.05" r="1.2" fill="#76c500"/>
<circle cx="588.52" cy="459.95" r="1.2" fill="#76c500"/>
<circle cx="574.20" cy="462.23" r="1.2" fill="#76c500"/>
<circle cx="577.68" cy="455.36" r="1.2" fill="#76c500"/>
<circle cx="608.98" cy="460.72" r="1.2" fill="#76c500"/>
<circle cx="573.57" cy="453.39" r="1.2" fill="#76c500"/>
<circle cx="597.75" cy="455.10" r="1.2" fill="#76c500"/>
<circle cx="584.80" cy="451.18" r="1.2" fill="#76c500"/>
<circle cx="572.86" cy="464.14" r="1.2" fill="#76c500"/>
<circle cx="573.55" cy="461.06" r="1.2" fill="#76c500"/>
<circle cx="570.81" cy="459.11" r="1.2" fill="#76c500"/>
<circle cx="581.83" cy="446.75" r="1.2" fill="#76c500"/>
<circle cx="583.76" cy="455.89" r="1.2" fill="#76c500"/>
<circle cx="579.17" cy="462.52" r="1.2" fill="#76c500"/>
<circle cx="584.37" cy="455.38" r="1.2" fill="#76c500"/>
<circle cx="607.45" cy="459.19" r="1.2" fill="#76c500"/>
<circle cx="573.50" cy="462.61" r="1.2" fill="#76c500"/>
<circle cx="586.47" cy="449.18" r="1.2" fill="#76c500"/>
<circle cx="592.66" cy="462.15" r="1.2" fill="#76c500"/>
<circle cx="607.35" cy="452.44" r="1.2" fill="#76c500"/>
<circle cx="596.96" cy="451.75" r="1.2" fill="#76c500"/>
<circle cx="586.63" cy="463.75" r="1.2" fill="#76c500"/>
<circle cx="582.78" cy="456.99" r="1.2" fill="#76c500"/>
<circle cx="595.85" cy="463.66" r="1.2" fill="#76c500"/>
<circle cx="583.90" cy="453.19" r="1.2" fill="#76c500"/>
<circle cx="599.33" cy="458.61" r="1.2" fill="#76c500"/>
<circle cx="570.44" cy="452.51" r="1.2" fill="#76c500"/>
<circle cx="594.54" cy="451.28" r="1.2" fill="#76c500"/>
<circle cx="603.37" cy="457.12" r="1.2" fill="#76c500"/>
<circle cx="602.29" cy="447.48" r="1.2" fill="#76c500"/>
<circle cx="573.56" cy="458.75" r="1.2" fill="#76c500"/>
<circle cx="577.41" cy="460.54" r="1.2" fill="#76c500"/>
<circle cx="589.90" cy="453.21" r="1.2" fill="#76c500"/>
<circle cx="578.38" cy="455.90" r="1.2" fill="#76c500"/>
<circle cx="594.98" cy="449.30" r="1.2" fill="#76c500"/>
<circle cx="587.01" cy="453.50" r="1.2" fill="#76c500"/>
<circle cx="601.42" cy="463.80" r="1.2" fill="#76c500"/>
<circle cx="581.87" cy="457.26" r="1.2" fill="#76c500"/>
<circle cx="575.98" cy="463.75" r="1.2" fill="#76c500"/>
<circle cx="581.17" cy="456.74" r="1.2" fill="#76c500"/>
<circle cx="573.49" cy="463.12" r="1.2" fill="#76c500"/>
<circle cx="581.45" cy="462.56" r="1.2" fill="#76c500"/>
<circle cx="583.93" cy="462.14" r="1.2" fill="#76c500"/>
<circle cx="604.82" cy="460.10" r="1.2" fill="#76c500"/>
<circle cx="584.10" cy="462.72" r="1.2" fill="#76c500"/>
<circle cx="603.79" cy="462.17" r="1.2" fill="#76c500"/>
<circle cx="606.48" cy="448.22" r="1.2" fill="#76c500"/>
<circle cx="602.13" cy="452.09" r="1.2" fill="#76c500"/>
<circle cx="574.43" cy="453.10" r="1.2" fill="#76c500"/>
<circle cx="571.75" cy="455.95" r="1.2" fill="#76c500"/>
<circle cx="589.67" cy="462.90" r="1.2" fill="#76c500"/>
<circle cx="607.57" cy="454.62" r="1.2" fill="#76c500"/>
<circle cx="577.49" cy="454.66" r="1.2" fill="#76c500"/>
<circle cx="572.43" cy="456.21" r="1.2" fill="#76c500"/>
<circle cx="599.44" cy="458.00" r="1.2" fill="#76c500"/>
<circle cx="576.96" cy="459.60" r="1.2" fill="#76c500"/>
<circle cx="595.09" cy="450.46" r="1.2" fill="#76c500"/>
<circle cx="572.88" cy="453.78" r="1.2" fill="#76c500"/>
<circle cx="601.01" cy="462.05" r="1.2" fill="#76c500"/>
<circle cx="605.78" cy="452.06" r="1.2" fill="#76c500"/>
<circle cx="571.20" cy="452.30" r="1.2" fill="#76c500"/>
<circle cx="570.59" cy="454.45" r="1.2" fill="#76c500"/>
<circle cx="598.22" cy="452.32" r="1.2" fill="#76c500"/>
<circle cx="572.04" cy="459.23" r="1.2" fill="#76c500"/>
<circle cx="576.17" cy="463.24" r="1.2" fill="#76c500"/>
<circle cx="577.45" cy="456.00" r="1.2" fill="#76c500"/>
<circle cx="601.70" cy="457.61" r="1.2" fill="#76c500"/>
<circle cx="587.74" cy="458.19" r="1.2" fill="#76c500"/>
<circle cx="603.52" cy="456.07" r="1.2" fill="#76c500"/>
<circle cx="635.90" cy="448.93" r="1.2" fill="#76c500"/>
<circle cx="625.96" cy="459.74" r="1.2" fill="#76c500"/>
<circle cx="630.14" cy="456.98" r="1.2" fill="#76c500"/>
<circle cx="617.20" cy="450.83" r="1.2" fill="#76c500"/>
<circle cx="623.88" cy="448.65" r="1.2" fill="#76c500"/>
<circle cx="625.91" cy="461.48" r="1.2" fill="#76c500"/>
<circle cx="635.18" cy="457.74" r="1.2" fill="#76c500"/>
<circle cx="635.65" cy="455.52" r="1.2" fill="#76c500"/>
<circle cx="618.04" cy="455.48" r="1.2" fill="#76c500"/>
<circle cx="621.03" cy="456.90" r="1.2" fill="#76c500"/>
<circle cx="611.54" cy="456.30" r="1.2" fill="#76c500"/>
<circle cx="616.67" cy="461.62" r="1.2" fill="#76c500"/>
<circle cx="609.22" cy="456.80" r="1.2" fill="#76c500"/>
<circle cx="614.37" cy="446.94" r="1.2" fill="#76c500"/>
<circle cx="632.96" cy="457.50" r="1.2" fill="#76c500"/>
<circle cx="632.72" cy="456.68" r="1.2" fill="#76c500"/>
<circle cx="612.66" cy="450.44" r="1.2" fill="#76c500"/>
<circle cx="632.68" cy="457.88" r="1.2" fill="#76c500"/>
<circle cx="625.32" cy="463.85" r="1.2" fill="#76c500"/>
<circle cx="626.65" cy="460.55" r="1.2" fill="#76c500"/>
<circle cx="614.68" cy="454.71" r="1.2" fill="#76c500"/>
<circle cx="615.52" cy="456.37" r="1.2" fill="#76c500"/>
<circle cx="614.47" cy="454.58" r="1.2" fill="#76c500"/>
<circle cx="624.53" cy="461.53" r="1.2" fill="#76c500"/>
<circle cx="628.20" cy="450.85" r="1.2" fill="#76c500"/>
<circle cx="621.87" cy="461.84" r="1.2" fill="#76c500"/>
<circle cx="635.18" cy="448.81" r="1.2" fill="#76c500"/>
<circle cx="635.80" cy="448.93" r="1.2" fill="#76c500"/>
<circle cx="629.26" cy="451.94" r="1.2" fill="#76c500"/>
<circle cx="634.10" cy="461.14" r="1.2" fill="#76c500"/>
<circle cx="632.70" cy="462.59" r="1.2" fill="#76c500"/>
<circle cx="628.43" cy="459.89" r="1.2" fill="#76c500"/>
<circle cx="614.94" cy="463.99" r="1.2" fill="#76c500"/>
<circle cx="639.41" cy="451.46" r="1.2" fill="#76c500"/>
<circle cx="626.97" cy="449.85" r="1.2" fill="#76c500"/>
<circle cx="640.53" cy="460.21" r="1.2" fill="#76c500"/>
<circle cx="618.31" cy="460.63" r="1.2" fill="#76c500"/>
<circle cx="611.89" cy="449.12" r="1.2" fill="#76c500"/>
<circle cx="622.04" cy="460.13" r="1.2" fill="#76c500"/>
<circle cx="625.65" cy="453.92" r="1.2" fill="#76c500"/>
<circle cx="621.75" cy="453.47" r="1.2" fill="#76c500"/>
<circle cx="635.88" cy="460.17" r="1.2" fill="#76c500"/>
<circle cx="628.95" cy="456.39" r="1.2" fill="#76c500"/>
<circle cx="631.43" cy="455.15" r="1.2" fill="#76c500"/>
<circle cx="631.36" cy="452.56" r="1.2" fill="#76c500"/>
<circle cx="624.37" cy="455.98" r="1.2" fill="#76c500"/>
<circle cx="636.72" cy="458.48" r="1.2" fill="#76c500"/>
<circle cx="632.50" cy="463.74" r="1.2" fill="#76c500"/>
<circle cx="614.72" cy="456.30" r="1.2" fill="#76c500"/>
<circle cx="624.31" cy="447.73" r="1.2" fill="#76c500"/>
<circle cx="616.70" cy="450.32" r="1.2" fill="#76c500"/>
<circle cx="609.11" cy="452.91" r="1.2" fill="#76c500"/>
<circle cx="621.13" cy="457.95" r="1.2" fill="#76c500"/>
<circle cx="628.55" cy="459.15" r="1.2" fill="#76c500"/>
<circle cx="623.75" cy="458.76" r="1.2" fill="#76c500"/>
<circle cx="617.71" cy="457.66" r="1.2" fill="#76c500"/>
<circle cx="631.28" cy="460.50" r="1.2" fill="#76c500"/>
<circle cx="611.00" cy="451.24" r="1.2" fill="#76c500"/>
<circle cx="619.38" cy="455.42" r="1.2" fill="#76c500"/>
<circle cx="613.28" cy="452.41" r="1.2" fill="#76c500"/>
<circle cx="516.50" cy="432.20" r="1.2" fill="#76c500"/>
<circle cx="503.90" cy="438.40" r="1.2" fill="#76c500"/>
<circle cx="519.80" cy="437.50" r="1.2" fill="#76c500"/>
<circle cx="517.00" cy="439.40" r="1.2" fill="#76c500"/>
<circle cx="512.00" cy="441.10" r="1.2" fill="#76c500"/>
<circle cx="499.10" cy="443.70" r="1.2" fill="#76c500"/>
<circle cx="502.00" cy="444.80" r="1.2" fill="#76c500"/>
<circle cx="505.80" cy="444.60" r="1.2" fill="#76c500"/>
<circle cx="507.20" cy="444.20" r="1.2" fill="#76c500"/>
<circle cx="508.20" cy="443.90" r="1.2" fill="#76c500"/>
<circle cx="515.10" cy="443.20" r="1.2" fill="#76c500"/>
<circle cx="515.90" cy="444.80" r="1.2" fill="#76c500"/>
<circle cx="519.10" cy="442.70" r="1.2" fill="#76c500"/>
<circle cx="521.60" cy="442.50" r="1.2" fill="#76c500"/>
<circle cx="522.50" cy="444.10" r="1.2" fill="#76c500"/>
<circle cx="528.20" cy="444.10" r="1.2" fill="#76c500"/>
<circle cx="512.90" cy="445.80" r="1.2" fill="#76c500"/>
<circle cx="510.80" cy="447.30" r="1.2" fill="#76c500"/>
<circle cx="518.50" cy="447.50" r="1.2" fill="#76c500"/>
<circle cx="520.90" cy="446.20" r="1.2" fill="#76c500"/>
<circle cx="522.30" cy="446.90" r="1.2" fill="#76c500"/>
<circle cx="527.10" cy="446.70" r="1.2" fill="#76c500"/>
<circle cx="498.20" cy="448.90" r="1.2" fill="#76c500"/>
<circle cx="499.60" cy="448.20" r="1.2" fill="#76c500"/>
<circle cx="503.40" cy="448.70" r="1.2" fill="#76c500"/>
<circle cx="505.10" cy="449.60" r="1.2" fill="#76c500"/>
<circle cx="507.20" cy="449.90" r="1.2" fill="#76c500"/>
<circle cx="507.90" cy="448.70" r="1.2" fill="#76c500"/>
<circle cx="511.30" cy="449.10" r="1.2" fill="#76c500"/>
<circle cx="511.70" cy="450.80" r="1.2" fill="#76c500"/>
<circle cx="525.80" cy="449.60" r="1.2" fill="#76c500"/>
<circle cx="527.80" cy="449.90" r="1.2" fill="#76c500"/>
<circle cx="520.30" cy="452.00" r="1.2" fill="#76c500"/>
<circle cx="521.60" cy="452.00" r="1.2" fill="#76c500"/>
<circle cx="524.00" cy="452.00" r="1.2" fill="#76c500"/>
<circle cx="530.20" cy="452.00" r="1.2" fill="#76c500"/>
<circle cx="501.70" cy="453.10" r="1.2" fill="#76c500"/>
<circle cx="501.00" cy="454.40" r="1.2" fill="#76c500"/>
<circle cx="505.80" cy="455.80" r="1.2" fill="#76c500"/>
<circle cx="507.50" cy="456.10" r="1.2" fill="#76c500"/>
<circle cx="508.90" cy="457.00" r="1.2" fill="#76c500"/>
<circle cx="509.90" cy="458.00" r="1.2" fill="#76c500"/>
<circle cx="506.50" cy="458.40" r="1.2" fill="#76c500"/>
<circle cx="515.40" cy="455.60" r="1.2" fill="#76c500"/>
<circle cx="522.70" cy="454.90" r="1.2" fill="#76c500"/>
<circle cx="524.70" cy="455.10" r="1.2" fill="#76c500"/>
<circle cx="523.40" cy="457.30" r="1.2" fill="#76c500"/>
<circle cx="525.40" cy="457.70" r="1.2" fill="#76c500"/>
<circle cx="526.80" cy="458.60" r="1.2" fill="#76c500"/>
<circle cx="528.50" cy="456.80" r="1.2" fill="#76c500"/>
<circle cx="530.20" cy="456.30" r="1.2" fill="#76c500"/>
<circle cx="508.60" cy="459.70" r="1.2" fill="#76c500"/>
<circle cx="510.30" cy="460.10" r="1.2" fill="#76c500"/>
<circle cx="514.80" cy="459.40" r="1.2" fill="#76c500"/>
<circle cx="513.40" cy="460.80" r="1.2" fill="#76c500"/>
<circle cx="518.20" cy="459.70" r="1.2" fill="#76c500"/>
<circle cx="519.90" cy="458.70" r="1.2" fill="#76c500"/>
<circle cx="523.40" cy="460.10" r="1.2" fill="#76c500"/>
<circle cx="524.70" cy="461.50" r="1.2" fill="#76c500"/>
<circle cx="500.00" cy="459.70" r="1.2" fill="#76c500"/>
<circle cx="501.30" cy="460.10" r="1.2" fill="#76c500"/>
<circle cx="504.40" cy="460.90" r="1.2" fill="#76c500"/>
<circle cx="499.60" cy="461.50" r="1.2" fill="#76c500"/>
<circle cx="501.00" cy="463.70" r="1.2" fill="#76c500"/>
<circle cx="504.40" cy="463.90" r="1.2" fill="#76c500"/>
<circle cx="511.70" cy="463.50" r="1.2" fill="#76c500"/>
<circle cx="513.40" cy="463.90" r="1.2" fill="#76c500"/>
<circle cx="516.80" cy="463.90" r="1.2" fill="#76c500"/>
<circle cx="518.90" cy="463.20" r="1.2" fill="#76c500"/>
<circle cx="529.60" cy="462.80" r="1.2" fill="#76c500"/>
<circle cx="536.70" cy="411.50" r="1.2" fill="#76c500"/>
<circle cx="535.00" cy="436.50" r="1.2" fill="#76c500"/>
<circle cx="558.60" cy="437.00" r="1.2" fill="#76c500"/>
<circle cx="565.70" cy="438.70" r="1.2" fill="#76c500"/>
<circle cx="556.30" cy="441.50" r="1.2" fill="#76c500"/>
<circle cx="537.90" cy="443.00" r="1.2" fill="#76c500"/>
<circle cx="546.40" cy="443.00" r="1.2" fill="#76c500"/>
<circle cx="531.70" cy="444.40" r="1.2" fill="#76c500"/>
<circle cx="534.10" cy="444.90" r="1.2" fill="#76c500"/>
<circle cx="559.30" cy="444.10" r="1.2" fill="#76c500"/>
<circle cx="563.70" cy="445.60" r="1.2" fill="#76c500"/>
<circle cx="569.20" cy="446.30" r="1.2" fill="#76c500"/>
<circle cx="536.90" cy="447.00" r="1.2" fill="#76c500"/>
<circle cx="538.60" cy="447.00" r="1.2" fill="#76c500"/>
<circle cx="540.30" cy="447.00" r="1.2" fill="#76c500"/>
<circle cx="543.90" cy="446.70" r="1.2" fill="#76c500"/>
<circle cx="554.00" cy="447.30" r="1.2" fill="#76c500"/>
<circle cx="575.10" cy="420.80" r="1.2" fill="#76c500"/>
<circle cx="594.60" cy="435.20" r="1.2" fill="#76c500"/>
<circle cx="571.80" cy="441.80" r="1.2" fill="#76c500"/>
<circle cx="588.10" cy="441.80" r="1.2" fill="#76c500"/>
<circle cx="590.30" cy="440.50" r="1.2" fill="#76c500"/>
<circle cx="576.90" cy="443.90" r="1.2" fill="#76c500"/>
<circle cx="583.50" cy="443.40" r="1.2" fill="#76c500"/>
<circle cx="592.40" cy="443.90" r="1.2" fill="#76c500"/>
<circle cx="596.90" cy="443.40" r="1.2" fill="#76c500"/>
<circle cx="600.00" cy="444.10" r="1.2" fill="#76c500"/>
<circle cx="602.90" cy="444.60" r="1.2" fill="#76c500"/>
<circle cx="601.90" cy="446.90" r="1.2" fill="#76c500"/>
<circle cx="579.00" cy="447.10" r="1.2" fill="#76c500"/>
<circle cx="612.50" cy="433.80" r="1.2" fill="#76c500"/>
<circle cx="626.00" cy="442.20" r="1.2" fill="#76c500"/>
<circle cx="639.50" cy="442.50" r="1.2" fill="#76c500"/>
<circle cx="614.10" cy="443.90" r="1.2" fill="#76c500"/>
<circle cx="612.80" cy="446.70" r="1.2" fill="#76c500"/>
<circle cx="617.50" cy="446.20" r="1.2" fill="#76c500"/>
<circle cx="623.50" cy="444.90" r="1.2" fill="#76c500"/>
<circle cx="628.50" cy="446.20" r="1.2" fill="#76c500"/>
<circle cx="608.30" cy="448.50" r="1.2" fill="#76c500"/>
<circle cx="625.10" cy="448.20" r="1.2" fill="#76c500"/>
<circle cx="624.00" cy="449.60" r="1.2" fill="#76c500"/>
<circle cx="630.00" cy="449.80" r="1.2" fill="#76c500"/>
<circle cx="633.10" cy="449.90" r="1.2" fill="#76c500"/>
<circle cx="639.80" cy="450.10" r="1.2" fill="#76c500"/>
<circle cx="614.50" cy="450.60" r="1.2" fill="#76c500"/>
<circle cx="517.80" cy="456.10" r="1.2" fill="#e2231a"/>
<circle cx="502.70" cy="462.00" r="1.2" fill="#e2231a"/>
<circle cx="513.70" cy="462.00" r="1.2" fill="#e2231a"/>
<circle cx="550.70" cy="437.90" r="1.2" fill="#e2231a"/>
<circle cx="533.40" cy="449.90" r="1.2" fill="#e2231a"/>
<circle cx="542.70" cy="453.10" r="1.2" fill="#e2231a"/>
<circle cx="559.70" cy="453.70" r="1.2" fill="#e2231a"/>
<circle cx="551.90" cy="458.40" r="1.2" fill="#e2231a"/>
<circle cx="567.50" cy="458.40" r="1.2" fill="#e2231a"/>
<circle cx="540.70" cy="461.80" r="1.2" fill="#e2231a"/>
<circle cx="547.60" cy="463.70" r="1.2" fill="#e2231a"/>
<circle cx="582.10" cy="446.90" r="1.2" fill="#e2231a"/>
<circle cx="581.40" cy="455.10" r="1.2" fill="#e2231a"/>
<circle cx="579.00" cy="456.80" r="1.2" fill="#e2231a"/>
<circle cx="580.70" cy="458.00" r="1.2" fill="#e2231a"/>
<circle cx="584.10" cy="458.20" r="1.2" fill="#e2231a"/>
<circle cx="585.70" cy="455.80" r="1.2" fill="#e2231a"/>
<circle cx="573.50" cy="459.90" r="1.2" fill="#e2231a"/>
<circle cx="580.00" cy="461.30" r="1.2" fill="#e2231a"/>
<circle cx="588.80" cy="460.90" r="1.2" fill="#e2231a"/>
<circle cx="590.90" cy="463.00" r="1.2" fill="#e2231a"/>
<circle cx="598.70" cy="463.00" r="1.2" fill="#e2231a"/>
<circle cx="600.70" cy="453.70" r="1.2" fill="#e2231a"/>
<circle cx="603.40" cy="460.90" r="1.2" fill="#e2231a"/>
<circle cx="604.10" cy="462.00" r="1.2" fill="#e2231a"/>
<circle cx="605.10" cy="454.70" r="1.2" fill="#e2231a"/>
<circle cx="608.60" cy="455.80" r="1.2" fill="#e2231a"/>
<circle cx="609.00" cy="455.90" r="1.2" fill="#e2231a"/>
<circle cx="614.10" cy="458.00" r="1.2" fill="#e2231a"/>
<circle cx="610.10" cy="460.90" r="1.2" fill="#e2231a"/>
<circle cx="616.60" cy="463.00" r="1.2" fill="#e2231a"/>
<circle cx="619.00" cy="461.60" r="1.2" fill="#e2231a"/>
<circle cx="620.40" cy="456.50" r="1.2" fill="#e2231a"/>
<circle cx="622.50" cy="458.00" r="1.2" fill="#e2231a"/>
<circle cx="629.70" cy="459.40" r="1.2" fill="#e2231a"/>
<circle cx="631.80" cy="456.30" r="1.2" fill="#e2231a"/>
<circle cx="633.80" cy="458.00" r="1.2" fill="#e2231a"/>
<circle cx="635.20" cy="459.70" r="1.2" fill="#e2231a"/>
<circle cx="633.50" cy="461.10" r="1.2" fill="#e2231a"/>
<circle cx="635.50" cy="463.20" r="1.2" fill="#e2231a"/>
<circle cx="637.90" cy="461.30" r="1.2" fill="#e2231a"/>
<circle cx="639.00" cy="462.80" r="1.2" fill="#e2231a"/>
<circle cx="640.40" cy="457.00" r="1.2" fill="#e2231a"/>
<circle cx="641.00" cy="458.60" r="1.2" fill="#e2231a"/>
<line x1="569.90" y1="408.90" x2="569.90" y2="466.50" stroke="#666" stroke-width="0.75" stroke-dasharray="2.4,5.6" stroke-dashoffset="1.2"/>
<rect x="491.90" y="408.90" width="156.60" height="57.60" fill="none" stroke="#444" stroke-width="0.75"/>
<line x1="490.00" y1="463.90" x2="491.90" y2="463.90" stroke="#444" stroke-width="0.75"/>
<text class="s" x="488.40" y="465.95" font-size="5.8" text-anchor="end" fill="#4d4d4d">0</text>
<line x1="490.00" y1="450.10" x2="491.90" y2="450.10" stroke="#444" stroke-width="0.75"/>
<text class="s" x="488.40" y="452.15" font-size="5.8" text-anchor="end" fill="#4d4d4d">5</text>
<line x1="490.00" y1="436.30" x2="491.90" y2="436.30" stroke="#444" stroke-width="0.75"/>
<text class="s" x="488.40" y="438.35" font-size="5.8" text-anchor="end" fill="#4d4d4d">10</text>
<line x1="490.00" y1="422.50" x2="491.90" y2="422.50" stroke="#444" stroke-width="0.75"/>
<text class="s" x="488.40" y="424.55" font-size="5.8" text-anchor="end" fill="#4d4d4d">15</text>
<line x1="498.60" y1="466.50" x2="498.60" y2="468.40" stroke="#444" stroke-width="0.75"/>
<text class="s" x="498.60" y="473.90" font-size="5.8" text-anchor="middle" fill="#4d4d4d">0</text>
<line x1="534.25" y1="466.50" x2="534.25" y2="468.40" stroke="#444" stroke-width="0.75"/>
<text class="s" x="534.25" y="473.90" font-size="5.8" text-anchor="middle" fill="#4d4d4d">100</text>
<line x1="569.90" y1="466.50" x2="569.90" y2="468.40" stroke="#444" stroke-width="0.75"/>
<text class="s" x="569.90" y="473.90" font-size="5.8" text-anchor="middle" fill="#4d4d4d">200</text>
<line x1="605.55" y1="466.50" x2="605.55" y2="468.40" stroke="#444" stroke-width="0.75"/>
<text class="s" x="605.55" y="473.90" font-size="5.8" text-anchor="middle" fill="#4d4d4d">300</text>
<line x1="641.20" y1="466.50" x2="641.20" y2="468.40" stroke="#444" stroke-width="0.75"/>
<text class="s" x="641.20" y="473.90" font-size="5.8" text-anchor="middle" fill="#4d4d4d">400</text>
<text class="s" x="570.20" y="482.60" font-size="7.7" text-anchor="middle">Patient ID(increasing risk score)</text>
<text class="s" x="478.85" y="437.20" font-size="7.9" text-anchor="middle" transform="rotate(-90 478.85 437.20)">Survival time(year)</text>
<text class="s" x="660.00" y="432.00" font-size="7.7">OS</text>
<circle cx="663.40" cy="440.40" r="1.15" fill="#76c500"/>
<circle cx="663.40" cy="446.60" r="1.15" fill="#e2231a"/>
<text class="s" x="670.60" y="442.60" font-size="6.2" fill="#222">Alive</text>
<text class="s" x="670.60" y="448.90" font-size="6.2" fill="#222">Dead</text>
<text class="r" font-size="27.0" stroke="#fff" stroke-width="0.45" transform="translate(7.80 526.47) scale(0.7040 1.2372)">J</text>
<line x1="35.60" y1="693.30" x2="188.60" y2="540.20" stroke="#111" stroke-width="1.05"/>
<polyline points="41.50,687.40 43.43,687.41 45.37,687.67 47.30,687.40 47.30,685.77 47.30,684.14 47.30,682.51 47.30,680.89 47.30,679.26 47.30,677.63 47.30,676.00 47.30,674.37 47.30,672.74 47.30,671.11 47.30,669.49 47.30,667.86 47.30,666.23 47.30,664.60 47.30,663.00 49.00,663.00 51.00,662.62 53.00,662.94 55.00,662.50 56.67,662.62 58.33,662.92 60.00,663.20 62.00,663.33 64.00,663.01 66.00,663.00 68.00,663.16 70.00,662.98 72.00,663.40 73.83,663.55 75.67,663.42 77.50,663.40 77.50,661.74 77.50,660.07 77.50,658.41 77.50,656.74 77.50,655.08 77.50,653.41 77.50,651.75 77.50,650.09 77.50,648.42 77.50,646.76 77.50,645.09 77.50,643.43 77.50,641.76 77.50,640.10 79.90,640.00 82.30,640.10 82.30,638.49 82.30,636.89 82.30,635.28 82.30,633.67 82.30,632.07 82.30,630.46 82.30,628.85 82.30,627.25 82.30,625.64 82.30,624.03 82.30,622.43 82.30,620.82 82.30,619.21 82.30,617.61 82.30,616.00 84.20,616.01 86.10,615.55 88.00,615.50 88.00,613.86 88.00,612.23 88.00,610.59 88.00,608.96 88.00,607.32 88.00,605.69 88.00,604.05 88.00,602.41 88.00,600.78 88.00,599.14 88.00,597.51 88.00,595.87 88.00,594.24 88.00,592.60 89.75,592.67 91.50,592.58 93.25,592.84 95.00,593.00 96.67,592.74 98.33,592.69 100.00,592.90 101.67,592.53 103.33,592.57 105.00,592.50 106.67,592.87 108.33,592.94 110.00,592.88 111.67,592.86 113.33,592.78 115.00,593.00 116.67,592.71 118.33,593.12 120.00,592.76 121.67,592.44 123.33,592.66 125.00,592.50 126.61,592.72 128.23,592.68 129.84,592.92 131.46,592.45 133.07,592.80 134.69,592.82 136.30,592.90 136.30,591.19 136.30,589.48 136.30,587.78 136.30,586.07 136.30,584.36 136.30,582.65 136.30,580.95 136.30,579.24 136.30,577.53 136.30,575.82 136.30,574.12 136.30,572.41 136.30,570.70 138.37,570.44 140.43,570.78 142.50,570.70 142.50,569.03 142.50,567.35 142.50,565.68 142.50,564.01 142.50,562.33 142.50,560.66 142.50,558.99 142.50,557.31 142.50,555.64 142.50,553.97 142.50,552.29 142.50,550.62 142.50,548.95 142.50,547.27 142.50,545.60 144.25,545.79 146.00,545.62 147.75,545.41 149.50,545.74 151.25,545.52 153.00,545.50 154.75,545.76 156.50,546.15 158.25,546.04 160.00,546.50 160.00,546.00 163.00,546.00 163.00,545.50 166.00,545.50 166.00,545.00 169.00,545.00 169.00,544.50 172.00,544.50 173.75,544.88 175.50,544.98 177.25,545.22 179.00,545.05 180.75,545.60 182.50,545.60" fill="none" stroke="#ee3b3b" stroke-width="0.8" stroke-linejoin="round" stroke-linejoin="miter"/>
<polyline points="41.50,687.40 41.50,686.20 41.30,686.20 41.30,681.85 42.45,681.85 42.45,677.50 43.60,677.50 43.60,673.70 44.75,673.70 44.75,669.90 45.90,669.90 45.90,665.80 47.35,665.80 47.35,661.70 48.80,661.70 48.80,655.30 50.60,655.30 50.60,652.10 52.35,652.10 52.35,648.90 54.10,648.90 54.10,643.00 56.40,643.00 56.40,640.10 58.45,640.10 58.45,637.20 60.50,637.20 60.50,631.90 62.90,631.90 62.90,630.75 64.95,630.75 64.95,629.60 67.00,629.60 69.00,628.75 71.00,628.40 71.00,626.27 71.00,624.13 71.00,622.00 71.00,614.50 72.00,614.50 72.00,607.00 73.00,607.00 73.00,600.50 74.50,600.50 74.50,601.00 77.00,601.00 77.00,598.00 79.00,598.00 79.00,596.00 81.00,596.00 81.00,590.00 82.00,590.00 82.00,590.50 84.00,590.50 84.00,593.00 86.50,593.00 86.50,592.00 88.50,592.00 88.50,587.00 89.50,587.00 89.50,583.00 92.50,583.00 92.50,578.50 93.00,578.50 93.00,574.00 93.50,574.00 95.25,573.49 97.00,573.30 98.80,573.32 100.60,573.03 102.40,572.58 104.20,572.62 106.00,572.50 106.00,571.67 108.17,571.67 108.17,570.83 110.33,570.83 110.33,570.00 112.50,570.00 112.50,565.50 112.75,565.50 112.75,561.00 113.00,561.00 115.00,560.49 117.00,560.00 117.00,562.00 120.00,562.00 120.00,560.00 123.00,560.00 123.00,555.00 123.50,555.00 125.75,554.30 128.00,554.00 128.00,551.00 129.00,551.00 131.00,550.64 133.00,550.00 133.00,549.00 134.50,549.00 134.50,543.50 135.50,543.50 135.50,544.75 137.75,544.75 137.75,546.00 140.00,546.00 140.00,546.67 142.33,546.67 142.33,547.33 144.67,547.33 144.67,548.00 147.00,548.00 148.60,547.77 150.20,547.93 151.80,548.01 153.40,547.96 155.00,548.00 156.60,547.75 158.20,547.54 159.80,547.37 161.40,546.67 163.00,546.50 163.00,545.25 165.50,545.25 165.50,544.00 168.00,544.00 169.67,543.92 171.33,543.78 173.00,543.50 174.67,543.88 176.33,544.20 178.00,545.00 180.25,545.58 182.50,545.60" fill="none" stroke="#3f5fcf" stroke-width="0.8" stroke-linejoin="round" stroke-linejoin="miter"/>
<polyline points="41.50,687.40 41.50,682.70 41.30,682.70 41.30,675.70 43.00,675.70 43.00,671.90 44.15,671.90 44.15,668.10 45.30,668.10 45.30,661.10 47.10,661.10 47.10,657.30 47.95,657.30 47.95,653.50 48.80,653.50 48.80,646.50 50.60,646.50 50.60,639.50 52.40,639.50 52.40,632.50 54.50,632.50 54.50,629.60 56.95,629.60 56.95,626.70 59.40,626.70 59.40,622.60 60.25,622.60 60.25,618.50 61.10,618.50 61.10,615.00 63.45,615.00 63.45,611.50 65.80,611.50 65.80,613.00 68.40,613.00 68.40,614.50 71.00,614.50 71.00,607.00 72.00,607.00 72.00,604.00 74.00,604.00 74.00,601.00 76.00,601.00 76.00,596.00 78.00,596.00 78.00,594.50 80.00,594.50 80.00,593.00 82.00,593.00 82.00,590.20 85.00,590.20 87.00,590.46 89.00,591.00 89.00,584.40 90.90,584.40 90.90,583.00 93.50,583.00 93.50,575.80 94.00,575.80 94.00,568.60 94.50,568.60 94.50,567.50 96.00,567.50 96.00,566.90 99.00,566.90 101.00,567.08 103.00,567.69 105.00,567.80 106.72,567.48 108.45,567.71 110.18,567.71 111.90,567.50 111.90,564.00 113.00,564.00 114.67,563.98 116.33,564.07 118.00,564.50 120.00,564.61 122.00,565.00 122.00,563.00 125.00,563.00 125.00,558.50 126.00,558.50 128.00,558.09 130.00,557.50 130.00,552.50 131.00,552.50 133.00,552.29 135.00,552.00 135.00,549.00 136.00,549.00 136.00,548.00 138.00,548.00 138.00,545.00 138.50,545.00 140.25,545.04 142.00,545.50 142.00,546.75 145.00,546.75 145.00,548.00 148.00,548.00 149.75,547.96 151.50,548.10 153.25,547.95 155.00,548.00 156.67,547.58 158.33,547.28 160.00,546.50 161.67,546.53 163.33,546.27 165.00,546.06 166.67,546.07 168.33,546.09 170.00,546.00 170.00,545.00 172.50,545.00 172.50,544.00 175.00,544.00 176.88,544.63 178.75,544.97 180.62,545.09 182.50,545.60" fill="none" stroke="#70cc2a" stroke-width="0.8" stroke-linejoin="round" stroke-linejoin="miter"/>
<line x1="35.60" y1="540.20" x2="188.60" y2="540.20" stroke="#9a9a9a" stroke-width="1.3"/>
<line x1="188.60" y1="540.20" x2="188.60" y2="693.30" stroke="#9a9a9a" stroke-width="1.3"/>
<line x1="35.60" y1="539.60" x2="35.60" y2="693.30" stroke="#333" stroke-width="0.9"/>
<line x1="35.60" y1="693.30" x2="189.20" y2="693.30" stroke="#333" stroke-width="0.9"/>
<line x1="41.50" y1="693.30" x2="41.50" y2="697.10" stroke="#333" stroke-width="0.8"/>
<text class="s" x="41.50" y="707.60" font-size="7.4" text-anchor="middle" fill="#111">0.0</text>
<line x1="35.60" y1="687.40" x2="31.20" y2="687.40" stroke="#333" stroke-width="0.8"/>
<text class="s" x="25.30" y="687.40" font-size="7.4" text-anchor="middle" fill="#111" transform="rotate(-90 25.30 687.40)">0.0</text>
<line x1="69.70" y1="693.30" x2="69.70" y2="697.10" stroke="#333" stroke-width="0.8"/>
<text class="s" x="69.70" y="707.60" font-size="7.4" text-anchor="middle" fill="#111">0.2</text>
<line x1="35.60" y1="659.02" x2="31.20" y2="659.02" stroke="#333" stroke-width="0.8"/>
<text class="s" x="25.30" y="659.02" font-size="7.4" text-anchor="middle" fill="#111" transform="rotate(-90 25.30 659.02)">0.2</text>
<line x1="97.90" y1="693.30" x2="97.90" y2="697.10" stroke="#333" stroke-width="0.8"/>
<text class="s" x="97.90" y="707.60" font-size="7.4" text-anchor="middle" fill="#111">0.4</text>
<line x1="35.60" y1="630.64" x2="31.20" y2="630.64" stroke="#333" stroke-width="0.8"/>
<text class="s" x="25.30" y="630.64" font-size="7.4" text-anchor="middle" fill="#111" transform="rotate(-90 25.30 630.64)">0.4</text>
<line x1="126.10" y1="693.30" x2="126.10" y2="697.10" stroke="#333" stroke-width="0.8"/>
<text class="s" x="126.10" y="707.60" font-size="7.4" text-anchor="middle" fill="#111">0.6</text>
<line x1="35.60" y1="602.26" x2="31.20" y2="602.26" stroke="#333" stroke-width="0.8"/>
<text class="s" x="25.30" y="602.26" font-size="7.4" text-anchor="middle" fill="#111" transform="rotate(-90 25.30 602.26)">0.6</text>
<line x1="154.30" y1="693.30" x2="154.30" y2="697.10" stroke="#333" stroke-width="0.8"/>
<text class="s" x="154.30" y="707.60" font-size="7.4" text-anchor="middle" fill="#111">0.8</text>
<line x1="35.60" y1="573.88" x2="31.20" y2="573.88" stroke="#333" stroke-width="0.8"/>
<text class="s" x="25.30" y="573.88" font-size="7.4" text-anchor="middle" fill="#111" transform="rotate(-90 25.30 573.88)">0.8</text>
<line x1="182.50" y1="693.30" x2="182.50" y2="697.10" stroke="#333" stroke-width="0.8"/>
<text class="s" x="182.50" y="707.60" font-size="7.4" text-anchor="middle" fill="#111">1.0</text>
<line x1="35.60" y1="545.50" x2="31.20" y2="545.50" stroke="#333" stroke-width="0.8"/>
<text class="s" x="25.30" y="545.50" font-size="7.4" text-anchor="middle" fill="#111" transform="rotate(-90 25.30 545.50)">1.0</text>
<text class="s" x="95.80" y="724.00" font-size="8.7" text-anchor="middle" fill="#111">1-Spesificity</text>
<text class="s" x="9.20" y="625.20" font-size="8.7" text-anchor="middle" fill="#111" transform="rotate(-90 9.20 625.20)">Sensitivity</text>
<line x1="85.20" y1="663.50" x2="93.90" y2="663.50" stroke="#ee3b3b" stroke-width="0.9"/>
<text class="s" x="98.10" y="666.20" font-size="7.75" fill="#111">1 years (AUC=0.617)</text>
<line x1="85.20" y1="673.45" x2="93.90" y2="673.45" stroke="#70cc2a" stroke-width="0.9"/>
<text class="s" x="98.10" y="676.15" font-size="7.75" fill="#111">3 years (AUC=0.763)</text>
<line x1="85.20" y1="683.40" x2="93.90" y2="683.40" stroke="#3f5fcf" stroke-width="0.9"/>
<text class="s" x="98.10" y="686.10" font-size="7.75" fill="#111">5 years (AUC=0.751)</text>
<text class="r" font-size="27.0" stroke="#fff" stroke-width="0.45" transform="translate(235.57 522.30) scale(0.9380 1.0181)">K</text>
<line x1="267.60" y1="693.30" x2="420.60" y2="540.20" stroke="#111" stroke-width="1.05"/>
<polyline points="273.00,687.40 273.80,687.40 273.80,685.72 273.80,684.04 273.80,682.36 273.80,680.68 273.80,679.01 273.80,677.33 273.80,675.65 273.80,673.97 273.80,672.29 273.80,670.61 273.80,668.93 273.80,667.25 273.80,665.57 273.80,663.89 273.80,662.22 273.80,660.54 273.80,658.86 273.80,657.18 273.80,655.50 275.60,655.50 275.60,653.79 275.60,652.08 275.60,650.38 275.60,648.67 275.60,646.96 275.60,645.25 275.60,643.54 275.60,641.83 275.60,640.12 275.60,638.42 275.60,636.71 275.60,635.00 275.60,634.00 277.00,634.00 277.00,631.00 279.00,631.00 279.00,632.00 280.50,632.00 280.50,629.00 282.00,629.00 282.00,630.00 283.00,630.00 283.00,630.50 285.00,630.50 285.00,628.50 286.00,628.50 286.00,630.00 289.00,630.00 289.00,632.00 292.00,632.00 292.00,633.90 294.90,633.90 294.90,632.27 294.90,630.65 294.90,629.02 294.90,627.39 294.90,625.76 294.90,624.14 294.90,622.51 294.90,620.88 294.90,619.25 294.90,617.63 294.90,616.00 294.90,614.37 294.90,612.75 294.90,611.12 294.90,609.49 294.90,607.86 294.90,606.24 294.90,604.61 294.90,602.98 294.90,601.35 294.90,599.73 294.90,598.10 296.95,599.07 299.00,599.50 301.00,600.26 303.00,601.00 305.25,600.54 307.50,599.50 307.50,597.86 307.50,596.23 307.50,594.59 307.50,592.95 307.50,591.32 307.50,589.68 307.50,588.05 307.50,586.41 307.50,584.77 307.50,583.14 307.50,581.50 307.50,581.00 310.00,581.00 310.00,583.00 313.00,583.00 313.00,580.00 316.00,580.00 318.00,580.25 320.00,581.00 321.67,581.40 323.33,581.59 325.00,582.00 326.67,581.68 328.33,580.80 330.00,580.50 331.67,580.89 333.33,580.86 335.00,581.00 336.67,580.91 338.33,580.32 340.00,580.00 340.00,580.62 343.00,580.62 343.00,581.25 346.00,581.25 346.00,581.88 349.00,581.88 349.00,582.50 352.00,582.50 353.60,582.56 355.20,582.87 356.80,583.09 358.40,582.82 360.00,583.00 361.67,583.36 363.33,583.42 365.00,583.06 366.67,583.40 368.33,583.54 370.00,583.50 371.67,583.60 373.33,583.27 375.00,582.78 376.67,582.83 378.33,582.66 380.00,582.50 381.72,582.50 383.44,582.78 385.16,582.41 386.88,582.33 388.60,582.51 390.32,582.58 392.04,582.76 393.76,582.55 395.48,582.36 397.20,582.50 397.20,580.87 397.20,579.25 397.20,577.62 397.20,575.99 397.20,574.36 397.20,572.74 397.20,571.11 397.20,569.48 397.20,567.85 397.20,566.23 397.20,564.60 398.96,564.92 400.71,564.71 402.47,564.88 404.23,564.81 405.99,564.72 407.74,565.06 409.50,565.00 409.50,563.35 409.50,561.69 409.50,560.04 409.50,558.38 409.50,556.73 409.50,555.07 409.50,553.42 409.50,551.76 409.50,550.11 409.50,548.45 409.50,546.80 409.50,545.50 412.00,545.50 415.10,545.40" fill="none" stroke="#ee3b3b" stroke-width="0.8" stroke-linejoin="round" stroke-linejoin="miter"/>
<polyline points="273.00,687.40 273.00,680.63 272.96,680.63 272.96,673.86 272.91,673.86 272.91,667.09 272.87,667.09 272.87,660.31 272.83,660.31 272.83,653.54 272.79,653.54 272.79,646.77 272.74,646.77 272.74,640.00 272.70,640.00 272.70,643.00 274.00,643.00 274.00,642.00 276.00,642.00 276.00,638.00 277.00,638.00 277.00,634.00 278.00,634.00 278.00,630.00 279.00,630.00 279.00,631.00 281.00,631.00 281.00,629.00 283.00,629.00 283.00,632.00 285.00,632.00 285.00,634.00 287.00,634.00 287.00,635.00 290.00,635.00 290.00,631.00 291.00,631.00 291.00,627.00 293.00,627.00 293.00,628.50 295.00,628.50 295.00,628.00 297.00,628.00 297.00,626.00 299.00,626.00 299.00,625.00 301.00,625.00 301.00,624.00 303.00,624.00 303.00,623.00 304.50,623.00 304.50,619.00 304.75,619.00 304.75,615.00 305.00,615.00 305.00,614.50 308.00,614.50 310.00,613.77 312.00,613.00 312.00,611.50 315.00,611.50 315.00,612.00 318.00,612.00 318.00,613.00 320.00,613.00 322.25,612.91 324.50,613.00 324.50,608.50 324.75,608.50 324.75,604.00 325.00,604.00 325.00,603.50 326.00,603.50 326.00,598.33 325.83,598.33 325.83,593.17 325.67,593.17 325.67,588.00 325.50,588.00 325.50,584.50 328.00,584.50 328.00,586.00 331.00,586.00 331.00,583.00 332.50,583.00 334.25,582.42 336.00,582.00 336.00,576.50 336.17,576.50 336.17,571.00 336.33,571.00 336.33,565.50 336.50,565.50 336.50,566.75 338.25,566.75 338.25,568.00 340.00,568.00 340.00,566.00 343.00,566.00 345.50,566.00 345.50,567.50 347.75,567.50 347.75,569.00 350.00,569.00 351.67,569.09 353.33,569.63 355.00,569.50 355.00,571.00 357.00,571.00 357.00,570.00 359.00,570.00 359.00,569.00 361.00,569.00 361.00,568.00 362.00,568.00 362.00,566.25 362.00,564.50 362.00,562.75 362.00,561.00 362.00,559.25 362.00,557.50 364.00,556.83 366.00,556.00 368.00,556.60 370.00,557.00 371.67,556.56 373.33,556.44 375.00,556.00 376.67,555.94 378.33,556.06 380.00,556.50 380.00,557.50 382.50,557.50 382.50,558.50 385.00,558.50 385.00,559.50 387.50,559.50 387.50,560.50 390.00,560.50 390.00,556.25 390.25,556.25 390.25,552.00 390.50,552.00 390.50,553.00 392.00,553.00 392.00,552.00 394.00,552.00 394.00,550.50 395.00,550.50 395.00,552.00 398.00,552.00 400.00,552.38 402.00,552.04 404.00,552.50 407.00,552.50 407.00,546.50 409.00,546.50 409.00,545.50 411.00,545.50 413.05,545.74 415.10,545.40" fill="none" stroke="#3f5fcf" stroke-width="0.8" stroke-linejoin="round" stroke-linejoin="miter"/>
<polyline points="273.00,687.40 273.00,680.49 272.94,680.49 272.94,673.58 272.88,673.58 272.88,666.66 272.81,666.66 272.81,659.75 272.75,659.75 272.75,652.84 272.69,652.84 272.69,645.92 272.62,645.92 272.62,639.01 272.56,639.01 272.56,632.10 272.50,632.10 272.50,637.00 274.00,637.00 274.00,634.00 276.00,634.00 276.00,637.00 277.00,637.00 277.00,633.00 278.00,633.00 278.00,627.00 278.50,627.00 278.50,621.00 279.00,621.00 279.00,620.00 281.00,620.00 281.00,622.00 283.00,622.00 283.00,621.00 284.00,621.00 284.00,624.00 286.00,624.00 286.00,626.00 289.00,626.00 289.00,621.50 290.00,621.50 290.00,622.50 292.00,622.50 292.00,617.50 293.00,617.50 293.00,618.00 296.00,618.00 296.00,619.00 298.00,619.00 298.00,615.00 300.00,615.00 300.00,613.00 301.00,613.00 303.50,613.00 303.50,611.33 303.50,609.67 303.50,608.00 303.50,606.33 303.50,604.67 303.50,603.00 305.25,603.43 307.00,603.50 307.00,601.00 310.00,601.00 310.00,600.00 313.00,600.00 313.00,598.50 315.50,598.50 315.50,601.00 318.00,601.00 318.00,601.50 320.00,601.50 320.00,600.00 322.50,600.00 322.50,594.50 322.75,594.50 322.75,589.00 323.00,589.00 325.00,589.00 325.00,584.00 326.00,584.00 328.00,583.93 330.00,583.50 330.00,582.00 332.00,582.00 332.00,575.00 332.50,575.00 334.25,575.01 336.00,575.00 336.00,569.33 336.17,569.33 336.17,563.67 336.33,563.67 336.33,558.00 336.50,558.00 336.50,559.00 338.25,559.00 338.25,560.00 340.00,560.00 340.00,558.00 343.00,558.00 343.00,558.50 345.50,558.50 345.50,560.00 347.75,560.00 347.75,561.50 350.00,561.50 351.75,561.75 353.50,561.98 355.25,562.56 357.00,563.00 358.67,562.61 360.33,562.06 362.00,562.00 364.00,561.40 366.00,561.63 368.00,561.00 369.67,561.42 371.33,561.51 373.00,562.00 373.00,560.50 376.00,560.50 378.00,560.96 380.00,561.50 381.67,562.28 383.33,562.74 385.00,563.00 386.67,563.71 388.33,563.94 390.00,564.50 390.00,564.00 392.00,564.00 392.00,558.75 392.25,558.75 392.25,553.50 392.50,553.50 392.50,555.00 394.00,555.00 394.00,556.50 395.00,556.50 395.00,552.00 396.00,552.00 396.00,551.00 397.00,551.00 397.00,552.50 400.00,552.50 401.67,552.66 403.33,552.94 405.00,553.00 405.00,551.75 407.00,551.75 407.00,550.50 409.00,550.50 409.00,547.00 410.00,547.00 410.00,546.00 412.00,546.00 415.10,545.40" fill="none" stroke="#70cc2a" stroke-width="0.8" stroke-linejoin="round" stroke-linejoin="miter"/>
<line x1="267.60" y1="540.20" x2="420.60" y2="540.20" stroke="#9a9a9a" stroke-width="1.3"/>
<line x1="420.60" y1="540.20" x2="420.60" y2="693.30" stroke="#9a9a9a" stroke-width="1.3"/>
<line x1="267.60" y1="539.60" x2="267.60" y2="693.30" stroke="#333" stroke-width="0.9"/>
<line x1="267.60" y1="693.30" x2="421.20" y2="693.30" stroke="#333" stroke-width="0.9"/>
<line x1="273.00" y1="693.30" x2="273.00" y2="697.10" stroke="#333" stroke-width="0.8"/>
<text class="s" x="273.00" y="707.60" font-size="7.4" text-anchor="middle" fill="#111">0.0</text>
<line x1="267.60" y1="687.40" x2="263.20" y2="687.40" stroke="#333" stroke-width="0.8"/>
<text class="s" x="257.30" y="687.40" font-size="7.4" text-anchor="middle" fill="#111" transform="rotate(-90 257.30 687.40)">0.0</text>
<line x1="301.42" y1="693.30" x2="301.42" y2="697.10" stroke="#333" stroke-width="0.8"/>
<text class="s" x="301.42" y="707.60" font-size="7.4" text-anchor="middle" fill="#111">0.2</text>
<line x1="267.60" y1="659.02" x2="263.20" y2="659.02" stroke="#333" stroke-width="0.8"/>
<text class="s" x="257.30" y="659.02" font-size="7.4" text-anchor="middle" fill="#111" transform="rotate(-90 257.30 659.02)">0.2</text>
<line x1="329.84" y1="693.30" x2="329.84" y2="697.10" stroke="#333" stroke-width="0.8"/>
<text class="s" x="329.84" y="707.60" font-size="7.4" text-anchor="middle" fill="#111">0.4</text>
<line x1="267.60" y1="630.64" x2="263.20" y2="630.64" stroke="#333" stroke-width="0.8"/>
<text class="s" x="257.30" y="630.64" font-size="7.4" text-anchor="middle" fill="#111" transform="rotate(-90 257.30 630.64)">0.4</text>
<line x1="358.26" y1="693.30" x2="358.26" y2="697.10" stroke="#333" stroke-width="0.8"/>
<text class="s" x="358.26" y="707.60" font-size="7.4" text-anchor="middle" fill="#111">0.6</text>
<line x1="267.60" y1="602.26" x2="263.20" y2="602.26" stroke="#333" stroke-width="0.8"/>
<text class="s" x="257.30" y="602.26" font-size="7.4" text-anchor="middle" fill="#111" transform="rotate(-90 257.30 602.26)">0.6</text>
<line x1="386.68" y1="693.30" x2="386.68" y2="697.10" stroke="#333" stroke-width="0.8"/>
<text class="s" x="386.68" y="707.60" font-size="7.4" text-anchor="middle" fill="#111">0.8</text>
<line x1="267.60" y1="573.88" x2="263.20" y2="573.88" stroke="#333" stroke-width="0.8"/>
<text class="s" x="257.30" y="573.88" font-size="7.4" text-anchor="middle" fill="#111" transform="rotate(-90 257.30 573.88)">0.8</text>
<line x1="415.10" y1="693.30" x2="415.10" y2="697.10" stroke="#333" stroke-width="0.8"/>
<text class="s" x="415.10" y="707.60" font-size="7.4" text-anchor="middle" fill="#111">1.0</text>
<line x1="267.60" y1="545.50" x2="263.20" y2="545.50" stroke="#333" stroke-width="0.8"/>
<text class="s" x="257.30" y="545.50" font-size="7.4" text-anchor="middle" fill="#111" transform="rotate(-90 257.30 545.50)">1.0</text>
<text class="s" x="327.80" y="724.00" font-size="8.7" text-anchor="middle" fill="#111">1-Spesificity</text>
<text class="s" x="241.20" y="625.20" font-size="8.7" text-anchor="middle" fill="#111" transform="rotate(-90 241.20 625.20)">Sensitivity</text>
<line x1="317.20" y1="663.50" x2="325.90" y2="663.50" stroke="#ee3b3b" stroke-width="0.9"/>
<text class="s" x="330.10" y="666.20" font-size="7.75" fill="#111">1 years (AUC=0.690)</text>
<line x1="317.20" y1="673.45" x2="325.90" y2="673.45" stroke="#70cc2a" stroke-width="0.9"/>
<text class="s" x="330.10" y="676.15" font-size="7.75" fill="#111">3 years (AUC=0.755)</text>
<line x1="317.20" y1="683.40" x2="325.90" y2="683.40" stroke="#3f5fcf" stroke-width="0.9"/>
<text class="s" x="330.10" y="686.10" font-size="7.75" fill="#111">5 years (AUC=0.722)</text>
<text class="r" font-size="27.0" stroke="#fff" stroke-width="0.45" transform="translate(462.66 522.30) scale(0.9508 1.0181)">L</text>
<line x1="498.70" y1="693.30" x2="651.70" y2="540.20" stroke="#111" stroke-width="1.05"/>
<polyline points="504.70,687.40 506.70,687.40 506.70,685.52 506.70,683.64 506.70,681.76 506.70,679.88 506.70,678.00 508.00,678.00 508.00,676.33 508.00,674.67 508.00,673.00 508.00,671.33 508.00,669.67 508.00,668.00 509.00,668.00 509.00,664.00 509.25,664.00 509.25,660.00 509.50,660.00 509.50,659.00 510.30,659.00 510.30,657.40 510.30,655.80 510.30,654.20 510.30,652.60 510.30,651.00 510.30,650.00 511.30,650.00 511.30,647.00 511.50,647.00 511.50,646.50 513.00,646.50 513.00,646.00 516.00,646.00 518.00,646.00 518.00,645.00 520.00,645.00 520.00,646.00 522.00,646.00 523.95,646.33 525.90,646.50 525.90,644.75 525.90,643.00 525.90,641.25 525.90,639.50 525.90,637.75 525.90,636.00 527.00,636.00 527.00,631.00 527.25,631.00 527.25,626.00 527.50,626.00 529.00,626.00 530.67,626.40 532.33,626.50 534.00,626.50 536.03,626.50 538.07,626.71 540.10,627.00 540.10,625.27 540.10,623.55 540.10,621.83 540.10,620.10 540.10,618.38 540.10,616.65 540.10,614.92 540.10,613.20 540.10,611.47 540.10,609.75 540.10,608.02 540.10,606.30 540.10,606.00 543.00,606.00 543.00,605.00 544.00,605.00 544.00,599.00 544.50,599.00 544.50,597.50 546.00,597.50 548.00,597.22 550.00,596.50 550.00,594.50 552.00,594.50 552.00,593.00 553.00,593.00 553.00,591.25 553.00,589.50 553.00,587.75 553.00,586.00 554.67,585.70 556.33,586.19 558.00,586.00 559.75,586.05 561.50,585.73 563.25,585.51 565.00,585.50 566.67,585.53 568.33,585.69 570.00,585.97 571.67,586.17 573.33,586.37 575.00,586.50 576.67,586.88 578.33,586.84 580.00,586.82 581.67,587.13 583.33,586.75 585.00,587.00 586.79,586.80 588.57,587.07 590.36,586.73 592.14,586.72 593.93,587.01 595.71,586.98 597.50,587.00 597.50,585.10 597.50,583.20 597.50,581.30 597.50,579.40 597.50,577.50 599.57,577.75 601.63,577.58 603.70,577.50 603.70,575.78 603.70,574.07 603.70,572.35 603.70,570.63 603.70,568.92 603.70,567.20 605.80,566.98 607.90,566.73 610.00,566.50 611.67,566.35 613.33,566.21 615.00,566.32 616.67,566.62 618.33,566.32 620.00,566.50 621.83,566.51 623.67,566.37 625.50,566.95 627.33,566.63 629.17,566.78 631.00,567.00 631.00,565.18 631.00,563.37 631.00,561.55 631.00,559.73 631.00,557.92 631.00,556.10 632.67,556.31 634.34,556.08 636.01,556.27 637.69,556.13 639.36,556.17 641.03,555.77 642.70,556.00 642.70,554.16 642.70,552.32 642.70,550.48 642.70,548.64 642.70,546.80 644.55,546.17 646.40,545.50" fill="none" stroke="#ee3b3b" stroke-width="0.8" stroke-linejoin="round" stroke-linejoin="miter"/>
<polyline points="504.70,687.40 504.70,685.27 504.70,683.13 504.70,681.00 504.70,680.00 505.50,680.00 505.50,673.00 506.00,673.00 506.00,670.00 506.50,670.00 506.50,663.00 507.00,663.00 507.00,659.00 508.00,659.00 508.00,653.00 508.50,653.00 508.50,651.00 509.00,651.00 509.00,648.00 510.00,648.00 510.00,646.00 511.00,646.00 511.00,645.00 513.00,645.00 513.00,644.00 514.00,644.00 516.00,644.00 516.00,642.00 518.00,642.00 518.00,641.00 520.00,641.00 520.00,639.00 521.00,639.00 521.00,638.00 522.00,638.00 522.00,636.50 523.00,636.50 523.00,634.00 524.00,634.00 524.00,632.00 526.00,632.00 526.00,629.00 528.00,629.00 528.00,627.00 530.50,627.00 530.50,626.50 532.00,626.50 534.00,626.50 534.00,624.00 535.50,624.00 535.50,622.20 535.50,620.40 535.50,618.60 535.50,616.80 535.50,615.00 535.50,611.00 538.00,611.00 538.00,606.00 540.00,606.00 540.00,603.50 543.00,603.50 543.00,603.00 545.00,603.00 545.00,601.00 546.00,601.00 546.00,600.00 548.00,600.00 548.00,597.50 550.00,597.50 550.00,596.00 552.00,596.00 552.00,594.00 554.00,594.00 554.00,592.00 556.00,592.00 556.00,586.00 556.50,586.00 556.50,580.00 557.00,580.00 557.00,578.00 560.00,578.00 560.00,578.50 562.00,578.50 562.00,576.00 564.00,576.00 566.00,576.00 566.00,577.00 568.00,577.00 568.00,575.00 569.50,575.00 569.50,571.00 570.00,571.00 570.00,570.00 573.00,570.00 573.00,569.00 576.00,569.00 576.00,564.00 577.00,564.00 577.00,565.00 580.00,565.00 580.00,563.00 583.00,563.00 583.00,562.00 585.00,562.00 585.00,560.00 587.00,560.00 587.00,559.00 590.00,559.00 590.00,556.00 593.00,556.00 593.00,554.00 596.00,554.00 596.00,551.00 598.00,551.00 601.00,551.00 601.00,553.00 604.00,553.00 606.00,553.39 608.00,553.21 610.00,553.50 611.67,553.23 613.33,553.00 615.00,552.50 616.67,552.80 618.33,553.08 620.00,553.00 622.00,553.72 624.00,554.00 624.00,550.00 624.50,550.00 627.00,550.00 627.00,547.00 629.00,547.00 631.00,547.25 633.00,547.00 633.00,548.00 635.00,548.00 636.75,547.47 638.50,547.46 640.25,547.24 642.00,547.00 642.00,545.50 643.00,545.50 644.70,545.24 646.40,545.50" fill="none" stroke="#3f5fcf" stroke-width="0.8" stroke-linejoin="round" stroke-linejoin="miter"/>
<polyline points="504.70,687.40 504.70,680.00 505.00,680.00 505.00,676.00 505.50,676.00 505.50,670.00 506.00,670.00 506.00,667.00 506.50,667.00 506.50,660.00 507.00,660.00 507.00,656.00 507.50,656.00 507.50,651.00 508.00,651.00 508.00,647.00 508.50,647.00 508.50,645.00 509.00,645.00 509.00,642.00 510.00,642.00 510.00,640.00 511.00,640.00 512.00,640.00 512.00,637.00 512.50,637.00 512.50,636.00 513.50,636.00 513.50,634.00 514.00,634.00 515.00,634.00 515.00,633.00 516.00,633.00 516.00,631.50 518.00,631.50 518.00,628.00 518.50,628.00 518.50,629.00 519.50,629.00 519.50,627.00 520.00,627.00 520.00,624.00 521.00,624.00 521.00,625.00 522.00,625.00 522.00,622.00 522.50,622.00 522.50,621.00 523.50,621.00 523.50,618.00 524.00,618.00 524.00,616.00 525.00,616.00 525.00,614.25 526.75,614.25 526.75,612.50 528.50,612.50 528.50,612.00 530.00,612.00 530.00,612.50 533.00,612.50 533.00,608.25 533.75,608.25 533.75,604.00 534.50,604.00 534.50,603.50 537.00,603.50 537.00,603.00 539.00,603.00 539.00,600.50 539.50,600.50 539.50,599.00 542.00,599.00 544.00,598.15 546.00,597.50 546.00,596.50 548.00,596.50 548.00,593.50 550.00,593.50 550.00,592.50 552.00,592.50 552.00,587.00 553.00,587.00 556.00,587.00 556.00,581.25 556.75,581.25 556.75,575.50 557.50,575.50 557.50,575.00 560.00,575.00 560.00,574.50 562.50,574.50 562.50,570.00 563.50,570.00 566.00,570.00 566.00,570.50 569.00,570.50 569.00,563.00 570.00,563.00 570.00,564.00 573.00,564.00 573.00,563.00 575.00,563.00 575.00,562.00 577.00,562.00 577.00,563.50 580.00,563.50 580.00,561.00 583.00,561.00 583.00,559.00 586.00,559.00 588.00,558.79 590.00,558.00 590.00,555.00 592.00,555.00 592.00,554.00 594.00,554.00 594.00,553.00 596.00,553.00 596.00,554.00 598.00,554.00 598.00,553.00 600.00,553.00 600.00,550.00 601.00,550.00 601.00,552.50 603.00,552.50 603.00,555.00 605.00,555.00 606.67,555.06 608.33,555.51 610.00,555.50 611.67,555.72 613.33,555.43 615.00,555.50 616.67,555.30 618.33,555.09 620.00,555.00 621.67,555.10 623.33,555.65 625.00,556.00 625.00,550.00 625.50,550.00 625.50,550.50 628.00,550.50 628.00,548.00 629.00,548.00 631.00,547.84 633.00,547.85 635.00,548.00 636.75,547.94 638.50,548.07 640.25,548.56 642.00,548.50 642.00,546.00 643.00,546.00 644.70,545.70 646.40,545.50" fill="none" stroke="#70cc2a" stroke-width="0.8" stroke-linejoin="round" stroke-linejoin="miter"/>
<line x1="498.70" y1="540.20" x2="651.70" y2="540.20" stroke="#9a9a9a" stroke-width="1.3"/>
<line x1="651.70" y1="540.20" x2="651.70" y2="693.30" stroke="#9a9a9a" stroke-width="1.3"/>
<line x1="498.70" y1="539.60" x2="498.70" y2="693.30" stroke="#333" stroke-width="0.9"/>
<line x1="498.70" y1="693.30" x2="652.30" y2="693.30" stroke="#333" stroke-width="0.9"/>
<line x1="504.70" y1="693.30" x2="504.70" y2="697.10" stroke="#333" stroke-width="0.8"/>
<text class="s" x="504.70" y="707.60" font-size="7.4" text-anchor="middle" fill="#111">0.0</text>
<line x1="498.70" y1="687.40" x2="494.30" y2="687.40" stroke="#333" stroke-width="0.8"/>
<text class="s" x="488.40" y="687.40" font-size="7.4" text-anchor="middle" fill="#111" transform="rotate(-90 488.40 687.40)">0.0</text>
<line x1="533.04" y1="693.30" x2="533.04" y2="697.10" stroke="#333" stroke-width="0.8"/>
<text class="s" x="533.04" y="707.60" font-size="7.4" text-anchor="middle" fill="#111">0.2</text>
<line x1="498.70" y1="659.02" x2="494.30" y2="659.02" stroke="#333" stroke-width="0.8"/>
<text class="s" x="488.40" y="659.02" font-size="7.4" text-anchor="middle" fill="#111" transform="rotate(-90 488.40 659.02)">0.2</text>
<line x1="561.38" y1="693.30" x2="561.38" y2="697.10" stroke="#333" stroke-width="0.8"/>
<text class="s" x="561.38" y="707.60" font-size="7.4" text-anchor="middle" fill="#111">0.4</text>
<line x1="498.70" y1="630.64" x2="494.30" y2="630.64" stroke="#333" stroke-width="0.8"/>
<text class="s" x="488.40" y="630.64" font-size="7.4" text-anchor="middle" fill="#111" transform="rotate(-90 488.40 630.64)">0.4</text>
<line x1="589.72" y1="693.30" x2="589.72" y2="697.10" stroke="#333" stroke-width="0.8"/>
<text class="s" x="589.72" y="707.60" font-size="7.4" text-anchor="middle" fill="#111">0.6</text>
<line x1="498.70" y1="602.26" x2="494.30" y2="602.26" stroke="#333" stroke-width="0.8"/>
<text class="s" x="488.40" y="602.26" font-size="7.4" text-anchor="middle" fill="#111" transform="rotate(-90 488.40 602.26)">0.6</text>
<line x1="618.06" y1="693.30" x2="618.06" y2="697.10" stroke="#333" stroke-width="0.8"/>
<text class="s" x="618.06" y="707.60" font-size="7.4" text-anchor="middle" fill="#111">0.8</text>
<line x1="498.70" y1="573.88" x2="494.30" y2="573.88" stroke="#333" stroke-width="0.8"/>
<text class="s" x="488.40" y="573.88" font-size="7.4" text-anchor="middle" fill="#111" transform="rotate(-90 488.40 573.88)">0.8</text>
<line x1="646.40" y1="693.30" x2="646.40" y2="697.10" stroke="#333" stroke-width="0.8"/>
<text class="s" x="646.40" y="707.60" font-size="7.4" text-anchor="middle" fill="#111">1.0</text>
<line x1="498.70" y1="545.50" x2="494.30" y2="545.50" stroke="#333" stroke-width="0.8"/>
<text class="s" x="488.40" y="545.50" font-size="7.4" text-anchor="middle" fill="#111" transform="rotate(-90 488.40 545.50)">1.0</text>
<text class="s" x="558.90" y="724.00" font-size="8.7" text-anchor="middle" fill="#111">1-Specifisity</text>
<text class="s" x="472.30" y="634.30" font-size="8.7" text-anchor="middle" fill="#111" transform="rotate(-90 472.30 634.30)">Sensitivity</text>
<line x1="548.30" y1="663.50" x2="557.00" y2="663.50" stroke="#ee3b3b" stroke-width="0.9"/>
<text class="s" x="561.20" y="666.20" font-size="7.75" fill="#111">1 years (AUC=0.658)</text>
<line x1="548.30" y1="673.45" x2="557.00" y2="673.45" stroke="#70cc2a" stroke-width="0.9"/>
<text class="s" x="561.20" y="676.15" font-size="7.75" fill="#111">3 years (AUC=0.758)</text>
<line x1="548.30" y1="683.40" x2="557.00" y2="683.40" stroke="#3f5fcf" stroke-width="0.9"/>
<text class="s" x="561.20" y="686.10" font-size="7.75" fill="#111">5 years (AUC=0.736)</text>
<text class="r" font-size="27.0" stroke="#fff" stroke-width="0.45" transform="translate(6.39 752.60) scale(1.0473 0.9842)">M</text>
<polyline points="29.50,777.10 32.00,777.10 32.00,777.90 38.10,777.90 38.10,778.30 45.10,778.30 45.10,778.80 46.90,778.80 46.90,779.20 58.30,779.20 58.30,779.20 59.20,779.20 59.20,781.10 107.20,781.10 107.20,792.90 185.96,792.90" fill="none" stroke="#3d8bcb" stroke-width="1.25" stroke-linejoin="round" stroke-linejoin="miter"/>
<polyline points="29.50,777.10 32.00,777.10 32.00,778.80 34.50,778.80 34.50,779.60 37.30,779.60 37.30,780.50 39.00,780.50 39.00,781.80 40.50,781.80 40.50,782.60 42.50,782.60 42.50,784.00 45.10,784.00 45.10,784.90 46.50,784.90 46.50,786.60 48.20,786.60 48.20,788.40 50.40,788.40 50.40,790.10 51.30,790.10 51.30,791.90 53.90,791.90 53.90,793.20 56.50,793.20 56.50,795.00 59.60,795.00 59.60,796.30 80.20,796.30 80.20,802.40 158.57,802.40" fill="none" stroke="#e64a26" stroke-width="1.25" stroke-linejoin="round" stroke-linejoin="miter"/>
<line x1="33.52" y1="776.40" x2="33.52" y2="779.40" stroke="#3d8bcb" stroke-width="0.9"/>
<line x1="34.24" y1="776.40" x2="34.24" y2="779.40" stroke="#3d8bcb" stroke-width="0.9"/>
<line x1="34.31" y1="776.40" x2="34.31" y2="779.40" stroke="#3d8bcb" stroke-width="0.9"/>
<line x1="37.48" y1="776.40" x2="37.48" y2="779.40" stroke="#3d8bcb" stroke-width="0.9"/>
<line x1="47.95" y1="777.70" x2="47.95" y2="780.70" stroke="#3d8bcb" stroke-width="0.9"/>
<line x1="48.78" y1="777.70" x2="48.78" y2="780.70" stroke="#3d8bcb" stroke-width="0.9"/>
<line x1="49.88" y1="777.70" x2="49.88" y2="780.70" stroke="#3d8bcb" stroke-width="0.9"/>
<line x1="55.59" y1="777.70" x2="55.59" y2="780.70" stroke="#3d8bcb" stroke-width="0.9"/>
<line x1="58.56" y1="777.70" x2="58.56" y2="780.70" stroke="#3d8bcb" stroke-width="0.9"/>
<line x1="60.81" y1="779.60" x2="60.81" y2="782.60" stroke="#3d8bcb" stroke-width="0.9"/>
<line x1="62.59" y1="779.60" x2="62.59" y2="782.60" stroke="#3d8bcb" stroke-width="0.9"/>
<line x1="62.71" y1="779.60" x2="62.71" y2="782.60" stroke="#3d8bcb" stroke-width="0.9"/>
<line x1="63.25" y1="779.60" x2="63.25" y2="782.60" stroke="#3d8bcb" stroke-width="0.9"/>
<line x1="63.49" y1="779.60" x2="63.49" y2="782.60" stroke="#3d8bcb" stroke-width="0.9"/>
<line x1="65.00" y1="779.60" x2="65.00" y2="782.60" stroke="#3d8bcb" stroke-width="0.9"/>
<line x1="65.56" y1="779.60" x2="65.56" y2="782.60" stroke="#3d8bcb" stroke-width="0.9"/>
<line x1="69.08" y1="779.60" x2="69.08" y2="782.60" stroke="#3d8bcb" stroke-width="0.9"/>
<line x1="76.32" y1="779.60" x2="76.32" y2="782.60" stroke="#3d8bcb" stroke-width="0.9"/>
<line x1="76.83" y1="779.60" x2="76.83" y2="782.60" stroke="#3d8bcb" stroke-width="0.9"/>
<line x1="77.91" y1="779.60" x2="77.91" y2="782.60" stroke="#3d8bcb" stroke-width="0.9"/>
<line x1="78.57" y1="779.60" x2="78.57" y2="782.60" stroke="#3d8bcb" stroke-width="0.9"/>
<line x1="78.58" y1="779.60" x2="78.58" y2="782.60" stroke="#3d8bcb" stroke-width="0.9"/>
<line x1="78.61" y1="779.60" x2="78.61" y2="782.60" stroke="#3d8bcb" stroke-width="0.9"/>
<line x1="81.85" y1="779.60" x2="81.85" y2="782.60" stroke="#3d8bcb" stroke-width="0.9"/>
<line x1="82.18" y1="779.60" x2="82.18" y2="782.60" stroke="#3d8bcb" stroke-width="0.9"/>
<line x1="82.51" y1="779.60" x2="82.51" y2="782.60" stroke="#3d8bcb" stroke-width="0.9"/>
<line x1="86.61" y1="779.60" x2="86.61" y2="782.60" stroke="#3d8bcb" stroke-width="0.9"/>
<line x1="88.07" y1="779.60" x2="88.07" y2="782.60" stroke="#3d8bcb" stroke-width="0.9"/>
<line x1="91.02" y1="779.60" x2="91.02" y2="782.60" stroke="#3d8bcb" stroke-width="0.9"/>
<line x1="94.69" y1="779.60" x2="94.69" y2="782.60" stroke="#3d8bcb" stroke-width="0.9"/>
<line x1="95.68" y1="779.60" x2="95.68" y2="782.60" stroke="#3d8bcb" stroke-width="0.9"/>
<line x1="96.44" y1="779.60" x2="96.44" y2="782.60" stroke="#3d8bcb" stroke-width="0.9"/>
<line x1="98.94" y1="779.60" x2="98.94" y2="782.60" stroke="#3d8bcb" stroke-width="0.9"/>
<line x1="103.09" y1="779.60" x2="103.09" y2="782.60" stroke="#3d8bcb" stroke-width="0.9"/>
<line x1="104.44" y1="779.60" x2="104.44" y2="782.60" stroke="#3d8bcb" stroke-width="0.9"/>
<line x1="108.35" y1="791.40" x2="108.35" y2="794.40" stroke="#3d8bcb" stroke-width="0.9"/>
<line x1="110.84" y1="791.40" x2="110.84" y2="794.40" stroke="#3d8bcb" stroke-width="0.9"/>
<line x1="123.29" y1="791.40" x2="123.29" y2="794.40" stroke="#3d8bcb" stroke-width="0.9"/>
<line x1="185.54" y1="791.40" x2="185.54" y2="794.40" stroke="#3d8bcb" stroke-width="0.9"/>
<line x1="32.09" y1="777.30" x2="32.09" y2="780.30" stroke="#e64a26" stroke-width="0.9"/>
<line x1="33.07" y1="777.30" x2="33.07" y2="780.30" stroke="#e64a26" stroke-width="0.9"/>
<line x1="33.63" y1="777.30" x2="33.63" y2="780.30" stroke="#e64a26" stroke-width="0.9"/>
<line x1="34.42" y1="777.30" x2="34.42" y2="780.30" stroke="#e64a26" stroke-width="0.9"/>
<line x1="36.15" y1="778.10" x2="36.15" y2="781.10" stroke="#e64a26" stroke-width="0.9"/>
<line x1="37.99" y1="779.00" x2="37.99" y2="782.00" stroke="#e64a26" stroke-width="0.9"/>
<line x1="39.66" y1="780.30" x2="39.66" y2="783.30" stroke="#e64a26" stroke-width="0.9"/>
<line x1="41.27" y1="781.10" x2="41.27" y2="784.10" stroke="#e64a26" stroke-width="0.9"/>
<line x1="44.87" y1="782.50" x2="44.87" y2="785.50" stroke="#e64a26" stroke-width="0.9"/>
<line x1="45.71" y1="783.40" x2="45.71" y2="786.40" stroke="#e64a26" stroke-width="0.9"/>
<line x1="45.71" y1="783.40" x2="45.71" y2="786.40" stroke="#e64a26" stroke-width="0.9"/>
<line x1="51.59" y1="790.40" x2="51.59" y2="793.40" stroke="#e64a26" stroke-width="0.9"/>
<line x1="53.91" y1="791.70" x2="53.91" y2="794.70" stroke="#e64a26" stroke-width="0.9"/>
<line x1="56.08" y1="791.70" x2="56.08" y2="794.70" stroke="#e64a26" stroke-width="0.9"/>
<line x1="58.97" y1="793.50" x2="58.97" y2="796.50" stroke="#e64a26" stroke-width="0.9"/>
<line x1="59.58" y1="793.50" x2="59.58" y2="796.50" stroke="#e64a26" stroke-width="0.9"/>
<line x1="59.82" y1="794.80" x2="59.82" y2="797.80" stroke="#e64a26" stroke-width="0.9"/>
<line x1="61.75" y1="794.80" x2="61.75" y2="797.80" stroke="#e64a26" stroke-width="0.9"/>
<line x1="62.99" y1="794.80" x2="62.99" y2="797.80" stroke="#e64a26" stroke-width="0.9"/>
<line x1="63.55" y1="794.80" x2="63.55" y2="797.80" stroke="#e64a26" stroke-width="0.9"/>
<line x1="63.77" y1="794.80" x2="63.77" y2="797.80" stroke="#e64a26" stroke-width="0.9"/>
<line x1="64.40" y1="794.80" x2="64.40" y2="797.80" stroke="#e64a26" stroke-width="0.9"/>
<line x1="64.51" y1="794.80" x2="64.51" y2="797.80" stroke="#e64a26" stroke-width="0.9"/>
<line x1="65.10" y1="794.80" x2="65.10" y2="797.80" stroke="#e64a26" stroke-width="0.9"/>
<line x1="71.72" y1="794.80" x2="71.72" y2="797.80" stroke="#e64a26" stroke-width="0.9"/>
<line x1="74.34" y1="794.80" x2="74.34" y2="797.80" stroke="#e64a26" stroke-width="0.9"/>
<line x1="74.64" y1="794.80" x2="74.64" y2="797.80" stroke="#e64a26" stroke-width="0.9"/>
<line x1="78.27" y1="794.80" x2="78.27" y2="797.80" stroke="#e64a26" stroke-width="0.9"/>
<line x1="78.52" y1="794.80" x2="78.52" y2="797.80" stroke="#e64a26" stroke-width="0.9"/>
<line x1="79.03" y1="794.80" x2="79.03" y2="797.80" stroke="#e64a26" stroke-width="0.9"/>
<line x1="87.60" y1="800.90" x2="87.60" y2="803.90" stroke="#e64a26" stroke-width="0.9"/>
<line x1="91.75" y1="800.90" x2="91.75" y2="803.90" stroke="#e64a26" stroke-width="0.9"/>
<line x1="95.90" y1="800.90" x2="95.90" y2="803.90" stroke="#e64a26" stroke-width="0.9"/>
<line x1="114.99" y1="800.90" x2="114.99" y2="803.90" stroke="#e64a26" stroke-width="0.9"/>
<line x1="119.14" y1="800.90" x2="119.14" y2="803.90" stroke="#e64a26" stroke-width="0.9"/>
<line x1="158.15" y1="800.90" x2="158.15" y2="803.90" stroke="#e64a26" stroke-width="0.9"/>
<line x1="20.60" y1="773.40" x2="20.60" y2="855.10" stroke="#222" stroke-width="0.9"/>
<line x1="20.60" y1="855.10" x2="203.80" y2="855.10" stroke="#222" stroke-width="0.9"/>
<line x1="18.40" y1="851.80" x2="20.60" y2="851.80" stroke="#222" stroke-width="0.9"/>
<text class="s" x="17.30" y="853.65" font-size="5.3" text-anchor="end" fill="#555">0.00</text>
<line x1="18.40" y1="833.12" x2="20.60" y2="833.12" stroke="#222" stroke-width="0.9"/>
<text class="s" x="17.30" y="834.98" font-size="5.3" text-anchor="end" fill="#555">0.25</text>
<line x1="18.40" y1="814.45" x2="20.60" y2="814.45" stroke="#222" stroke-width="0.9"/>
<text class="s" x="17.30" y="816.30" font-size="5.3" text-anchor="end" fill="#555">0.50</text>
<line x1="18.40" y1="795.77" x2="20.60" y2="795.77" stroke="#222" stroke-width="0.9"/>
<text class="s" x="17.30" y="797.62" font-size="5.3" text-anchor="end" fill="#555">0.75</text>
<line x1="18.40" y1="777.10" x2="20.60" y2="777.10" stroke="#222" stroke-width="0.9"/>
<text class="s" x="17.30" y="778.95" font-size="5.3" text-anchor="end" fill="#555">1.00</text>
<line x1="29.50" y1="855.10" x2="29.50" y2="856.90" stroke="#333" stroke-width="0.7"/>
<text class="s" x="29.50" y="861.90" font-size="5.2" text-anchor="middle" fill="#555">0</text>
<line x1="71.00" y1="855.10" x2="71.00" y2="856.90" stroke="#333" stroke-width="0.7"/>
<text class="s" x="71.00" y="861.90" font-size="5.2" text-anchor="middle" fill="#555">5</text>
<line x1="112.50" y1="855.10" x2="112.50" y2="856.90" stroke="#333" stroke-width="0.7"/>
<text class="s" x="112.50" y="861.90" font-size="5.2" text-anchor="middle" fill="#555">10</text>
<line x1="154.00" y1="855.10" x2="154.00" y2="856.90" stroke="#333" stroke-width="0.7"/>
<text class="s" x="154.00" y="861.90" font-size="5.2" text-anchor="middle" fill="#555">15</text>
<line x1="195.50" y1="855.10" x2="195.50" y2="856.90" stroke="#333" stroke-width="0.7"/>
<text class="s" x="195.50" y="861.90" font-size="5.2" text-anchor="middle" fill="#555">20</text>
<text class="s" x="112.20" y="869.90" font-size="6.4" text-anchor="middle" fill="#222">Time(years)</text>
<text class="s" x="4.40" y="813.80" font-size="6.3" text-anchor="middle" fill="#222" transform="rotate(-90 4.40 813.80)">Survival probability</text>
<text class="s" x="32.10" y="838.60" font-size="4.9" fill="#222">p &lt; 0.0001</text>
<text class="s" x="176.30" y="821.60" font-size="6.3" fill="#222">ZNF score</text>
<line x1="185.90" y1="828.30" x2="191.20" y2="828.30" stroke="#e64a26" stroke-width="0.9"/>
<line x1="188.55" y1="827.30" x2="188.55" y2="829.30" stroke="#e64a26" stroke-width="0.7"/>
<text class="s" x="194.40" y="830.00" font-size="5.0" fill="#222">high</text>
<line x1="185.90" y1="834.20" x2="191.20" y2="834.20" stroke="#3d8bcb" stroke-width="0.9"/>
<line x1="188.55" y1="833.20" x2="188.55" y2="835.20" stroke="#3d8bcb" stroke-width="0.7"/>
<text class="s" x="194.40" y="835.90" font-size="5.0" fill="#222">low</text>
<text class="s" x="20.00" y="883.00" font-size="7.7" fill="#111">Number at risk</text>
<line x1="19.80" y1="887.20" x2="19.80" y2="900.00" stroke="#333" stroke-width="0.9"/>
<line x1="19.80" y1="899.9" x2="203.80" y2="899.9" stroke="#888" stroke-width="1.5"/>
<line x1="18.30" y1="890.70" x2="19.80" y2="890.70" stroke="#333" stroke-width="0.7"/>
<text class="s" x="17.20" y="892.30" font-size="4.9" text-anchor="end" fill="#e64a26">high</text>
<text class="s" x="28.70" y="892.30" font-size="4.6" text-anchor="middle" fill="#222">100</text>
<text class="s" x="70.20" y="892.30" font-size="4.6" text-anchor="middle" fill="#222">19</text>
<text class="s" x="111.70" y="892.30" font-size="4.6" text-anchor="middle" fill="#222">3</text>
<text class="s" x="153.20" y="892.30" font-size="4.6" text-anchor="middle" fill="#222">1</text>
<text class="s" x="194.70" y="892.30" font-size="4.6" text-anchor="middle" fill="#222">0</text>
<line x1="18.30" y1="896.30" x2="19.80" y2="896.30" stroke="#333" stroke-width="0.7"/>
<text class="s" x="17.20" y="897.90" font-size="4.9" text-anchor="end" fill="#3d8bcb">low</text>
<text class="s" x="28.70" y="897.90" font-size="4.6" text-anchor="middle" fill="#222">100</text>
<text class="s" x="70.20" y="897.90" font-size="4.6" text-anchor="middle" fill="#222">33</text>
<text class="s" x="111.70" y="897.90" font-size="4.6" text-anchor="middle" fill="#222">2</text>
<text class="s" x="153.20" y="897.90" font-size="4.6" text-anchor="middle" fill="#222">1</text>
<text class="s" x="194.70" y="897.90" font-size="4.6" text-anchor="middle" fill="#222">0</text>
<line x1="28.70" y1="899.90" x2="28.70" y2="901.60" stroke="#333" stroke-width="0.7"/>
<text class="s" x="28.70" y="906.90" font-size="5.2" text-anchor="middle" fill="#555">0</text>
<line x1="70.20" y1="899.90" x2="70.20" y2="901.60" stroke="#333" stroke-width="0.7"/>
<text class="s" x="70.20" y="906.90" font-size="5.2" text-anchor="middle" fill="#555">5</text>
<line x1="111.70" y1="899.90" x2="111.70" y2="901.60" stroke="#333" stroke-width="0.7"/>
<text class="s" x="111.70" y="906.90" font-size="5.2" text-anchor="middle" fill="#555">10</text>
<line x1="153.20" y1="899.90" x2="153.20" y2="901.60" stroke="#333" stroke-width="0.7"/>
<text class="s" x="153.20" y="906.90" font-size="5.2" text-anchor="middle" fill="#555">15</text>
<line x1="194.70" y1="899.90" x2="194.70" y2="901.60" stroke="#333" stroke-width="0.7"/>
<text class="s" x="194.70" y="906.90" font-size="5.2" text-anchor="middle" fill="#555">20</text>
<text class="s" x="112.20" y="914.20" font-size="6.4" text-anchor="middle" fill="#222">Time(years)</text>
<text class="s" x="4.70" y="894.40" font-size="6.6" text-anchor="middle" fill="#222" transform="rotate(-90 4.70 894.40)">Strata</text>
<text class="r" font-size="27.0" stroke="#fff" stroke-width="0.45" transform="translate(235.22 752.80) scale(1.1325 1.0012)">N</text>
<polyline points="266.40,777.10 280.70,777.10 280.70,777.50 283.00,777.50 283.00,777.90 306.40,777.90 306.40,778.40 308.10,778.40 308.10,779.30 316.90,779.30 316.90,780.30 322.70,780.30 322.70,781.10 324.50,781.10 324.50,781.80 349.60,781.80 349.60,784.10 372.60,784.10 372.60,787.30 441.12,787.30" fill="none" stroke="#3d8bcb" stroke-width="1.25" stroke-linejoin="round" stroke-linejoin="miter"/>
<polyline points="266.40,777.10 273.10,777.10 273.10,777.60 274.30,777.60 274.30,778.40 277.20,778.40 277.20,779.10 282.40,779.10 282.40,779.30 285.40,779.30 285.40,781.10 290.00,781.10 290.00,782.80 292.40,782.80 292.40,784.20 297.00,784.20 297.00,785.20 305.20,785.20 305.20,785.40 308.10,785.40 308.10,786.90 310.50,786.90 310.50,788.50 320.40,788.50 320.40,793.10 325.60,793.10 325.60,793.70 327.40,793.70 327.40,795.10 330.90,795.10 330.90,797.40 441.12,797.40" fill="none" stroke="#e64a26" stroke-width="1.25" stroke-linejoin="round" stroke-linejoin="miter"/>
<line x1="274.26" y1="775.60" x2="274.26" y2="778.60" stroke="#3d8bcb" stroke-width="0.9"/>
<line x1="276.26" y1="775.60" x2="276.26" y2="778.60" stroke="#3d8bcb" stroke-width="0.9"/>
<line x1="277.47" y1="775.60" x2="277.47" y2="778.60" stroke="#3d8bcb" stroke-width="0.9"/>
<line x1="280.47" y1="775.60" x2="280.47" y2="778.60" stroke="#3d8bcb" stroke-width="0.9"/>
<line x1="284.95" y1="776.40" x2="284.95" y2="779.40" stroke="#3d8bcb" stroke-width="0.9"/>
<line x1="286.40" y1="776.40" x2="286.40" y2="779.40" stroke="#3d8bcb" stroke-width="0.9"/>
<line x1="290.24" y1="776.40" x2="290.24" y2="779.40" stroke="#3d8bcb" stroke-width="0.9"/>
<line x1="290.64" y1="776.40" x2="290.64" y2="779.40" stroke="#3d8bcb" stroke-width="0.9"/>
<line x1="291.34" y1="776.40" x2="291.34" y2="779.40" stroke="#3d8bcb" stroke-width="0.9"/>
<line x1="311.17" y1="777.80" x2="311.17" y2="780.80" stroke="#3d8bcb" stroke-width="0.9"/>
<line x1="311.58" y1="777.80" x2="311.58" y2="780.80" stroke="#3d8bcb" stroke-width="0.9"/>
<line x1="317.96" y1="778.80" x2="317.96" y2="781.80" stroke="#3d8bcb" stroke-width="0.9"/>
<line x1="323.42" y1="779.60" x2="323.42" y2="782.60" stroke="#3d8bcb" stroke-width="0.9"/>
<line x1="324.40" y1="779.60" x2="324.40" y2="782.60" stroke="#3d8bcb" stroke-width="0.9"/>
<line x1="331.74" y1="780.30" x2="331.74" y2="783.30" stroke="#3d8bcb" stroke-width="0.9"/>
<line x1="335.56" y1="780.30" x2="335.56" y2="783.30" stroke="#3d8bcb" stroke-width="0.9"/>
<line x1="337.39" y1="780.30" x2="337.39" y2="783.30" stroke="#3d8bcb" stroke-width="0.9"/>
<line x1="339.15" y1="780.30" x2="339.15" y2="783.30" stroke="#3d8bcb" stroke-width="0.9"/>
<line x1="348.32" y1="780.30" x2="348.32" y2="783.30" stroke="#3d8bcb" stroke-width="0.9"/>
<line x1="356.24" y1="782.60" x2="356.24" y2="785.60" stroke="#3d8bcb" stroke-width="0.9"/>
<line x1="362.53" y1="782.60" x2="362.53" y2="785.60" stroke="#3d8bcb" stroke-width="0.9"/>
<line x1="363.51" y1="782.60" x2="363.51" y2="785.60" stroke="#3d8bcb" stroke-width="0.9"/>
<line x1="367.47" y1="782.60" x2="367.47" y2="785.60" stroke="#3d8bcb" stroke-width="0.9"/>
<line x1="369.12" y1="782.60" x2="369.12" y2="785.60" stroke="#3d8bcb" stroke-width="0.9"/>
<line x1="374.71" y1="785.80" x2="374.71" y2="788.80" stroke="#3d8bcb" stroke-width="0.9"/>
<line x1="378.62" y1="785.80" x2="378.62" y2="788.80" stroke="#3d8bcb" stroke-width="0.9"/>
<line x1="379.88" y1="785.80" x2="379.88" y2="788.80" stroke="#3d8bcb" stroke-width="0.9"/>
<line x1="380.81" y1="785.80" x2="380.81" y2="788.80" stroke="#3d8bcb" stroke-width="0.9"/>
<line x1="387.23" y1="785.80" x2="387.23" y2="788.80" stroke="#3d8bcb" stroke-width="0.9"/>
<line x1="391.72" y1="785.80" x2="391.72" y2="788.80" stroke="#3d8bcb" stroke-width="0.9"/>
<line x1="392.51" y1="785.80" x2="392.51" y2="788.80" stroke="#3d8bcb" stroke-width="0.9"/>
<line x1="398.94" y1="785.80" x2="398.94" y2="788.80" stroke="#3d8bcb" stroke-width="0.9"/>
<line x1="406.34" y1="785.80" x2="406.34" y2="788.80" stroke="#3d8bcb" stroke-width="0.9"/>
<line x1="410.40" y1="785.80" x2="410.40" y2="788.80" stroke="#3d8bcb" stroke-width="0.9"/>
<line x1="410.43" y1="785.80" x2="410.43" y2="788.80" stroke="#3d8bcb" stroke-width="0.9"/>
<line x1="413.63" y1="785.80" x2="413.63" y2="788.80" stroke="#3d8bcb" stroke-width="0.9"/>
<line x1="415.45" y1="785.80" x2="415.45" y2="788.80" stroke="#3d8bcb" stroke-width="0.9"/>
<line x1="416.33" y1="785.80" x2="416.33" y2="788.80" stroke="#3d8bcb" stroke-width="0.9"/>
<line x1="418.56" y1="785.80" x2="418.56" y2="788.80" stroke="#3d8bcb" stroke-width="0.9"/>
<line x1="418.97" y1="785.80" x2="418.97" y2="788.80" stroke="#3d8bcb" stroke-width="0.9"/>
<line x1="420.00" y1="785.80" x2="420.00" y2="788.80" stroke="#3d8bcb" stroke-width="0.9"/>
<line x1="420.28" y1="785.80" x2="420.28" y2="788.80" stroke="#3d8bcb" stroke-width="0.9"/>
<line x1="425.75" y1="785.80" x2="425.75" y2="788.80" stroke="#3d8bcb" stroke-width="0.9"/>
<line x1="430.92" y1="785.80" x2="430.92" y2="788.80" stroke="#3d8bcb" stroke-width="0.9"/>
<line x1="434.95" y1="785.80" x2="434.95" y2="788.80" stroke="#3d8bcb" stroke-width="0.9"/>
<line x1="278.45" y1="777.60" x2="278.45" y2="780.60" stroke="#e64a26" stroke-width="0.9"/>
<line x1="282.39" y1="777.60" x2="282.39" y2="780.60" stroke="#e64a26" stroke-width="0.9"/>
<line x1="289.97" y1="779.60" x2="289.97" y2="782.60" stroke="#e64a26" stroke-width="0.9"/>
<line x1="293.46" y1="782.70" x2="293.46" y2="785.70" stroke="#e64a26" stroke-width="0.9"/>
<line x1="295.35" y1="782.70" x2="295.35" y2="785.70" stroke="#e64a26" stroke-width="0.9"/>
<line x1="296.40" y1="782.70" x2="296.40" y2="785.70" stroke="#e64a26" stroke-width="0.9"/>
<line x1="298.06" y1="783.70" x2="298.06" y2="786.70" stroke="#e64a26" stroke-width="0.9"/>
<line x1="307.35" y1="783.90" x2="307.35" y2="786.90" stroke="#e64a26" stroke-width="0.9"/>
<line x1="315.82" y1="787.00" x2="315.82" y2="790.00" stroke="#e64a26" stroke-width="0.9"/>
<line x1="326.10" y1="792.20" x2="326.10" y2="795.20" stroke="#e64a26" stroke-width="0.9"/>
<line x1="326.27" y1="792.20" x2="326.27" y2="795.20" stroke="#e64a26" stroke-width="0.9"/>
<line x1="327.91" y1="793.60" x2="327.91" y2="796.60" stroke="#e64a26" stroke-width="0.9"/>
<line x1="328.14" y1="793.60" x2="328.14" y2="796.60" stroke="#e64a26" stroke-width="0.9"/>
<line x1="328.50" y1="793.60" x2="328.50" y2="796.60" stroke="#e64a26" stroke-width="0.9"/>
<line x1="341.70" y1="795.90" x2="341.70" y2="798.90" stroke="#e64a26" stroke-width="0.9"/>
<line x1="355.71" y1="795.90" x2="355.71" y2="798.90" stroke="#e64a26" stroke-width="0.9"/>
<line x1="365.13" y1="795.90" x2="365.13" y2="798.90" stroke="#e64a26" stroke-width="0.9"/>
<line x1="368.03" y1="795.90" x2="368.03" y2="798.90" stroke="#e64a26" stroke-width="0.9"/>
<line x1="369.82" y1="795.90" x2="369.82" y2="798.90" stroke="#e64a26" stroke-width="0.9"/>
<line x1="371.24" y1="795.90" x2="371.24" y2="798.90" stroke="#e64a26" stroke-width="0.9"/>
<line x1="374.54" y1="795.90" x2="374.54" y2="798.90" stroke="#e64a26" stroke-width="0.9"/>
<line x1="389.44" y1="795.90" x2="389.44" y2="798.90" stroke="#e64a26" stroke-width="0.9"/>
<line x1="393.41" y1="795.90" x2="393.41" y2="798.90" stroke="#e64a26" stroke-width="0.9"/>
<line x1="398.96" y1="795.90" x2="398.96" y2="798.90" stroke="#e64a26" stroke-width="0.9"/>
<line x1="399.46" y1="795.90" x2="399.46" y2="798.90" stroke="#e64a26" stroke-width="0.9"/>
<line x1="401.41" y1="795.90" x2="401.41" y2="798.90" stroke="#e64a26" stroke-width="0.9"/>
<line x1="403.15" y1="795.90" x2="403.15" y2="798.90" stroke="#e64a26" stroke-width="0.9"/>
<line x1="409.53" y1="795.90" x2="409.53" y2="798.90" stroke="#e64a26" stroke-width="0.9"/>
<line x1="411.32" y1="795.90" x2="411.32" y2="798.90" stroke="#e64a26" stroke-width="0.9"/>
<line x1="413.30" y1="795.90" x2="413.30" y2="798.90" stroke="#e64a26" stroke-width="0.9"/>
<line x1="415.35" y1="795.90" x2="415.35" y2="798.90" stroke="#e64a26" stroke-width="0.9"/>
<line x1="418.29" y1="795.90" x2="418.29" y2="798.90" stroke="#e64a26" stroke-width="0.9"/>
<line x1="421.47" y1="795.90" x2="421.47" y2="798.90" stroke="#e64a26" stroke-width="0.9"/>
<line x1="426.54" y1="795.90" x2="426.54" y2="798.90" stroke="#e64a26" stroke-width="0.9"/>
<line x1="426.74" y1="795.90" x2="426.74" y2="798.90" stroke="#e64a26" stroke-width="0.9"/>
<line x1="431.22" y1="795.90" x2="431.22" y2="798.90" stroke="#e64a26" stroke-width="0.9"/>
<line x1="434.89" y1="795.90" x2="434.89" y2="798.90" stroke="#e64a26" stroke-width="0.9"/>
<line x1="438.07" y1="795.90" x2="438.07" y2="798.90" stroke="#e64a26" stroke-width="0.9"/>
<line x1="258.40" y1="773.40" x2="258.40" y2="855.10" stroke="#222" stroke-width="0.9"/>
<line x1="258.40" y1="855.10" x2="441.10" y2="855.10" stroke="#222" stroke-width="0.9"/>
<line x1="256.20" y1="851.80" x2="258.40" y2="851.80" stroke="#222" stroke-width="0.9"/>
<text class="s" x="255.10" y="853.65" font-size="5.3" text-anchor="end" fill="#555">0.00</text>
<line x1="256.20" y1="833.12" x2="258.40" y2="833.12" stroke="#222" stroke-width="0.9"/>
<text class="s" x="255.10" y="834.98" font-size="5.3" text-anchor="end" fill="#555">0.25</text>
<line x1="256.20" y1="814.45" x2="258.40" y2="814.45" stroke="#222" stroke-width="0.9"/>
<text class="s" x="255.10" y="816.30" font-size="5.3" text-anchor="end" fill="#555">0.50</text>
<line x1="256.20" y1="795.77" x2="258.40" y2="795.77" stroke="#222" stroke-width="0.9"/>
<text class="s" x="255.10" y="797.62" font-size="5.3" text-anchor="end" fill="#555">0.75</text>
<line x1="256.20" y1="777.10" x2="258.40" y2="777.10" stroke="#222" stroke-width="0.9"/>
<text class="s" x="255.10" y="778.95" font-size="5.3" text-anchor="end" fill="#555">1.00</text>
<line x1="266.40" y1="855.10" x2="266.40" y2="856.90" stroke="#333" stroke-width="0.7"/>
<text class="s" x="266.40" y="861.90" font-size="5.2" text-anchor="middle" fill="#555">0</text>
<line x1="308.00" y1="855.10" x2="308.00" y2="856.90" stroke="#333" stroke-width="0.7"/>
<text class="s" x="308.00" y="861.90" font-size="5.2" text-anchor="middle" fill="#555">2</text>
<line x1="349.60" y1="855.10" x2="349.60" y2="856.90" stroke="#333" stroke-width="0.7"/>
<text class="s" x="349.60" y="861.90" font-size="5.2" text-anchor="middle" fill="#555">4</text>
<line x1="391.20" y1="855.10" x2="391.20" y2="856.90" stroke="#333" stroke-width="0.7"/>
<text class="s" x="391.20" y="861.90" font-size="5.2" text-anchor="middle" fill="#555">6</text>
<line x1="432.80" y1="855.10" x2="432.80" y2="856.90" stroke="#333" stroke-width="0.7"/>
<text class="s" x="432.80" y="861.90" font-size="5.2" text-anchor="middle" fill="#555">8</text>
<text class="s" x="349.75" y="869.90" font-size="6.4" text-anchor="middle" fill="#222">Time(years)</text>
<text class="s" x="242.20" y="813.80" font-size="6.3" text-anchor="middle" fill="#222" transform="rotate(-90 242.20 813.80)">Survival probability</text>
<text class="s" x="269.00" y="838.60" font-size="4.9" fill="#222">p = 0.0085</text>
<text class="s" x="413.50" y="821.60" font-size="6.3" fill="#222">ZNF score</text>
<line x1="423.10" y1="828.30" x2="428.40" y2="828.30" stroke="#e64a26" stroke-width="0.9"/>
<line x1="425.75" y1="827.30" x2="425.75" y2="829.30" stroke="#e64a26" stroke-width="0.7"/>
<text class="s" x="431.60" y="830.00" font-size="5.0" fill="#222">high</text>
<line x1="423.10" y1="834.20" x2="428.40" y2="834.20" stroke="#3d8bcb" stroke-width="0.9"/>
<line x1="425.75" y1="833.20" x2="425.75" y2="835.20" stroke="#3d8bcb" stroke-width="0.7"/>
<text class="s" x="431.60" y="835.90" font-size="5.0" fill="#222">low</text>
<text class="s" x="257.80" y="883.00" font-size="7.7" fill="#111">Number at risk</text>
<line x1="257.60" y1="887.20" x2="257.60" y2="900.00" stroke="#333" stroke-width="0.9"/>
<line x1="257.60" y1="899.9" x2="441.10" y2="899.9" stroke="#888" stroke-width="1.5"/>
<line x1="256.10" y1="890.70" x2="257.60" y2="890.70" stroke="#333" stroke-width="0.7"/>
<text class="s" x="255.00" y="892.30" font-size="4.9" text-anchor="end" fill="#e64a26">high</text>
<text class="s" x="265.60" y="892.30" font-size="4.6" text-anchor="middle" fill="#222">99</text>
<text class="s" x="307.20" y="892.30" font-size="4.6" text-anchor="middle" fill="#222">45</text>
<text class="s" x="348.80" y="892.30" font-size="4.6" text-anchor="middle" fill="#222">21</text>
<text class="s" x="390.40" y="892.30" font-size="4.6" text-anchor="middle" fill="#222">11</text>
<text class="s" x="432.00" y="892.30" font-size="4.6" text-anchor="middle" fill="#222">2</text>
<line x1="256.10" y1="896.30" x2="257.60" y2="896.30" stroke="#333" stroke-width="0.7"/>
<text class="s" x="255.00" y="897.90" font-size="4.9" text-anchor="end" fill="#3d8bcb">low</text>
<text class="s" x="265.60" y="897.90" font-size="4.6" text-anchor="middle" fill="#222">100</text>
<text class="s" x="307.20" y="897.90" font-size="4.6" text-anchor="middle" fill="#222">68</text>
<text class="s" x="348.80" y="897.90" font-size="4.6" text-anchor="middle" fill="#222">37</text>
<text class="s" x="390.40" y="897.90" font-size="4.6" text-anchor="middle" fill="#222">12</text>
<text class="s" x="432.00" y="897.90" font-size="4.6" text-anchor="middle" fill="#222">2</text>
<line x1="265.60" y1="899.90" x2="265.60" y2="901.60" stroke="#333" stroke-width="0.7"/>
<text class="s" x="265.60" y="906.90" font-size="5.2" text-anchor="middle" fill="#555">0</text>
<line x1="307.20" y1="899.90" x2="307.20" y2="901.60" stroke="#333" stroke-width="0.7"/>
<text class="s" x="307.20" y="906.90" font-size="5.2" text-anchor="middle" fill="#555">2</text>
<line x1="348.80" y1="899.90" x2="348.80" y2="901.60" stroke="#333" stroke-width="0.7"/>
<text class="s" x="348.80" y="906.90" font-size="5.2" text-anchor="middle" fill="#555">4</text>
<line x1="390.40" y1="899.90" x2="390.40" y2="901.60" stroke="#333" stroke-width="0.7"/>
<text class="s" x="390.40" y="906.90" font-size="5.2" text-anchor="middle" fill="#555">6</text>
<line x1="432.00" y1="899.90" x2="432.00" y2="901.60" stroke="#333" stroke-width="0.7"/>
<text class="s" x="432.00" y="906.90" font-size="5.2" text-anchor="middle" fill="#555">8</text>
<text class="s" x="349.75" y="914.20" font-size="6.4" text-anchor="middle" fill="#222">Time(years)</text>
<text class="s" x="242.50" y="894.40" font-size="6.6" text-anchor="middle" fill="#222" transform="rotate(-90 242.50 894.40)">Strata</text>
<text class="r" font-size="27.0" stroke="#fff" stroke-width="0.45" transform="translate(462.36 752.73) scale(1.1165 1.0198)">O</text>
<polyline points="504.10,777.10 510.50,777.10 510.50,777.60 516.00,777.60 516.00,778.20 521.00,778.20 521.00,778.60 526.30,778.60 526.30,779.60 531.00,779.60 531.00,780.60 535.50,780.60 535.50,781.60 544.70,781.60 544.70,782.40 546.60,782.40 546.60,783.40 582.10,783.40 582.10,795.00 660.56,795.00" fill="none" stroke="#3d8bcb" stroke-width="1.25" stroke-linejoin="round" stroke-linejoin="miter"/>
<polyline points="504.10,777.10 506.50,777.10 506.50,777.80 509.20,777.80 509.20,779.20 511.00,779.20 511.00,780.50 513.10,780.50 513.10,781.80 515.00,781.80 515.00,783.20 517.10,783.20 517.10,784.50 521.00,784.50 521.00,785.80 523.60,785.80 523.60,788.40 526.30,788.40 526.30,791.70 528.90,791.70 528.90,793.70 531.50,793.70 531.50,795.60 535.50,795.60 535.50,796.90 555.20,796.90 555.20,799.60 574.00,799.60" fill="none" stroke="#e64a26" stroke-width="1.25" stroke-linejoin="round" stroke-linejoin="miter"/>
<line x1="574.00" y1="799.60" x2="633.17" y2="799.60" stroke="#f4a28c" stroke-width="1.5"/>
<line x1="507.46" y1="775.60" x2="507.46" y2="778.60" stroke="#3d8bcb" stroke-width="0.9"/>
<line x1="508.03" y1="775.60" x2="508.03" y2="778.60" stroke="#3d8bcb" stroke-width="0.9"/>
<line x1="509.29" y1="775.60" x2="509.29" y2="778.60" stroke="#3d8bcb" stroke-width="0.9"/>
<line x1="511.71" y1="776.10" x2="511.71" y2="779.10" stroke="#3d8bcb" stroke-width="0.9"/>
<line x1="511.77" y1="776.10" x2="511.77" y2="779.10" stroke="#3d8bcb" stroke-width="0.9"/>
<line x1="511.87" y1="776.10" x2="511.87" y2="779.10" stroke="#3d8bcb" stroke-width="0.9"/>
<line x1="512.84" y1="776.10" x2="512.84" y2="779.10" stroke="#3d8bcb" stroke-width="0.9"/>
<line x1="516.14" y1="776.70" x2="516.14" y2="779.70" stroke="#3d8bcb" stroke-width="0.9"/>
<line x1="518.05" y1="776.70" x2="518.05" y2="779.70" stroke="#3d8bcb" stroke-width="0.9"/>
<line x1="519.78" y1="776.70" x2="519.78" y2="779.70" stroke="#3d8bcb" stroke-width="0.9"/>
<line x1="524.01" y1="777.10" x2="524.01" y2="780.10" stroke="#3d8bcb" stroke-width="0.9"/>
<line x1="528.96" y1="778.10" x2="528.96" y2="781.10" stroke="#3d8bcb" stroke-width="0.9"/>
<line x1="529.20" y1="778.10" x2="529.20" y2="781.10" stroke="#3d8bcb" stroke-width="0.9"/>
<line x1="530.51" y1="778.10" x2="530.51" y2="781.10" stroke="#3d8bcb" stroke-width="0.9"/>
<line x1="532.70" y1="779.10" x2="532.70" y2="782.10" stroke="#3d8bcb" stroke-width="0.9"/>
<line x1="534.01" y1="779.10" x2="534.01" y2="782.10" stroke="#3d8bcb" stroke-width="0.9"/>
<line x1="534.61" y1="779.10" x2="534.61" y2="782.10" stroke="#3d8bcb" stroke-width="0.9"/>
<line x1="537.47" y1="780.10" x2="537.47" y2="783.10" stroke="#3d8bcb" stroke-width="0.9"/>
<line x1="537.50" y1="780.10" x2="537.50" y2="783.10" stroke="#3d8bcb" stroke-width="0.9"/>
<line x1="537.92" y1="780.10" x2="537.92" y2="783.10" stroke="#3d8bcb" stroke-width="0.9"/>
<line x1="538.08" y1="780.10" x2="538.08" y2="783.10" stroke="#3d8bcb" stroke-width="0.9"/>
<line x1="538.32" y1="780.10" x2="538.32" y2="783.10" stroke="#3d8bcb" stroke-width="0.9"/>
<line x1="541.30" y1="780.10" x2="541.30" y2="783.10" stroke="#3d8bcb" stroke-width="0.9"/>
<line x1="541.82" y1="780.10" x2="541.82" y2="783.10" stroke="#3d8bcb" stroke-width="0.9"/>
<line x1="542.82" y1="780.10" x2="542.82" y2="783.10" stroke="#3d8bcb" stroke-width="0.9"/>
<line x1="545.25" y1="780.90" x2="545.25" y2="783.90" stroke="#3d8bcb" stroke-width="0.9"/>
<line x1="546.07" y1="780.90" x2="546.07" y2="783.90" stroke="#3d8bcb" stroke-width="0.9"/>
<line x1="546.82" y1="781.90" x2="546.82" y2="784.90" stroke="#3d8bcb" stroke-width="0.9"/>
<line x1="547.55" y1="781.90" x2="547.55" y2="784.90" stroke="#3d8bcb" stroke-width="0.9"/>
<line x1="547.80" y1="781.90" x2="547.80" y2="784.90" stroke="#3d8bcb" stroke-width="0.9"/>
<line x1="548.78" y1="781.90" x2="548.78" y2="784.90" stroke="#3d8bcb" stroke-width="0.9"/>
<line x1="549.08" y1="781.90" x2="549.08" y2="784.90" stroke="#3d8bcb" stroke-width="0.9"/>
<line x1="550.42" y1="781.90" x2="550.42" y2="784.90" stroke="#3d8bcb" stroke-width="0.9"/>
<line x1="552.51" y1="781.90" x2="552.51" y2="784.90" stroke="#3d8bcb" stroke-width="0.9"/>
<line x1="553.83" y1="781.90" x2="553.83" y2="784.90" stroke="#3d8bcb" stroke-width="0.9"/>
<line x1="560.35" y1="781.90" x2="560.35" y2="784.90" stroke="#3d8bcb" stroke-width="0.9"/>
<line x1="561.61" y1="781.90" x2="561.61" y2="784.90" stroke="#3d8bcb" stroke-width="0.9"/>
<line x1="563.64" y1="781.90" x2="563.64" y2="784.90" stroke="#3d8bcb" stroke-width="0.9"/>
<line x1="564.73" y1="781.90" x2="564.73" y2="784.90" stroke="#3d8bcb" stroke-width="0.9"/>
<line x1="566.46" y1="781.90" x2="566.46" y2="784.90" stroke="#3d8bcb" stroke-width="0.9"/>
<line x1="567.49" y1="781.90" x2="567.49" y2="784.90" stroke="#3d8bcb" stroke-width="0.9"/>
<line x1="567.59" y1="781.90" x2="567.59" y2="784.90" stroke="#3d8bcb" stroke-width="0.9"/>
<line x1="568.11" y1="781.90" x2="568.11" y2="784.90" stroke="#3d8bcb" stroke-width="0.9"/>
<line x1="569.69" y1="781.90" x2="569.69" y2="784.90" stroke="#3d8bcb" stroke-width="0.9"/>
<line x1="570.45" y1="781.90" x2="570.45" y2="784.90" stroke="#3d8bcb" stroke-width="0.9"/>
<line x1="573.76" y1="781.90" x2="573.76" y2="784.90" stroke="#3d8bcb" stroke-width="0.9"/>
<line x1="578.91" y1="781.90" x2="578.91" y2="784.90" stroke="#3d8bcb" stroke-width="0.9"/>
<line x1="579.37" y1="781.90" x2="579.37" y2="784.90" stroke="#3d8bcb" stroke-width="0.9"/>
<line x1="580.17" y1="781.90" x2="580.17" y2="784.90" stroke="#3d8bcb" stroke-width="0.9"/>
<line x1="581.18" y1="781.90" x2="581.18" y2="784.90" stroke="#3d8bcb" stroke-width="0.9"/>
<line x1="582.95" y1="793.50" x2="582.95" y2="796.50" stroke="#3d8bcb" stroke-width="0.9"/>
<line x1="585.44" y1="793.50" x2="585.44" y2="796.50" stroke="#3d8bcb" stroke-width="0.9"/>
<line x1="597.89" y1="793.50" x2="597.89" y2="796.50" stroke="#3d8bcb" stroke-width="0.9"/>
<line x1="660.14" y1="793.50" x2="660.14" y2="796.50" stroke="#3d8bcb" stroke-width="0.9"/>
<line x1="507.37" y1="776.30" x2="507.37" y2="779.30" stroke="#e64a26" stroke-width="0.9"/>
<line x1="508.39" y1="776.30" x2="508.39" y2="779.30" stroke="#e64a26" stroke-width="0.9"/>
<line x1="510.19" y1="777.70" x2="510.19" y2="780.70" stroke="#e64a26" stroke-width="0.9"/>
<line x1="510.34" y1="777.70" x2="510.34" y2="780.70" stroke="#e64a26" stroke-width="0.9"/>
<line x1="511.13" y1="779.00" x2="511.13" y2="782.00" stroke="#e64a26" stroke-width="0.9"/>
<line x1="513.16" y1="780.30" x2="513.16" y2="783.30" stroke="#e64a26" stroke-width="0.9"/>
<line x1="513.94" y1="780.30" x2="513.94" y2="783.30" stroke="#e64a26" stroke-width="0.9"/>
<line x1="515.95" y1="781.70" x2="515.95" y2="784.70" stroke="#e64a26" stroke-width="0.9"/>
<line x1="516.19" y1="781.70" x2="516.19" y2="784.70" stroke="#e64a26" stroke-width="0.9"/>
<line x1="516.48" y1="781.70" x2="516.48" y2="784.70" stroke="#e64a26" stroke-width="0.9"/>
<line x1="516.90" y1="781.70" x2="516.90" y2="784.70" stroke="#e64a26" stroke-width="0.9"/>
<line x1="517.76" y1="783.00" x2="517.76" y2="786.00" stroke="#e64a26" stroke-width="0.9"/>
<line x1="518.03" y1="783.00" x2="518.03" y2="786.00" stroke="#e64a26" stroke-width="0.9"/>
<line x1="520.55" y1="783.00" x2="520.55" y2="786.00" stroke="#e64a26" stroke-width="0.9"/>
<line x1="522.29" y1="784.30" x2="522.29" y2="787.30" stroke="#e64a26" stroke-width="0.9"/>
<line x1="522.86" y1="784.30" x2="522.86" y2="787.30" stroke="#e64a26" stroke-width="0.9"/>
<line x1="523.10" y1="784.30" x2="523.10" y2="787.30" stroke="#e64a26" stroke-width="0.9"/>
<line x1="523.75" y1="786.90" x2="523.75" y2="789.90" stroke="#e64a26" stroke-width="0.9"/>
<line x1="525.16" y1="786.90" x2="525.16" y2="789.90" stroke="#e64a26" stroke-width="0.9"/>
<line x1="525.52" y1="786.90" x2="525.52" y2="789.90" stroke="#e64a26" stroke-width="0.9"/>
<line x1="526.06" y1="786.90" x2="526.06" y2="789.90" stroke="#e64a26" stroke-width="0.9"/>
<line x1="529.15" y1="792.20" x2="529.15" y2="795.20" stroke="#e64a26" stroke-width="0.9"/>
<line x1="529.44" y1="792.20" x2="529.44" y2="795.20" stroke="#e64a26" stroke-width="0.9"/>
<line x1="532.53" y1="794.10" x2="532.53" y2="797.10" stroke="#e64a26" stroke-width="0.9"/>
<line x1="532.82" y1="794.10" x2="532.82" y2="797.10" stroke="#e64a26" stroke-width="0.9"/>
<line x1="533.69" y1="794.10" x2="533.69" y2="797.10" stroke="#e64a26" stroke-width="0.9"/>
<line x1="534.87" y1="794.10" x2="534.87" y2="797.10" stroke="#e64a26" stroke-width="0.9"/>
<line x1="536.71" y1="795.40" x2="536.71" y2="798.40" stroke="#e64a26" stroke-width="0.9"/>
<line x1="541.03" y1="795.40" x2="541.03" y2="798.40" stroke="#e64a26" stroke-width="0.9"/>
<line x1="541.18" y1="795.40" x2="541.18" y2="798.40" stroke="#e64a26" stroke-width="0.9"/>
<line x1="541.82" y1="795.40" x2="541.82" y2="798.40" stroke="#e64a26" stroke-width="0.9"/>
<line x1="541.90" y1="795.40" x2="541.90" y2="798.40" stroke="#e64a26" stroke-width="0.9"/>
<line x1="543.61" y1="795.40" x2="543.61" y2="798.40" stroke="#e64a26" stroke-width="0.9"/>
<line x1="543.84" y1="795.40" x2="543.84" y2="798.40" stroke="#e64a26" stroke-width="0.9"/>
<line x1="544.55" y1="795.40" x2="544.55" y2="798.40" stroke="#e64a26" stroke-width="0.9"/>
<line x1="546.89" y1="795.40" x2="546.89" y2="798.40" stroke="#e64a26" stroke-width="0.9"/>
<line x1="549.53" y1="795.40" x2="549.53" y2="798.40" stroke="#e64a26" stroke-width="0.9"/>
<line x1="551.13" y1="795.40" x2="551.13" y2="798.40" stroke="#e64a26" stroke-width="0.9"/>
<line x1="551.17" y1="795.40" x2="551.17" y2="798.40" stroke="#e64a26" stroke-width="0.9"/>
<line x1="553.49" y1="795.40" x2="553.49" y2="798.40" stroke="#e64a26" stroke-width="0.9"/>
<line x1="556.87" y1="798.10" x2="556.87" y2="801.10" stroke="#e64a26" stroke-width="0.9"/>
<line x1="557.66" y1="798.10" x2="557.66" y2="801.10" stroke="#e64a26" stroke-width="0.9"/>
<line x1="562.78" y1="798.10" x2="562.78" y2="801.10" stroke="#e64a26" stroke-width="0.9"/>
<line x1="565.76" y1="798.10" x2="565.76" y2="801.10" stroke="#e64a26" stroke-width="0.9"/>
<line x1="567.81" y1="798.10" x2="567.81" y2="801.10" stroke="#e64a26" stroke-width="0.9"/>
<line x1="568.08" y1="798.10" x2="568.08" y2="801.10" stroke="#e64a26" stroke-width="0.9"/>
<line x1="571.97" y1="798.10" x2="571.97" y2="801.10" stroke="#e64a26" stroke-width="0.9"/>
<line x1="576.36" y1="798.10" x2="576.36" y2="801.10" stroke="#f08a70" stroke-width="0.9"/>
<line x1="578.39" y1="798.10" x2="578.39" y2="801.10" stroke="#f08a70" stroke-width="0.9"/>
<line x1="578.79" y1="798.10" x2="578.79" y2="801.10" stroke="#f08a70" stroke-width="0.9"/>
<line x1="589.59" y1="798.10" x2="589.59" y2="801.10" stroke="#f08a70" stroke-width="0.9"/>
<line x1="593.74" y1="798.10" x2="593.74" y2="801.10" stroke="#f08a70" stroke-width="0.9"/>
<line x1="632.75" y1="798.10" x2="632.75" y2="801.10" stroke="#f08a70" stroke-width="0.9"/>
<line x1="495.60" y1="773.40" x2="495.60" y2="855.10" stroke="#222" stroke-width="0.9"/>
<line x1="495.60" y1="855.10" x2="678.40" y2="855.10" stroke="#222" stroke-width="0.9"/>
<line x1="493.40" y1="851.80" x2="495.60" y2="851.80" stroke="#222" stroke-width="0.9"/>
<text class="s" x="492.30" y="853.65" font-size="5.3" text-anchor="end" fill="#555">0.00</text>
<line x1="493.40" y1="833.12" x2="495.60" y2="833.12" stroke="#222" stroke-width="0.9"/>
<text class="s" x="492.30" y="834.98" font-size="5.3" text-anchor="end" fill="#555">0.25</text>
<line x1="493.40" y1="814.45" x2="495.60" y2="814.45" stroke="#222" stroke-width="0.9"/>
<text class="s" x="492.30" y="816.30" font-size="5.3" text-anchor="end" fill="#555">0.50</text>
<line x1="493.40" y1="795.77" x2="495.60" y2="795.77" stroke="#222" stroke-width="0.9"/>
<text class="s" x="492.30" y="797.62" font-size="5.3" text-anchor="end" fill="#555">0.75</text>
<line x1="493.40" y1="777.10" x2="495.60" y2="777.10" stroke="#222" stroke-width="0.9"/>
<text class="s" x="492.30" y="778.95" font-size="5.3" text-anchor="end" fill="#555">1.00</text>
<line x1="504.10" y1="855.10" x2="504.10" y2="856.90" stroke="#333" stroke-width="0.7"/>
<text class="s" x="504.10" y="861.90" font-size="5.2" text-anchor="middle" fill="#555">0</text>
<line x1="545.60" y1="855.10" x2="545.60" y2="856.90" stroke="#333" stroke-width="0.7"/>
<text class="s" x="545.60" y="861.90" font-size="5.2" text-anchor="middle" fill="#555">5</text>
<line x1="587.10" y1="855.10" x2="587.10" y2="856.90" stroke="#333" stroke-width="0.7"/>
<text class="s" x="587.10" y="861.90" font-size="5.2" text-anchor="middle" fill="#555">10</text>
<line x1="628.60" y1="855.10" x2="628.60" y2="856.90" stroke="#333" stroke-width="0.7"/>
<text class="s" x="628.60" y="861.90" font-size="5.2" text-anchor="middle" fill="#555">15</text>
<line x1="670.10" y1="855.10" x2="670.10" y2="856.90" stroke="#333" stroke-width="0.7"/>
<text class="s" x="670.10" y="861.90" font-size="5.2" text-anchor="middle" fill="#555">20</text>
<text class="s" x="587.00" y="869.90" font-size="6.4" text-anchor="middle" fill="#222">Time(years)</text>
<text class="s" x="479.40" y="813.80" font-size="6.3" text-anchor="middle" fill="#222" transform="rotate(-90 479.40 813.80)">Survival probability</text>
<text class="s" x="506.70" y="838.60" font-size="4.9" fill="#222">p &lt; 0.0001</text>
<text class="s" x="651.20" y="821.60" font-size="6.3" fill="#222">ZNF score</text>
<line x1="660.80" y1="828.30" x2="666.10" y2="828.30" stroke="#e64a26" stroke-width="0.9"/>
<line x1="663.45" y1="827.30" x2="663.45" y2="829.30" stroke="#e64a26" stroke-width="0.7"/>
<text class="s" x="669.30" y="830.00" font-size="5.0" fill="#222">high</text>
<line x1="660.80" y1="834.20" x2="666.10" y2="834.20" stroke="#3d8bcb" stroke-width="0.9"/>
<line x1="663.45" y1="833.20" x2="663.45" y2="835.20" stroke="#3d8bcb" stroke-width="0.7"/>
<text class="s" x="669.30" y="835.90" font-size="5.0" fill="#222">low</text>
<text class="s" x="495.00" y="883.00" font-size="7.7" fill="#111">Number at risk</text>
<line x1="494.80" y1="887.20" x2="494.80" y2="900.00" stroke="#333" stroke-width="0.9"/>
<line x1="494.80" y1="899.9" x2="678.40" y2="899.9" stroke="#888" stroke-width="1.5"/>
<line x1="493.30" y1="890.70" x2="494.80" y2="890.70" stroke="#333" stroke-width="0.7"/>
<text class="s" x="492.20" y="892.30" font-size="4.9" text-anchor="end" fill="#e64a26">high</text>
<text class="s" x="503.30" y="892.30" font-size="4.6" text-anchor="middle" fill="#222">199</text>
<text class="s" x="544.80" y="892.30" font-size="4.6" text-anchor="middle" fill="#222">36</text>
<text class="s" x="586.30" y="892.30" font-size="4.6" text-anchor="middle" fill="#222">3</text>
<text class="s" x="627.80" y="892.30" font-size="4.6" text-anchor="middle" fill="#222">1</text>
<text class="s" x="669.30" y="892.30" font-size="4.6" text-anchor="middle" fill="#222">0</text>
<line x1="493.30" y1="896.30" x2="494.80" y2="896.30" stroke="#333" stroke-width="0.7"/>
<text class="s" x="492.20" y="897.90" font-size="4.9" text-anchor="end" fill="#3d8bcb">low</text>
<text class="s" x="503.30" y="897.90" font-size="4.6" text-anchor="middle" fill="#222">200</text>
<text class="s" x="544.80" y="897.90" font-size="4.6" text-anchor="middle" fill="#222">56</text>
<text class="s" x="586.30" y="897.90" font-size="4.6" text-anchor="middle" fill="#222">2</text>
<text class="s" x="627.80" y="897.90" font-size="4.6" text-anchor="middle" fill="#222">1</text>
<text class="s" x="669.30" y="897.90" font-size="4.6" text-anchor="middle" fill="#222">0</text>
<line x1="503.30" y1="899.90" x2="503.30" y2="901.60" stroke="#333" stroke-width="0.7"/>
<text class="s" x="503.30" y="906.90" font-size="5.2" text-anchor="middle" fill="#555">0</text>
<line x1="544.80" y1="899.90" x2="544.80" y2="901.60" stroke="#333" stroke-width="0.7"/>
<text class="s" x="544.80" y="906.90" font-size="5.2" text-anchor="middle" fill="#555">5</text>
<line x1="586.30" y1="899.90" x2="586.30" y2="901.60" stroke="#333" stroke-width="0.7"/>
<text class="s" x="586.30" y="906.90" font-size="5.2" text-anchor="middle" fill="#555">10</text>
<line x1="627.80" y1="899.90" x2="627.80" y2="901.60" stroke="#333" stroke-width="0.7"/>
<text class="s" x="627.80" y="906.90" font-size="5.2" text-anchor="middle" fill="#555">15</text>
<line x1="669.30" y1="899.90" x2="669.30" y2="901.60" stroke="#333" stroke-width="0.7"/>
<text class="s" x="669.30" y="906.90" font-size="5.2" text-anchor="middle" fill="#555">20</text>
<text class="s" x="587.00" y="914.20" font-size="6.4" text-anchor="middle" fill="#222">Time(years)</text>
<text class="s" x="479.70" y="894.40" font-size="6.6" text-anchor="middle" fill="#222" transform="rotate(-90 479.70 894.40)">Strata</text>
</svg>
</body></html>
